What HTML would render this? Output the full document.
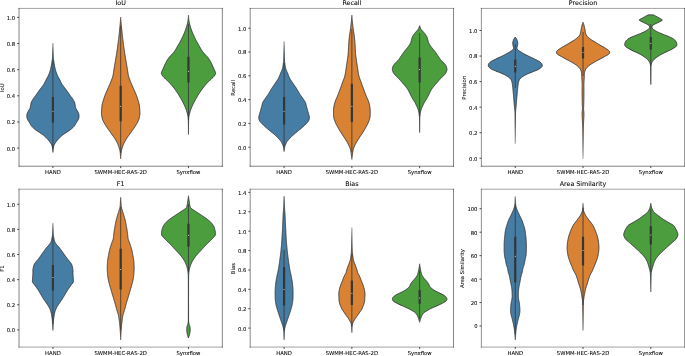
<!DOCTYPE html>
<html lang="en"><head><meta charset="utf-8"><title>Violin plots</title>
<style>html,body{margin:0;padding:0;background:#fff}svg{display:block;will-change:transform}text{stroke:#000;stroke-width:.06px;paint-order:stroke}</style></head>
<body>
<svg width="685" height="356" viewBox="0 0 685 356" font-family='"DejaVu Sans","Liberation Sans",sans-serif' font-size="5.30" fill="#000" stroke="none">
<rect width="685" height="356" fill="#fff"/>
<g>
<linearGradient id="g000" gradientUnits="userSpaceOnUse" x1="0" y1="43.00" x2="0" y2="152.50"><stop offset="0.0000" stop-color="#333537" stop-opacity="0.30"/><stop offset="0.1370" stop-color="#333537" stop-opacity="1.00"/><stop offset="0.9680" stop-color="#333537" stop-opacity="1.00"/><stop offset="1.0000" stop-color="#333537" stop-opacity="0.55"/></linearGradient>
<path d="M52.92 43.00 L52.93 43.50 L52.93 44.00 L52.94 44.50 L52.95 45.00 L52.96 45.50 L52.97 46.00 L52.98 46.50 L52.99 47.00 L53.01 47.50 L53.02 48.00 L53.03 48.50 L53.04 49.00 L53.05 49.50 L53.07 50.00 L53.08 50.50 L53.09 51.00 L53.11 51.50 L53.12 52.00 L53.13 52.50 L53.15 53.00 L53.16 53.50 L53.18 54.00 L53.20 54.50 L53.22 55.00 L53.24 55.50 L53.26 56.00 L53.28 56.50 L53.31 57.00 L53.33 57.50 L53.37 58.00 L53.41 58.50 L53.46 59.00 L53.52 59.50 L53.58 60.00 L53.65 60.50 L53.72 61.00 L53.79 61.50 L53.87 62.00 L53.95 62.50 L54.04 63.00 L54.13 63.50 L54.22 64.00 L54.30 64.50 L54.39 65.00 L54.48 65.50 L54.57 66.00 L54.66 66.50 L54.76 67.00 L54.87 67.50 L54.98 68.00 L55.09 68.50 L55.22 69.00 L55.34 69.50 L55.48 70.00 L55.62 70.50 L55.76 71.00 L55.92 71.50 L56.08 72.00 L56.24 72.50 L56.42 73.00 L56.60 73.50 L56.80 74.00 L57.00 74.50 L57.22 75.00 L57.44 75.50 L57.67 76.00 L57.92 76.50 L58.18 77.00 L58.47 77.50 L58.77 78.00 L59.07 78.50 L59.36 79.00 L59.62 79.50 L59.85 80.00 L60.07 80.50 L60.28 81.00 L60.52 81.50 L60.76 82.00 L61.00 82.50 L61.26 83.00 L61.53 83.50 L61.82 84.00 L62.14 84.50 L62.49 85.00 L62.86 85.50 L63.25 86.00 L63.64 86.50 L64.02 87.00 L64.39 87.50 L64.78 88.00 L65.16 88.50 L65.54 89.00 L65.92 89.50 L66.29 90.00 L66.65 90.50 L67.01 91.00 L67.37 91.50 L67.72 92.00 L68.07 92.50 L68.42 93.00 L68.76 93.50 L69.09 94.00 L69.42 94.50 L69.76 95.00 L70.10 95.50 L70.46 96.00 L70.85 96.50 L71.25 97.00 L71.65 97.50 L72.02 98.00 L72.36 98.50 L72.70 99.00 L73.02 99.50 L73.33 100.00 L73.62 100.50 L73.90 101.00 L74.18 101.50 L74.43 102.00 L74.62 102.50 L74.75 103.00 L74.85 103.50 L74.94 104.00 L75.02 104.50 L75.12 105.00 L75.21 105.50 L75.29 106.00 L75.38 106.50 L75.47 107.00 L75.58 107.50 L75.72 108.00 L75.92 108.50 L76.20 109.00 L76.53 109.50 L76.87 110.00 L77.19 110.50 L77.47 111.00 L77.73 111.50 L77.99 112.00 L78.24 112.50 L78.46 113.00 L78.63 113.50 L78.75 114.00 L78.84 114.50 L78.92 115.00 L78.98 115.50 L79.01 116.00 L79.01 116.50 L78.97 117.00 L78.90 117.50 L78.82 118.00 L78.68 118.50 L78.48 119.00 L78.24 119.50 L77.99 120.00 L77.72 120.50 L77.41 121.00 L77.09 121.50 L76.76 122.00 L76.44 122.50 L76.14 123.00 L75.85 123.50 L75.57 124.00 L75.29 124.50 L75.00 125.00 L74.67 125.50 L74.32 126.00 L73.91 126.50 L73.46 127.00 L72.97 127.50 L72.45 128.00 L71.89 128.50 L71.32 129.00 L70.70 129.50 L70.01 130.00 L69.29 130.50 L68.55 131.00 L67.80 131.50 L67.07 132.00 L66.32 132.50 L65.54 133.00 L64.76 133.50 L64.00 134.00 L63.28 134.50 L62.63 135.00 L62.01 135.50 L61.43 136.00 L60.87 136.50 L60.33 137.00 L59.82 137.50 L59.32 138.00 L58.85 138.50 L58.39 139.00 L57.95 139.50 L57.52 140.00 L57.12 140.50 L56.72 141.00 L56.33 141.50 L55.95 142.00 L55.59 142.50 L55.25 143.00 L54.93 143.50 L54.64 144.00 L54.36 144.50 L54.09 145.00 L53.87 145.50 L53.72 146.00 L53.61 146.50 L53.52 147.00 L53.45 147.50 L53.38 148.00 L53.33 148.50 L53.27 149.00 L53.21 149.50 L53.15 150.00 L53.10 150.50 L53.05 151.00 L53.00 151.50 L52.96 152.00 L52.92 152.50 L52.92 152.50 L52.88 152.00 L52.83 151.50 L52.79 151.00 L52.74 150.50 L52.68 150.00 L52.63 149.50 L52.57 149.00 L52.51 148.50 L52.45 148.00 L52.38 147.50 L52.31 147.00 L52.22 146.50 L52.12 146.00 L51.96 145.50 L51.74 145.00 L51.47 144.50 L51.19 144.00 L50.90 143.50 L50.59 143.00 L50.25 142.50 L49.88 142.00 L49.50 141.50 L49.11 141.00 L48.72 140.50 L48.31 140.00 L47.89 139.50 L47.45 139.00 L46.99 138.50 L46.51 138.00 L46.02 137.50 L45.50 137.00 L44.97 136.50 L44.41 136.00 L43.82 135.50 L43.21 135.00 L42.55 134.50 L41.83 134.00 L41.07 133.50 L40.29 133.00 L39.52 132.50 L38.76 132.00 L38.03 131.50 L37.28 131.00 L36.54 130.50 L35.82 130.00 L35.14 129.50 L34.52 129.00 L33.94 128.50 L33.39 128.00 L32.86 127.50 L32.37 127.00 L31.92 126.50 L31.52 126.00 L31.16 125.50 L30.84 125.00 L30.54 124.50 L30.26 124.00 L29.98 123.50 L29.70 123.00 L29.39 122.50 L29.07 122.00 L28.75 121.50 L28.42 121.00 L28.12 120.50 L27.84 120.00 L27.60 119.50 L27.36 119.00 L27.15 118.50 L27.02 118.00 L26.93 117.50 L26.87 117.00 L26.82 116.50 L26.82 116.00 L26.85 115.50 L26.91 115.00 L26.99 114.50 L27.09 114.00 L27.20 113.50 L27.37 113.00 L27.59 112.50 L27.84 112.00 L28.10 111.50 L28.37 111.00 L28.64 110.50 L28.96 110.00 L29.31 109.50 L29.63 109.00 L29.92 108.50 L30.12 108.00 L30.25 107.50 L30.36 107.00 L30.45 106.50 L30.54 106.00 L30.62 105.50 L30.72 105.00 L30.81 104.50 L30.89 104.00 L30.98 103.50 L31.09 103.00 L31.22 102.50 L31.40 102.00 L31.65 101.50 L31.93 101.00 L32.22 100.50 L32.51 100.00 L32.81 99.50 L33.14 99.00 L33.47 98.50 L33.82 98.00 L34.19 97.50 L34.58 97.00 L34.98 96.50 L35.37 96.00 L35.73 95.50 L36.08 95.00 L36.41 94.50 L36.74 94.00 L37.08 93.50 L37.42 93.00 L37.76 92.50 L38.11 92.00 L38.47 91.50 L38.82 91.00 L39.18 90.50 L39.54 90.00 L39.91 89.50 L40.29 89.00 L40.67 88.50 L41.06 88.00 L41.44 87.50 L41.82 87.00 L42.20 86.50 L42.58 86.00 L42.97 85.50 L43.34 85.00 L43.70 84.50 L44.02 84.00 L44.31 83.50 L44.58 83.00 L44.83 82.50 L45.07 82.00 L45.32 81.50 L45.55 81.00 L45.77 80.50 L45.99 80.00 L46.22 79.50 L46.47 79.00 L46.76 78.50 L47.06 78.00 L47.36 77.50 L47.65 77.00 L47.92 76.50 L48.16 76.00 L48.39 75.50 L48.62 75.00 L48.83 74.50 L49.04 74.00 L49.23 73.50 L49.41 73.00 L49.59 72.50 L49.76 72.00 L49.92 71.50 L50.07 71.00 L50.22 70.50 L50.36 70.00 L50.49 69.50 L50.62 69.00 L50.74 68.50 L50.86 68.00 L50.97 67.50 L51.07 67.00 L51.17 66.50 L51.26 66.00 L51.35 65.50 L51.44 65.00 L51.53 64.50 L51.62 64.00 L51.71 63.50 L51.79 63.00 L51.88 62.50 L51.97 62.00 L52.04 61.50 L52.12 61.00 L52.19 60.50 L52.25 60.00 L52.32 59.50 L52.38 59.00 L52.43 58.50 L52.47 58.00 L52.50 57.50 L52.53 57.00 L52.55 56.50 L52.58 56.00 L52.60 55.50 L52.62 55.00 L52.64 54.50 L52.65 54.00 L52.67 53.50 L52.68 53.00 L52.70 52.50 L52.71 52.00 L52.73 51.50 L52.74 51.00 L52.75 50.50 L52.77 50.00 L52.78 49.50 L52.79 49.00 L52.80 48.50 L52.82 48.00 L52.83 47.50 L52.84 47.00 L52.85 46.50 L52.86 46.00 L52.87 45.50 L52.88 45.00 L52.89 44.50 L52.90 44.00 L52.91 43.50 L52.92 43.00Z" fill="#467da5" stroke="url(#g000)" stroke-width="0.95" stroke-linejoin="round"/>
<line x1="52.92" y1="60.00" x2="52.92" y2="148.00" stroke="#333537" stroke-width="0.80"/>
<line x1="52.92" y1="97.00" x2="52.92" y2="122.50" stroke="#333537" stroke-width="2.20"/>
<circle cx="52.92" cy="111.25" r="0.50" fill="#fff"/>
<linearGradient id="g001" gradientUnits="userSpaceOnUse" x1="0" y1="17.00" x2="0" y2="159.00"><stop offset="0.0000" stop-color="#333537" stop-opacity="0.55"/><stop offset="0.0493" stop-color="#333537" stop-opacity="1.00"/><stop offset="0.9465" stop-color="#333537" stop-opacity="1.00"/><stop offset="1.0000" stop-color="#333537" stop-opacity="0.55"/></linearGradient>
<path d="M120.69 17.00 L120.72 17.50 L120.75 18.00 L120.78 18.50 L120.81 19.00 L120.85 19.50 L120.88 20.00 L120.92 20.50 L120.95 21.00 L120.99 21.50 L121.03 22.00 L121.07 22.50 L121.11 23.00 L121.15 23.50 L121.19 24.00 L121.23 24.50 L121.28 25.00 L121.33 25.50 L121.38 26.00 L121.43 26.50 L121.48 27.00 L121.53 27.50 L121.58 28.00 L121.64 28.50 L121.69 29.00 L121.74 29.50 L121.79 30.00 L121.84 30.50 L121.89 31.00 L121.94 31.50 L121.99 32.00 L122.04 32.50 L122.09 33.00 L122.14 33.50 L122.19 34.00 L122.24 34.50 L122.30 35.00 L122.35 35.50 L122.41 36.00 L122.47 36.50 L122.52 37.00 L122.58 37.50 L122.64 38.00 L122.70 38.50 L122.76 39.00 L122.82 39.50 L122.88 40.00 L122.94 40.50 L123.01 41.00 L123.07 41.50 L123.13 42.00 L123.20 42.50 L123.26 43.00 L123.32 43.50 L123.39 44.00 L123.46 44.50 L123.52 45.00 L123.59 45.50 L123.66 46.00 L123.73 46.50 L123.79 47.00 L123.86 47.50 L123.93 48.00 L124.00 48.50 L124.07 49.00 L124.15 49.50 L124.22 50.00 L124.29 50.50 L124.37 51.00 L124.44 51.50 L124.51 52.00 L124.59 52.50 L124.67 53.00 L124.74 53.50 L124.82 54.00 L124.90 54.50 L124.98 55.00 L125.06 55.50 L125.14 56.00 L125.22 56.50 L125.30 57.00 L125.39 57.50 L125.47 58.00 L125.56 58.50 L125.64 59.00 L125.73 59.50 L125.82 60.00 L125.90 60.50 L125.99 61.00 L126.07 61.50 L126.16 62.00 L126.24 62.50 L126.33 63.00 L126.42 63.50 L126.50 64.00 L126.59 64.50 L126.67 65.00 L126.76 65.50 L126.84 66.00 L126.93 66.50 L127.01 67.00 L127.09 67.50 L127.17 68.00 L127.25 68.50 L127.32 69.00 L127.39 69.50 L127.47 70.00 L127.54 70.50 L127.61 71.00 L127.69 71.50 L127.76 72.00 L127.84 72.50 L127.92 73.00 L128.01 73.50 L128.09 74.00 L128.18 74.50 L128.27 75.00 L128.38 75.50 L128.49 76.00 L128.62 76.50 L128.77 77.00 L128.94 77.50 L129.12 78.00 L129.30 78.50 L129.48 79.00 L129.66 79.50 L129.85 80.00 L130.04 80.50 L130.23 81.00 L130.43 81.50 L130.63 82.00 L130.84 82.50 L131.04 83.00 L131.26 83.50 L131.47 84.00 L131.69 84.50 L131.91 85.00 L132.13 85.50 L132.35 86.00 L132.57 86.50 L132.79 87.00 L133.01 87.50 L133.23 88.00 L133.45 88.50 L133.67 89.00 L133.90 89.50 L134.13 90.00 L134.36 90.50 L134.58 91.00 L134.81 91.50 L135.03 92.00 L135.25 92.50 L135.46 93.00 L135.66 93.50 L135.86 94.00 L136.05 94.50 L136.25 95.00 L136.44 95.50 L136.62 96.00 L136.81 96.50 L136.99 97.00 L137.16 97.50 L137.33 98.00 L137.50 98.50 L137.66 99.00 L137.81 99.50 L137.96 100.00 L138.11 100.50 L138.26 101.00 L138.41 101.50 L138.56 102.00 L138.70 102.50 L138.84 103.00 L138.96 103.50 L139.08 104.00 L139.18 104.50 L139.27 105.00 L139.34 105.50 L139.40 106.00 L139.46 106.50 L139.52 107.00 L139.57 107.50 L139.62 108.00 L139.66 108.50 L139.70 109.00 L139.74 109.50 L139.77 110.00 L139.80 110.50 L139.82 111.00 L139.84 111.50 L139.86 112.00 L139.88 112.50 L139.89 113.00 L139.89 113.50 L139.87 114.00 L139.81 114.50 L139.73 115.00 L139.64 115.50 L139.56 116.00 L139.48 116.50 L139.40 117.00 L139.31 117.50 L139.22 118.00 L139.11 118.50 L138.99 119.00 L138.84 119.50 L138.64 120.00 L138.42 120.50 L138.19 121.00 L137.94 121.50 L137.69 122.00 L137.43 122.50 L137.16 123.00 L136.87 123.50 L136.57 124.00 L136.27 124.50 L135.97 125.00 L135.67 125.50 L135.36 126.00 L135.04 126.50 L134.72 127.00 L134.39 127.50 L134.05 128.00 L133.70 128.50 L133.34 129.00 L132.97 129.50 L132.60 130.00 L132.23 130.50 L131.88 131.00 L131.53 131.50 L131.18 132.00 L130.83 132.50 L130.48 133.00 L130.13 133.50 L129.77 134.00 L129.41 134.50 L129.04 135.00 L128.68 135.50 L128.31 136.00 L127.96 136.50 L127.61 137.00 L127.27 137.50 L126.92 138.00 L126.59 138.50 L126.26 139.00 L125.95 139.50 L125.65 140.00 L125.36 140.50 L125.08 141.00 L124.80 141.50 L124.54 142.00 L124.29 142.50 L124.05 143.00 L123.82 143.50 L123.60 144.00 L123.39 144.50 L123.18 145.00 L122.99 145.50 L122.80 146.00 L122.63 146.50 L122.45 147.00 L122.29 147.50 L122.14 148.00 L121.99 148.50 L121.85 149.00 L121.71 149.50 L121.57 150.00 L121.45 150.50 L121.35 151.00 L121.28 151.50 L121.22 152.00 L121.17 152.50 L121.13 153.00 L121.10 153.50 L121.06 154.00 L121.03 154.50 L120.99 155.00 L120.95 155.50 L120.91 156.00 L120.87 156.50 L120.84 157.00 L120.80 157.50 L120.76 158.00 L120.73 158.50 L120.69 159.00 L120.69 159.00 L120.65 158.50 L120.62 158.00 L120.58 157.50 L120.54 157.00 L120.51 156.50 L120.47 156.00 L120.43 155.50 L120.39 155.00 L120.35 154.50 L120.32 154.00 L120.28 153.50 L120.25 153.00 L120.21 152.50 L120.16 152.00 L120.10 151.50 L120.03 151.00 L119.93 150.50 L119.81 150.00 L119.67 149.50 L119.53 149.00 L119.39 148.50 L119.24 148.00 L119.09 147.50 L118.93 147.00 L118.75 146.50 L118.58 146.00 L118.39 145.50 L118.20 145.00 L117.99 144.50 L117.78 144.00 L117.56 143.50 L117.33 143.00 L117.09 142.50 L116.84 142.00 L116.58 141.50 L116.30 141.00 L116.02 140.50 L115.73 140.00 L115.43 139.50 L115.12 139.00 L114.79 138.50 L114.46 138.00 L114.11 137.50 L113.77 137.00 L113.42 136.50 L113.07 136.00 L112.70 135.50 L112.34 135.00 L111.97 134.50 L111.61 134.00 L111.25 133.50 L110.90 133.00 L110.55 132.50 L110.20 132.00 L109.85 131.50 L109.50 131.00 L109.15 130.50 L108.78 130.00 L108.41 129.50 L108.04 129.00 L107.68 128.50 L107.33 128.00 L106.99 127.50 L106.66 127.00 L106.34 126.50 L106.02 126.00 L105.71 125.50 L105.41 125.00 L105.11 124.50 L104.81 124.00 L104.51 123.50 L104.22 123.00 L103.95 122.50 L103.69 122.00 L103.44 121.50 L103.19 121.00 L102.96 120.50 L102.74 120.00 L102.54 119.50 L102.39 119.00 L102.27 118.50 L102.16 118.00 L102.07 117.50 L101.98 117.00 L101.90 116.50 L101.82 116.00 L101.74 115.50 L101.65 115.00 L101.57 114.50 L101.51 114.00 L101.49 113.50 L101.49 113.00 L101.50 112.50 L101.52 112.00 L101.54 111.50 L101.56 111.00 L101.58 110.50 L101.61 110.00 L101.64 109.50 L101.68 109.00 L101.72 108.50 L101.76 108.00 L101.81 107.50 L101.86 107.00 L101.92 106.50 L101.98 106.00 L102.04 105.50 L102.11 105.00 L102.20 104.50 L102.30 104.00 L102.42 103.50 L102.54 103.00 L102.68 102.50 L102.82 102.00 L102.97 101.50 L103.12 101.00 L103.27 100.50 L103.42 100.00 L103.57 99.50 L103.72 99.00 L103.88 98.50 L104.05 98.00 L104.22 97.50 L104.39 97.00 L104.57 96.50 L104.76 96.00 L104.94 95.50 L105.13 95.00 L105.33 94.50 L105.52 94.00 L105.72 93.50 L105.92 93.00 L106.13 92.50 L106.35 92.00 L106.57 91.50 L106.80 91.00 L107.02 90.50 L107.25 90.00 L107.48 89.50 L107.71 89.00 L107.93 88.50 L108.15 88.00 L108.37 87.50 L108.59 87.00 L108.81 86.50 L109.03 86.00 L109.25 85.50 L109.47 85.00 L109.69 84.50 L109.91 84.00 L110.12 83.50 L110.34 83.00 L110.54 82.50 L110.75 82.00 L110.95 81.50 L111.15 81.00 L111.34 80.50 L111.53 80.00 L111.72 79.50 L111.90 79.00 L112.08 78.50 L112.26 78.00 L112.44 77.50 L112.61 77.00 L112.76 76.50 L112.89 76.00 L113.00 75.50 L113.11 75.00 L113.20 74.50 L113.29 74.00 L113.37 73.50 L113.46 73.00 L113.54 72.50 L113.62 72.00 L113.69 71.50 L113.77 71.00 L113.84 70.50 L113.91 70.00 L113.99 69.50 L114.06 69.00 L114.13 68.50 L114.21 68.00 L114.29 67.50 L114.37 67.00 L114.45 66.50 L114.54 66.00 L114.62 65.50 L114.71 65.00 L114.79 64.50 L114.88 64.00 L114.96 63.50 L115.05 63.00 L115.14 62.50 L115.22 62.00 L115.31 61.50 L115.39 61.00 L115.48 60.50 L115.56 60.00 L115.65 59.50 L115.74 59.00 L115.82 58.50 L115.91 58.00 L115.99 57.50 L116.08 57.00 L116.16 56.50 L116.24 56.00 L116.32 55.50 L116.40 55.00 L116.48 54.50 L116.56 54.00 L116.64 53.50 L116.71 53.00 L116.79 52.50 L116.87 52.00 L116.94 51.50 L117.01 51.00 L117.09 50.50 L117.16 50.00 L117.23 49.50 L117.31 49.00 L117.38 48.50 L117.45 48.00 L117.52 47.50 L117.59 47.00 L117.65 46.50 L117.72 46.00 L117.79 45.50 L117.86 45.00 L117.92 44.50 L117.99 44.00 L118.06 43.50 L118.12 43.00 L118.18 42.50 L118.25 42.00 L118.31 41.50 L118.37 41.00 L118.44 40.50 L118.50 40.00 L118.56 39.50 L118.62 39.00 L118.68 38.50 L118.74 38.00 L118.80 37.50 L118.86 37.00 L118.91 36.50 L118.97 36.00 L119.03 35.50 L119.08 35.00 L119.14 34.50 L119.19 34.00 L119.24 33.50 L119.29 33.00 L119.34 32.50 L119.39 32.00 L119.44 31.50 L119.49 31.00 L119.54 30.50 L119.59 30.00 L119.64 29.50 L119.69 29.00 L119.74 28.50 L119.80 28.00 L119.85 27.50 L119.90 27.00 L119.95 26.50 L120.00 26.00 L120.05 25.50 L120.10 25.00 L120.15 24.50 L120.19 24.00 L120.23 23.50 L120.27 23.00 L120.31 22.50 L120.35 22.00 L120.39 21.50 L120.43 21.00 L120.46 20.50 L120.50 20.00 L120.53 19.50 L120.57 19.00 L120.60 18.50 L120.63 18.00 L120.66 17.50 L120.69 17.00Z" fill="#da8234" stroke="url(#g001)" stroke-width="0.95" stroke-linejoin="round"/>
<line x1="120.69" y1="26.00" x2="120.69" y2="153.00" stroke="#333537" stroke-width="0.80"/>
<line x1="120.69" y1="85.80" x2="120.69" y2="121.30" stroke="#333537" stroke-width="2.20"/>
<circle cx="120.69" cy="106.25" r="0.50" fill="#fff"/>
<linearGradient id="g002" gradientUnits="userSpaceOnUse" x1="0" y1="15.00" x2="0" y2="134.50"><stop offset="0.0000" stop-color="#333537" stop-opacity="0.55"/><stop offset="0.0628" stop-color="#333537" stop-opacity="1.00"/><stop offset="0.8326" stop-color="#333537" stop-opacity="1.00"/><stop offset="1.0000" stop-color="#333537" stop-opacity="0.70"/></linearGradient>
<path d="M188.46 15.00 L188.49 15.50 L188.51 16.00 L188.55 16.50 L188.58 17.00 L188.62 17.50 L188.67 18.00 L188.71 18.50 L188.76 19.00 L188.82 19.50 L188.88 20.00 L188.94 20.50 L189.01 21.00 L189.09 21.50 L189.17 22.00 L189.26 22.50 L189.36 23.00 L189.48 23.50 L189.60 24.00 L189.74 24.50 L189.88 25.00 L190.02 25.50 L190.16 26.00 L190.31 26.50 L190.46 27.00 L190.62 27.50 L190.78 28.00 L190.94 28.50 L191.11 29.00 L191.29 29.50 L191.46 30.00 L191.64 30.50 L191.83 31.00 L192.02 31.50 L192.22 32.00 L192.41 32.50 L192.62 33.00 L192.82 33.50 L193.03 34.00 L193.25 34.50 L193.46 35.00 L193.68 35.50 L193.91 36.00 L194.14 36.50 L194.37 37.00 L194.61 37.50 L194.86 38.00 L195.10 38.50 L195.35 39.00 L195.61 39.50 L195.86 40.00 L196.12 40.50 L196.39 41.00 L196.66 41.50 L196.93 42.00 L197.21 42.50 L197.49 43.00 L197.78 43.50 L198.06 44.00 L198.35 44.50 L198.64 45.00 L198.93 45.50 L199.22 46.00 L199.51 46.50 L199.79 47.00 L200.08 47.50 L200.36 48.00 L200.65 48.50 L200.94 49.00 L201.24 49.50 L201.55 50.00 L201.86 50.50 L202.20 51.00 L202.55 51.50 L202.91 52.00 L203.32 52.50 L203.75 53.00 L204.21 53.50 L204.67 54.00 L205.14 54.50 L205.59 55.00 L206.07 55.50 L206.55 56.00 L207.04 56.50 L207.49 57.00 L207.91 57.50 L208.28 58.00 L208.63 58.50 L208.97 59.00 L209.29 59.50 L209.60 60.00 L209.90 60.50 L210.18 61.00 L210.46 61.50 L210.73 62.00 L211.00 62.50 L211.26 63.00 L211.51 63.50 L211.76 64.00 L212.00 64.50 L212.23 65.00 L212.46 65.50 L212.68 66.00 L212.90 66.50 L213.11 67.00 L213.32 67.50 L213.53 68.00 L213.74 68.50 L213.95 69.00 L214.16 69.50 L214.39 70.00 L214.64 70.50 L214.88 71.00 L215.10 71.50 L215.28 72.00 L215.41 72.50 L215.53 73.00 L215.56 73.50 L215.44 74.00 L215.21 74.50 L214.91 75.00 L214.60 75.50 L214.26 76.00 L213.85 76.50 L213.39 77.00 L212.90 77.50 L212.38 78.00 L211.87 78.50 L211.36 79.00 L210.83 79.50 L210.27 80.00 L209.70 80.50 L209.13 81.00 L208.58 81.50 L208.06 82.00 L207.58 82.50 L207.11 83.00 L206.66 83.50 L206.22 84.00 L205.79 84.50 L205.36 85.00 L204.94 85.50 L204.52 86.00 L204.11 86.50 L203.71 87.00 L203.32 87.50 L202.94 88.00 L202.57 88.50 L202.21 89.00 L201.86 89.50 L201.52 90.00 L201.17 90.50 L200.82 91.00 L200.47 91.50 L200.13 92.00 L199.78 92.50 L199.44 93.00 L199.11 93.50 L198.79 94.00 L198.47 94.50 L198.17 95.00 L197.87 95.50 L197.58 96.00 L197.28 96.50 L196.99 97.00 L196.69 97.50 L196.39 98.00 L196.10 98.50 L195.81 99.00 L195.53 99.50 L195.25 100.00 L194.97 100.50 L194.70 101.00 L194.43 101.50 L194.17 102.00 L193.91 102.50 L193.66 103.00 L193.41 103.50 L193.17 104.00 L192.93 104.50 L192.69 105.00 L192.46 105.50 L192.23 106.00 L192.01 106.50 L191.79 107.00 L191.57 107.50 L191.36 108.00 L191.16 108.50 L190.97 109.00 L190.78 109.50 L190.60 110.00 L190.43 110.50 L190.27 111.00 L190.11 111.50 L189.97 112.00 L189.84 112.50 L189.71 113.00 L189.59 113.50 L189.48 114.00 L189.36 114.50 L189.24 115.00 L189.12 115.50 L188.99 116.00 L188.89 116.50 L188.80 117.00 L188.76 117.50 L188.72 118.00 L188.70 118.50 L188.67 119.00 L188.65 119.50 L188.63 120.00 L188.62 120.50 L188.60 121.00 L188.59 121.50 L188.58 122.00 L188.57 122.50 L188.57 123.00 L188.56 123.50 L188.55 124.00 L188.54 124.50 L188.54 125.00 L188.53 125.50 L188.52 126.00 L188.52 126.50 L188.51 127.00 L188.50 127.50 L188.50 128.00 L188.49 128.50 L188.49 129.00 L188.49 129.50 L188.48 130.00 L188.48 130.50 L188.47 131.00 L188.47 131.50 L188.47 132.00 L188.47 132.50 L188.47 133.00 L188.46 133.50 L188.46 134.00 L188.46 134.50 L188.46 134.50 L188.46 134.00 L188.46 133.50 L188.46 133.00 L188.46 132.50 L188.46 132.00 L188.46 131.50 L188.45 131.00 L188.45 130.50 L188.45 130.00 L188.44 129.50 L188.44 129.00 L188.43 128.50 L188.43 128.00 L188.42 127.50 L188.42 127.00 L188.41 126.50 L188.40 126.00 L188.40 125.50 L188.39 125.00 L188.38 124.50 L188.38 124.00 L188.37 123.50 L188.36 123.00 L188.35 122.50 L188.34 122.00 L188.33 121.50 L188.32 121.00 L188.31 120.50 L188.29 120.00 L188.28 119.50 L188.25 119.00 L188.23 118.50 L188.20 118.00 L188.17 117.50 L188.12 117.00 L188.04 116.50 L187.93 116.00 L187.81 115.50 L187.68 115.00 L187.56 114.50 L187.45 114.00 L187.33 113.50 L187.21 113.00 L187.09 112.50 L186.95 112.00 L186.81 111.50 L186.66 111.00 L186.50 110.50 L186.32 110.00 L186.14 109.50 L185.96 109.00 L185.76 108.50 L185.56 108.00 L185.36 107.50 L185.14 107.00 L184.92 106.50 L184.70 106.00 L184.47 105.50 L184.24 105.00 L184.00 104.50 L183.76 104.00 L183.51 103.50 L183.27 103.00 L183.01 102.50 L182.76 102.00 L182.49 101.50 L182.23 101.00 L181.95 100.50 L181.68 100.00 L181.40 99.50 L181.12 99.00 L180.83 98.50 L180.53 98.00 L180.24 97.50 L179.94 97.00 L179.64 96.50 L179.35 96.00 L179.05 95.50 L178.76 95.00 L178.45 94.50 L178.14 94.00 L177.82 93.50 L177.49 93.00 L177.15 92.50 L176.80 92.00 L176.45 91.50 L176.10 91.00 L175.76 90.50 L175.41 90.00 L175.06 89.50 L174.71 89.00 L174.36 88.50 L173.99 88.00 L173.61 87.50 L173.22 87.00 L172.81 86.50 L172.40 86.00 L171.99 85.50 L171.56 85.00 L171.14 84.50 L170.70 84.00 L170.26 83.50 L169.81 83.00 L169.35 82.50 L168.86 82.00 L168.35 81.50 L167.80 81.00 L167.22 80.50 L166.65 80.00 L166.09 79.50 L165.56 79.00 L165.06 78.50 L164.54 78.00 L164.03 77.50 L163.54 77.00 L163.08 76.50 L162.67 76.00 L162.32 75.50 L162.02 75.00 L161.72 74.50 L161.48 74.00 L161.37 73.50 L161.40 73.00 L161.51 72.50 L161.65 72.00 L161.83 71.50 L162.05 71.00 L162.29 70.50 L162.53 70.00 L162.76 69.50 L162.98 69.00 L163.19 68.50 L163.40 68.00 L163.61 67.50 L163.82 67.00 L164.03 66.50 L164.25 66.00 L164.47 65.50 L164.69 65.00 L164.92 64.50 L165.16 64.00 L165.41 63.50 L165.67 63.00 L165.93 62.50 L166.19 62.00 L166.46 61.50 L166.74 61.00 L167.03 60.50 L167.33 60.00 L167.64 59.50 L167.96 59.00 L168.29 58.50 L168.65 58.00 L169.02 57.50 L169.43 57.00 L169.89 56.50 L170.37 56.00 L170.86 55.50 L171.33 55.00 L171.79 54.50 L172.25 54.00 L172.72 53.50 L173.17 53.00 L173.61 52.50 L174.01 52.00 L174.38 51.50 L174.73 51.00 L175.06 50.50 L175.38 50.00 L175.69 49.50 L175.99 49.00 L176.28 48.50 L176.57 48.00 L176.85 47.50 L177.13 47.00 L177.42 46.50 L177.71 46.00 L178.00 45.50 L178.29 45.00 L178.58 44.50 L178.87 44.00 L179.15 43.50 L179.44 43.00 L179.72 42.50 L179.99 42.00 L180.27 41.50 L180.54 41.00 L180.80 40.50 L181.06 40.00 L181.32 39.50 L181.57 39.00 L181.82 38.50 L182.07 38.00 L182.31 37.50 L182.55 37.00 L182.79 36.50 L183.02 36.00 L183.24 35.50 L183.46 35.00 L183.68 34.50 L183.89 34.00 L184.10 33.50 L184.31 33.00 L184.51 32.50 L184.71 32.00 L184.91 31.50 L185.10 31.00 L185.28 30.50 L185.46 30.00 L185.64 29.50 L185.81 29.00 L185.98 28.50 L186.15 28.00 L186.31 27.50 L186.47 27.00 L186.62 26.50 L186.76 26.00 L186.91 25.50 L187.05 25.00 L187.19 24.50 L187.32 24.00 L187.45 23.50 L187.56 23.00 L187.66 22.50 L187.75 22.00 L187.84 21.50 L187.91 21.00 L187.99 20.50 L188.05 20.00 L188.11 19.50 L188.16 19.00 L188.21 18.50 L188.26 18.00 L188.30 17.50 L188.34 17.00 L188.38 16.50 L188.41 16.00 L188.44 15.50 L188.46 15.00Z" fill="#4b9d3e" stroke="url(#g002)" stroke-width="0.95" stroke-linejoin="round"/>
<line x1="188.46" y1="24.00" x2="188.46" y2="120.00" stroke="#333537" stroke-width="0.80"/>
<line x1="188.46" y1="56.75" x2="188.46" y2="82.50" stroke="#333537" stroke-width="2.20"/>
<circle cx="188.46" cy="71.25" r="0.50" fill="#fff"/>
<line x1="19.03" y1="8.43" x2="222.35" y2="8.43" stroke="#111" stroke-width="0.85" stroke-opacity="0.45" stroke-linecap="square"/>
<line x1="19.03" y1="166.22" x2="222.35" y2="166.22" stroke="#111" stroke-width="0.52" stroke-opacity="1.00" stroke-linecap="square"/>
<line x1="19.03" y1="8.43" x2="19.03" y2="166.22" stroke="#111" stroke-width="0.52" stroke-opacity="1.00" stroke-linecap="square"/>
<line x1="222.35" y1="8.43" x2="222.35" y2="166.22" stroke="#111" stroke-width="0.52" stroke-opacity="1.00" stroke-linecap="square"/>
<line x1="17.18" y1="148.10" x2="19.03" y2="148.10" stroke="#111" stroke-width="0.75"/>
<text x="15.18" y="150.53" text-anchor="end">0.0</text>
<line x1="17.18" y1="121.96" x2="19.03" y2="121.96" stroke="#111" stroke-width="0.75"/>
<text x="15.18" y="124.39" text-anchor="end">0.2</text>
<line x1="17.18" y1="95.82" x2="19.03" y2="95.82" stroke="#111" stroke-width="0.75"/>
<text x="15.18" y="98.25" text-anchor="end">0.4</text>
<line x1="17.18" y1="69.68" x2="19.03" y2="69.68" stroke="#111" stroke-width="0.75"/>
<text x="15.18" y="72.11" text-anchor="end">0.6</text>
<line x1="17.18" y1="43.54" x2="19.03" y2="43.54" stroke="#111" stroke-width="0.75"/>
<text x="15.18" y="45.97" text-anchor="end">0.8</text>
<line x1="17.18" y1="17.40" x2="19.03" y2="17.40" stroke="#111" stroke-width="0.75"/>
<text x="15.18" y="19.83" text-anchor="end">1.0</text>
<line x1="52.92" y1="166.22" x2="52.92" y2="168.07" stroke="#111" stroke-width="0.75"/>
<text x="52.92" y="173.97" text-anchor="middle">HAND</text>
<line x1="120.69" y1="166.22" x2="120.69" y2="168.07" stroke="#111" stroke-width="0.75"/>
<text x="120.69" y="173.97" text-anchor="middle">SWMM-HEC-RAS-2D</text>
<line x1="188.46" y1="166.22" x2="188.46" y2="168.07" stroke="#111" stroke-width="0.75"/>
<text x="188.46" y="173.97" text-anchor="middle">Synxflow</text>
<text x="120.69" y="5.13" text-anchor="middle" font-size="6.35">IoU</text>
<text transform="translate(4.13 87.83) rotate(-90)" text-anchor="middle">IoU</text>
</g>
<g>
<linearGradient id="g010" gradientUnits="userSpaceOnUse" x1="0" y1="41.25" x2="0" y2="151.70"><stop offset="0.0000" stop-color="#333537" stop-opacity="0.30"/><stop offset="0.1625" stop-color="#333537" stop-opacity="1.00"/><stop offset="0.9710" stop-color="#333537" stop-opacity="1.00"/><stop offset="1.0000" stop-color="#333537" stop-opacity="0.55"/></linearGradient>
<path d="M284.09 41.25 L284.09 41.75 L284.10 42.25 L284.11 42.75 L284.12 43.25 L284.13 43.75 L284.13 44.25 L284.14 44.75 L284.15 45.25 L284.16 45.75 L284.17 46.25 L284.18 46.75 L284.19 47.25 L284.20 47.75 L284.20 48.25 L284.21 48.75 L284.22 49.25 L284.23 49.75 L284.24 50.25 L284.25 50.75 L284.26 51.25 L284.27 51.75 L284.28 52.25 L284.29 52.75 L284.30 53.25 L284.31 53.75 L284.32 54.25 L284.33 54.75 L284.34 55.25 L284.35 55.75 L284.36 56.25 L284.37 56.75 L284.38 57.25 L284.39 57.75 L284.41 58.25 L284.42 58.75 L284.44 59.25 L284.46 59.75 L284.49 60.25 L284.52 60.75 L284.56 61.25 L284.60 61.75 L284.65 62.25 L284.72 62.75 L284.80 63.25 L284.87 63.75 L284.95 64.25 L285.02 64.75 L285.09 65.25 L285.16 65.75 L285.22 66.25 L285.30 66.75 L285.39 67.25 L285.49 67.75 L285.62 68.25 L285.77 68.75 L285.93 69.25 L286.11 69.75 L286.29 70.25 L286.48 70.75 L286.70 71.25 L286.93 71.75 L287.16 72.25 L287.40 72.75 L287.62 73.25 L287.83 73.75 L288.02 74.25 L288.20 74.75 L288.39 75.25 L288.58 75.75 L288.79 76.25 L289.01 76.75 L289.22 77.25 L289.45 77.75 L289.69 78.25 L289.95 78.75 L290.23 79.25 L290.54 79.75 L290.88 80.25 L291.23 80.75 L291.59 81.25 L291.93 81.75 L292.27 82.25 L292.61 82.75 L292.94 83.25 L293.28 83.75 L293.61 84.25 L293.95 84.75 L294.29 85.25 L294.64 85.75 L294.99 86.25 L295.34 86.75 L295.68 87.25 L296.00 87.75 L296.32 88.25 L296.63 88.75 L296.93 89.25 L297.23 89.75 L297.52 90.25 L297.82 90.75 L298.11 91.25 L298.39 91.75 L298.67 92.25 L298.96 92.75 L299.26 93.25 L299.57 93.75 L299.90 94.25 L300.25 94.75 L300.61 95.25 L300.98 95.75 L301.34 96.25 L301.69 96.75 L302.04 97.25 L302.39 97.75 L302.73 98.25 L303.07 98.75 L303.41 99.25 L303.74 99.75 L304.08 100.25 L304.43 100.75 L304.77 101.25 L305.08 101.75 L305.33 102.25 L305.53 102.75 L305.68 103.25 L305.81 103.75 L305.93 104.25 L306.05 104.75 L306.17 105.25 L306.31 105.75 L306.45 106.25 L306.59 106.75 L306.74 107.25 L306.88 107.75 L307.02 108.25 L307.15 108.75 L307.28 109.25 L307.41 109.75 L307.53 110.25 L307.66 110.75 L307.80 111.25 L307.94 111.75 L308.10 112.25 L308.27 112.75 L308.43 113.25 L308.59 113.75 L308.73 114.25 L308.84 114.75 L308.96 115.25 L309.08 115.75 L309.19 116.25 L309.29 116.75 L309.35 117.25 L309.38 117.75 L309.37 118.25 L309.29 118.75 L309.15 119.25 L308.98 119.75 L308.79 120.25 L308.57 120.75 L308.28 121.25 L307.91 121.75 L307.48 122.25 L307.02 122.75 L306.55 123.25 L306.08 123.75 L305.62 124.25 L305.14 124.75 L304.63 125.25 L304.11 125.75 L303.58 126.25 L303.03 126.75 L302.47 127.25 L301.89 127.75 L301.29 128.25 L300.69 128.75 L300.08 129.25 L299.48 129.75 L298.87 130.25 L298.25 130.75 L297.63 131.25 L297.02 131.75 L296.41 132.25 L295.81 132.75 L295.20 133.25 L294.60 133.75 L294.01 134.25 L293.43 134.75 L292.86 135.25 L292.33 135.75 L291.82 136.25 L291.32 136.75 L290.84 137.25 L290.38 137.75 L289.92 138.25 L289.46 138.75 L288.99 139.25 L288.52 139.75 L288.06 140.25 L287.64 140.75 L287.26 141.25 L286.93 141.75 L286.64 142.25 L286.38 142.75 L286.13 143.25 L285.90 143.75 L285.67 144.25 L285.44 144.75 L285.21 145.25 L285.02 145.75 L284.87 146.25 L284.77 146.75 L284.68 147.25 L284.60 147.75 L284.52 148.25 L284.45 148.75 L284.38 149.25 L284.31 149.75 L284.25 150.25 L284.19 150.75 L284.13 151.25 L284.09 151.70 L284.09 151.70 L284.04 151.25 L283.99 150.75 L283.93 150.25 L283.86 149.75 L283.79 149.25 L283.72 148.75 L283.65 148.25 L283.58 147.75 L283.50 147.25 L283.41 146.75 L283.30 146.25 L283.15 145.75 L282.96 145.25 L282.74 144.75 L282.50 144.25 L282.27 143.75 L282.04 143.25 L281.80 142.75 L281.53 142.25 L281.24 141.75 L280.92 141.25 L280.54 140.75 L280.11 140.25 L279.66 139.75 L279.19 139.25 L278.72 138.75 L278.26 138.25 L277.80 137.75 L277.33 137.25 L276.85 136.75 L276.36 136.25 L275.84 135.75 L275.31 135.25 L274.75 134.75 L274.17 134.25 L273.57 133.75 L272.97 133.25 L272.37 132.75 L271.77 132.25 L271.15 131.75 L270.54 131.25 L269.92 130.75 L269.30 130.25 L268.70 129.75 L268.09 129.25 L267.49 128.75 L266.88 128.25 L266.28 127.75 L265.70 127.25 L265.14 126.75 L264.60 126.25 L264.06 125.75 L263.54 125.25 L263.04 124.75 L262.55 124.25 L262.09 123.75 L261.63 123.25 L261.15 122.75 L260.69 122.25 L260.27 121.75 L259.89 121.25 L259.60 120.75 L259.39 120.25 L259.20 119.75 L259.02 119.25 L258.89 118.75 L258.81 118.25 L258.79 117.75 L258.82 117.25 L258.89 116.75 L258.98 116.25 L259.09 115.75 L259.21 115.25 L259.33 114.75 L259.45 114.25 L259.58 113.75 L259.74 113.25 L259.91 112.75 L260.07 112.25 L260.23 111.75 L260.38 111.25 L260.51 110.75 L260.64 110.25 L260.77 109.75 L260.89 109.25 L261.02 108.75 L261.15 108.25 L261.29 107.75 L261.44 107.25 L261.58 106.75 L261.73 106.25 L261.87 105.75 L262.00 105.25 L262.12 104.75 L262.24 104.25 L262.36 103.75 L262.49 103.25 L262.65 102.75 L262.84 102.25 L263.10 101.75 L263.40 101.25 L263.74 100.75 L264.09 100.25 L264.44 99.75 L264.77 99.25 L265.10 98.75 L265.44 98.25 L265.79 97.75 L266.13 97.25 L266.48 96.75 L266.83 96.25 L267.19 95.75 L267.56 95.25 L267.92 94.75 L268.27 94.25 L268.60 93.75 L268.92 93.25 L269.21 92.75 L269.50 92.25 L269.78 91.75 L270.07 91.25 L270.36 90.75 L270.65 90.25 L270.95 89.75 L271.24 89.25 L271.55 88.75 L271.85 88.25 L272.17 87.75 L272.50 87.25 L272.84 86.75 L273.18 86.25 L273.53 85.75 L273.88 85.25 L274.22 84.75 L274.56 84.25 L274.90 83.75 L275.23 83.25 L275.57 82.75 L275.90 82.25 L276.24 81.75 L276.59 81.25 L276.94 80.75 L277.30 80.25 L277.63 79.75 L277.94 79.25 L278.22 78.75 L278.48 78.25 L278.72 77.75 L278.95 77.25 L279.17 76.75 L279.38 76.25 L279.59 75.75 L279.78 75.25 L279.97 74.75 L280.16 74.25 L280.35 73.75 L280.55 73.25 L280.77 72.75 L281.01 72.25 L281.25 71.75 L281.48 71.25 L281.69 70.75 L281.88 70.25 L282.06 69.75 L282.24 69.25 L282.41 68.75 L282.55 68.25 L282.68 67.75 L282.79 67.25 L282.87 66.75 L282.95 66.25 L283.02 65.75 L283.08 65.25 L283.15 64.75 L283.22 64.25 L283.30 63.75 L283.38 63.25 L283.45 62.75 L283.52 62.25 L283.57 61.75 L283.62 61.25 L283.65 60.75 L283.69 60.25 L283.71 59.75 L283.73 59.25 L283.75 58.75 L283.77 58.25 L283.78 57.75 L283.79 57.25 L283.80 56.75 L283.81 56.25 L283.82 55.75 L283.83 55.25 L283.84 54.75 L283.85 54.25 L283.86 53.75 L283.87 53.25 L283.88 52.75 L283.89 52.25 L283.90 51.75 L283.91 51.25 L283.92 50.75 L283.93 50.25 L283.94 49.75 L283.95 49.25 L283.96 48.75 L283.97 48.25 L283.98 47.75 L283.99 47.25 L284.00 46.75 L284.00 46.25 L284.01 45.75 L284.02 45.25 L284.03 44.75 L284.04 44.25 L284.05 43.75 L284.06 43.25 L284.06 42.75 L284.07 42.25 L284.08 41.75 L284.09 41.25Z" fill="#467da5" stroke="url(#g010)" stroke-width="0.95" stroke-linejoin="round"/>
<line x1="284.09" y1="63.00" x2="284.09" y2="147.00" stroke="#333537" stroke-width="0.80"/>
<line x1="284.09" y1="97.00" x2="284.09" y2="124.50" stroke="#333537" stroke-width="2.20"/>
<circle cx="284.09" cy="111.25" r="0.50" fill="#fff"/>
<linearGradient id="g011" gradientUnits="userSpaceOnUse" x1="0" y1="15.00" x2="0" y2="159.50"><stop offset="0.0000" stop-color="#333537" stop-opacity="0.55"/><stop offset="0.0401" stop-color="#333537" stop-opacity="1.00"/><stop offset="0.9689" stop-color="#333537" stop-opacity="1.00"/><stop offset="1.0000" stop-color="#333537" stop-opacity="0.55"/></linearGradient>
<path d="M351.86 15.00 L351.88 15.50 L351.91 16.00 L351.93 16.50 L351.96 17.00 L352.00 17.50 L352.03 18.00 L352.07 18.50 L352.11 19.00 L352.15 19.50 L352.19 20.00 L352.23 20.50 L352.28 21.00 L352.33 21.50 L352.38 22.00 L352.44 22.50 L352.51 23.00 L352.57 23.50 L352.64 24.00 L352.70 24.50 L352.76 25.00 L352.82 25.50 L352.88 26.00 L352.93 26.50 L352.99 27.00 L353.04 27.50 L353.10 28.00 L353.16 28.50 L353.22 29.00 L353.28 29.50 L353.35 30.00 L353.42 30.50 L353.50 31.00 L353.58 31.50 L353.66 32.00 L353.74 32.50 L353.82 33.00 L353.91 33.50 L353.99 34.00 L354.06 34.50 L354.13 35.00 L354.20 35.50 L354.26 36.00 L354.32 36.50 L354.37 37.00 L354.43 37.50 L354.48 38.00 L354.53 38.50 L354.59 39.00 L354.63 39.50 L354.68 40.00 L354.73 40.50 L354.77 41.00 L354.81 41.50 L354.85 42.00 L354.89 42.50 L354.93 43.00 L354.96 43.50 L355.00 44.00 L355.03 44.50 L355.06 45.00 L355.10 45.50 L355.13 46.00 L355.16 46.50 L355.19 47.00 L355.22 47.50 L355.24 48.00 L355.27 48.50 L355.29 49.00 L355.31 49.50 L355.33 50.00 L355.36 50.50 L355.38 51.00 L355.40 51.50 L355.43 52.00 L355.46 52.50 L355.49 53.00 L355.52 53.50 L355.57 54.00 L355.62 54.50 L355.67 55.00 L355.73 55.50 L355.79 56.00 L355.86 56.50 L355.93 57.00 L356.00 57.50 L356.07 58.00 L356.15 58.50 L356.22 59.00 L356.29 59.50 L356.36 60.00 L356.43 60.50 L356.50 61.00 L356.57 61.50 L356.64 62.00 L356.71 62.50 L356.78 63.00 L356.85 63.50 L356.93 64.00 L357.00 64.50 L357.08 65.00 L357.15 65.50 L357.23 66.00 L357.30 66.50 L357.38 67.00 L357.46 67.50 L357.54 68.00 L357.61 68.50 L357.69 69.00 L357.76 69.50 L357.84 70.00 L357.91 70.50 L357.99 71.00 L358.06 71.50 L358.14 72.00 L358.22 72.50 L358.31 73.00 L358.40 73.50 L358.49 74.00 L358.59 74.50 L358.69 75.00 L358.80 75.50 L358.91 76.00 L359.04 76.50 L359.18 77.00 L359.34 77.50 L359.52 78.00 L359.70 78.50 L359.89 79.00 L360.09 79.50 L360.28 80.00 L360.48 80.50 L360.68 81.00 L360.86 81.50 L361.05 82.00 L361.22 82.50 L361.40 83.00 L361.58 83.50 L361.75 84.00 L361.93 84.50 L362.11 85.00 L362.28 85.50 L362.46 86.00 L362.64 86.50 L362.82 87.00 L363.00 87.50 L363.18 88.00 L363.37 88.50 L363.55 89.00 L363.73 89.50 L363.92 90.00 L364.10 90.50 L364.29 91.00 L364.47 91.50 L364.66 92.00 L364.85 92.50 L365.04 93.00 L365.23 93.50 L365.43 94.00 L365.62 94.50 L365.81 95.00 L366.01 95.50 L366.21 96.00 L366.42 96.50 L366.63 97.00 L366.86 97.50 L367.10 98.00 L367.33 98.50 L367.56 99.00 L367.77 99.50 L367.97 100.00 L368.17 100.50 L368.35 101.00 L368.54 101.50 L368.70 102.00 L368.86 102.50 L369.01 103.00 L369.14 103.50 L369.28 104.00 L369.40 104.50 L369.51 105.00 L369.61 105.50 L369.70 106.00 L369.79 106.50 L369.88 107.00 L369.95 107.50 L370.01 108.00 L370.06 108.50 L370.10 109.00 L370.13 109.50 L370.17 110.00 L370.19 110.50 L370.21 111.00 L370.21 111.50 L370.21 112.00 L370.21 112.50 L370.21 113.00 L370.21 113.50 L370.21 114.00 L370.20 114.50 L370.18 115.00 L370.15 115.50 L370.10 116.00 L370.05 116.50 L369.99 117.00 L369.93 117.50 L369.85 118.00 L369.73 118.50 L369.59 119.00 L369.43 119.50 L369.25 120.00 L369.07 120.50 L368.87 121.00 L368.66 121.50 L368.46 122.00 L368.26 122.50 L368.05 123.00 L367.83 123.50 L367.60 124.00 L367.36 124.50 L367.10 125.00 L366.84 125.50 L366.58 126.00 L366.31 126.50 L366.03 127.00 L365.76 127.50 L365.48 128.00 L365.20 128.50 L364.91 129.00 L364.61 129.50 L364.31 130.00 L364.01 130.50 L363.70 131.00 L363.39 131.50 L363.07 132.00 L362.76 132.50 L362.44 133.00 L362.12 133.50 L361.79 134.00 L361.45 134.50 L361.12 135.00 L360.78 135.50 L360.44 136.00 L360.11 136.50 L359.78 137.00 L359.46 137.50 L359.14 138.00 L358.82 138.50 L358.50 139.00 L358.18 139.50 L357.86 140.00 L357.55 140.50 L357.24 141.00 L356.94 141.50 L356.64 142.00 L356.36 142.50 L356.08 143.00 L355.80 143.50 L355.53 144.00 L355.27 144.50 L355.02 145.00 L354.78 145.50 L354.56 146.00 L354.35 146.50 L354.13 147.00 L353.93 147.50 L353.73 148.00 L353.54 148.50 L353.38 149.00 L353.23 149.50 L353.11 150.00 L353.01 150.50 L352.91 151.00 L352.83 151.50 L352.75 152.00 L352.68 152.50 L352.61 153.00 L352.55 153.50 L352.49 154.00 L352.42 154.50 L352.36 155.00 L352.30 155.50 L352.24 156.00 L352.18 156.50 L352.12 157.00 L352.06 157.50 L352.01 158.00 L351.96 158.50 L351.91 159.00 L351.86 159.50 L351.86 159.50 L351.81 159.00 L351.76 158.50 L351.71 158.00 L351.66 157.50 L351.60 157.00 L351.54 156.50 L351.48 156.00 L351.42 155.50 L351.36 155.00 L351.30 154.50 L351.23 154.00 L351.17 153.50 L351.11 153.00 L351.04 152.50 L350.97 152.00 L350.89 151.50 L350.81 151.00 L350.71 150.50 L350.61 150.00 L350.49 149.50 L350.34 149.00 L350.18 148.50 L349.99 148.00 L349.79 147.50 L349.59 147.00 L349.37 146.50 L349.16 146.00 L348.94 145.50 L348.70 145.00 L348.45 144.50 L348.19 144.00 L347.92 143.50 L347.64 143.00 L347.36 142.50 L347.08 142.00 L346.78 141.50 L346.48 141.00 L346.17 140.50 L345.86 140.00 L345.54 139.50 L345.22 139.00 L344.90 138.50 L344.58 138.00 L344.26 137.50 L343.94 137.00 L343.61 136.50 L343.28 136.00 L342.94 135.50 L342.60 135.00 L342.27 134.50 L341.93 134.00 L341.60 133.50 L341.28 133.00 L340.96 132.50 L340.65 132.00 L340.33 131.50 L340.02 131.00 L339.71 130.50 L339.41 130.00 L339.11 129.50 L338.81 129.00 L338.52 128.50 L338.24 128.00 L337.96 127.50 L337.69 127.00 L337.41 126.50 L337.14 126.00 L336.88 125.50 L336.62 125.00 L336.36 124.50 L336.12 124.00 L335.89 123.50 L335.67 123.00 L335.46 122.50 L335.26 122.00 L335.06 121.50 L334.85 121.00 L334.65 120.50 L334.47 120.00 L334.29 119.50 L334.13 119.00 L333.99 118.50 L333.87 118.00 L333.79 117.50 L333.73 117.00 L333.67 116.50 L333.62 116.00 L333.57 115.50 L333.54 115.00 L333.52 114.50 L333.51 114.00 L333.51 113.50 L333.51 113.00 L333.51 112.50 L333.51 112.00 L333.51 111.50 L333.51 111.00 L333.53 110.50 L333.55 110.00 L333.59 109.50 L333.62 109.00 L333.66 108.50 L333.71 108.00 L333.77 107.50 L333.84 107.00 L333.93 106.50 L334.02 106.00 L334.11 105.50 L334.21 105.00 L334.32 104.50 L334.44 104.00 L334.58 103.50 L334.71 103.00 L334.86 102.50 L335.02 102.00 L335.18 101.50 L335.37 101.00 L335.55 100.50 L335.75 100.00 L335.95 99.50 L336.16 99.00 L336.39 98.50 L336.62 98.00 L336.86 97.50 L337.09 97.00 L337.30 96.50 L337.51 96.00 L337.71 95.50 L337.91 95.00 L338.10 94.50 L338.29 94.00 L338.49 93.50 L338.68 93.00 L338.87 92.50 L339.06 92.00 L339.25 91.50 L339.43 91.00 L339.62 90.50 L339.80 90.00 L339.99 89.50 L340.17 89.00 L340.35 88.50 L340.54 88.00 L340.72 87.50 L340.90 87.00 L341.08 86.50 L341.26 86.00 L341.44 85.50 L341.61 85.00 L341.79 84.50 L341.97 84.00 L342.14 83.50 L342.32 83.00 L342.50 82.50 L342.67 82.00 L342.86 81.50 L343.04 81.00 L343.24 80.50 L343.44 80.00 L343.63 79.50 L343.83 79.00 L344.02 78.50 L344.20 78.00 L344.38 77.50 L344.54 77.00 L344.68 76.50 L344.81 76.00 L344.92 75.50 L345.03 75.00 L345.13 74.50 L345.23 74.00 L345.32 73.50 L345.41 73.00 L345.50 72.50 L345.58 72.00 L345.66 71.50 L345.73 71.00 L345.81 70.50 L345.88 70.00 L345.96 69.50 L346.03 69.00 L346.11 68.50 L346.18 68.00 L346.26 67.50 L346.34 67.00 L346.42 66.50 L346.49 66.00 L346.57 65.50 L346.64 65.00 L346.72 64.50 L346.79 64.00 L346.87 63.50 L346.94 63.00 L347.01 62.50 L347.08 62.00 L347.15 61.50 L347.22 61.00 L347.29 60.50 L347.36 60.00 L347.43 59.50 L347.50 59.00 L347.57 58.50 L347.65 58.00 L347.72 57.50 L347.79 57.00 L347.86 56.50 L347.93 56.00 L347.99 55.50 L348.05 55.00 L348.10 54.50 L348.15 54.00 L348.20 53.50 L348.23 53.00 L348.26 52.50 L348.29 52.00 L348.32 51.50 L348.34 51.00 L348.36 50.50 L348.39 50.00 L348.41 49.50 L348.43 49.00 L348.45 48.50 L348.48 48.00 L348.50 47.50 L348.53 47.00 L348.56 46.50 L348.59 46.00 L348.62 45.50 L348.66 45.00 L348.69 44.50 L348.72 44.00 L348.76 43.50 L348.79 43.00 L348.83 42.50 L348.87 42.00 L348.91 41.50 L348.95 41.00 L348.99 40.50 L349.04 40.00 L349.09 39.50 L349.13 39.00 L349.19 38.50 L349.24 38.00 L349.29 37.50 L349.35 37.00 L349.40 36.50 L349.46 36.00 L349.52 35.50 L349.59 35.00 L349.66 34.50 L349.73 34.00 L349.81 33.50 L349.90 33.00 L349.98 32.50 L350.06 32.00 L350.14 31.50 L350.22 31.00 L350.30 30.50 L350.37 30.00 L350.44 29.50 L350.50 29.00 L350.56 28.50 L350.62 28.00 L350.68 27.50 L350.73 27.00 L350.79 26.50 L350.84 26.00 L350.90 25.50 L350.96 25.00 L351.02 24.50 L351.08 24.00 L351.15 23.50 L351.21 23.00 L351.28 22.50 L351.34 22.00 L351.39 21.50 L351.44 21.00 L351.49 20.50 L351.53 20.00 L351.57 19.50 L351.61 19.00 L351.65 18.50 L351.69 18.00 L351.72 17.50 L351.76 17.00 L351.79 16.50 L351.81 16.00 L351.84 15.50 L351.86 15.00Z" fill="#da8234" stroke="url(#g011)" stroke-width="0.95" stroke-linejoin="round"/>
<line x1="351.86" y1="29.00" x2="351.86" y2="152.00" stroke="#333537" stroke-width="0.80"/>
<line x1="351.86" y1="83.75" x2="351.86" y2="122.00" stroke="#333537" stroke-width="2.20"/>
<circle cx="351.86" cy="106.25" r="0.50" fill="#fff"/>
<linearGradient id="g012" gradientUnits="userSpaceOnUse" x1="0" y1="25.75" x2="0" y2="132.50"><stop offset="0.0000" stop-color="#333537" stop-opacity="1.00"/><stop offset="0.8267" stop-color="#333537" stop-opacity="1.00"/><stop offset="1.0000" stop-color="#333537" stop-opacity="0.70"/></linearGradient>
<path d="M419.63 25.75 L419.79 26.25 L419.96 26.75 L420.14 27.25 L420.32 27.75 L420.50 28.25 L420.71 28.75 L420.99 29.25 L421.38 29.75 L421.84 30.25 L422.31 30.75 L422.75 31.25 L423.20 31.75 L423.65 32.25 L424.09 32.75 L424.51 33.25 L424.90 33.75 L425.25 34.25 L425.60 34.75 L425.93 35.25 L426.25 35.75 L426.54 36.25 L426.79 36.75 L427.01 37.25 L427.20 37.75 L427.36 38.25 L427.50 38.75 L427.64 39.25 L427.77 39.75 L427.90 40.25 L428.01 40.75 L428.13 41.25 L428.26 41.75 L428.42 42.25 L428.62 42.75 L428.86 43.25 L429.12 43.75 L429.40 44.25 L429.70 44.75 L430.01 45.25 L430.33 45.75 L430.69 46.25 L431.08 46.75 L431.49 47.25 L431.91 47.75 L432.33 48.25 L432.73 48.75 L433.14 49.25 L433.55 49.75 L433.95 50.25 L434.36 50.75 L434.74 51.25 L435.12 51.75 L435.48 52.25 L435.83 52.75 L436.17 53.25 L436.52 53.75 L436.86 54.25 L437.21 54.75 L437.55 55.25 L437.90 55.75 L438.24 56.25 L438.59 56.75 L438.93 57.25 L439.27 57.75 L439.60 58.25 L439.93 58.75 L440.27 59.25 L440.64 59.75 L441.05 60.25 L441.52 60.75 L442.04 61.25 L442.59 61.75 L443.13 62.25 L443.65 62.75 L444.12 63.25 L444.53 63.75 L444.94 64.25 L445.33 64.75 L445.69 65.25 L446.00 65.75 L446.24 66.25 L446.41 66.75 L446.56 67.25 L446.70 67.75 L446.81 68.25 L446.89 68.75 L446.93 69.25 L446.91 69.75 L446.83 70.25 L446.69 70.75 L446.52 71.25 L446.33 71.75 L446.13 72.25 L445.88 72.75 L445.59 73.25 L445.25 73.75 L444.90 74.25 L444.49 74.75 L444.01 75.25 L443.50 75.75 L442.95 76.25 L442.41 76.75 L441.88 77.25 L441.39 77.75 L440.91 78.25 L440.44 78.75 L439.98 79.25 L439.52 79.75 L439.07 80.25 L438.62 80.75 L438.17 81.25 L437.73 81.75 L437.29 82.25 L436.86 82.75 L436.43 83.25 L436.01 83.75 L435.58 84.25 L435.15 84.75 L434.72 85.25 L434.29 85.75 L433.87 86.25 L433.46 86.75 L433.05 87.25 L432.66 87.75 L432.29 88.25 L431.93 88.75 L431.59 89.25 L431.28 89.75 L430.99 90.25 L430.72 90.75 L430.46 91.25 L430.21 91.75 L429.96 92.25 L429.71 92.75 L429.46 93.25 L429.23 93.75 L428.99 94.25 L428.75 94.75 L428.51 95.25 L428.26 95.75 L428.01 96.25 L427.75 96.75 L427.49 97.25 L427.22 97.75 L426.94 98.25 L426.64 98.75 L426.33 99.25 L426.01 99.75 L425.69 100.25 L425.37 100.75 L425.06 101.25 L424.76 101.75 L424.47 102.25 L424.18 102.75 L423.91 103.25 L423.66 103.75 L423.42 104.25 L423.20 104.75 L422.97 105.25 L422.75 105.75 L422.52 106.25 L422.27 106.75 L422.02 107.25 L421.77 107.75 L421.55 108.25 L421.37 108.75 L421.21 109.25 L421.06 109.75 L420.93 110.25 L420.81 110.75 L420.69 111.25 L420.58 111.75 L420.46 112.25 L420.35 112.75 L420.25 113.25 L420.17 113.75 L420.10 114.25 L420.04 114.75 L419.98 115.25 L419.93 115.75 L419.89 116.25 L419.85 116.75 L419.83 117.25 L419.82 117.75 L419.80 118.25 L419.79 118.75 L419.78 119.25 L419.77 119.75 L419.76 120.25 L419.75 120.75 L419.74 121.25 L419.74 121.75 L419.73 122.25 L419.72 122.75 L419.72 123.25 L419.71 123.75 L419.70 124.25 L419.70 124.75 L419.69 125.25 L419.68 125.75 L419.68 126.25 L419.67 126.75 L419.67 127.25 L419.66 127.75 L419.66 128.25 L419.65 128.75 L419.65 129.25 L419.65 129.75 L419.64 130.25 L419.64 130.75 L419.64 131.25 L419.64 131.75 L419.63 132.25 L419.63 132.50 L419.63 132.50 L419.63 132.25 L419.63 131.75 L419.63 131.25 L419.63 130.75 L419.62 130.25 L419.62 129.75 L419.62 129.25 L419.61 128.75 L419.61 128.25 L419.60 127.75 L419.60 127.25 L419.59 126.75 L419.59 126.25 L419.58 125.75 L419.58 125.25 L419.57 124.75 L419.56 124.25 L419.56 123.75 L419.55 123.25 L419.54 122.75 L419.54 122.25 L419.53 121.75 L419.52 121.25 L419.52 120.75 L419.51 120.25 L419.50 119.75 L419.49 119.25 L419.48 118.75 L419.47 118.25 L419.45 117.75 L419.44 117.25 L419.41 116.75 L419.38 116.25 L419.34 115.75 L419.28 115.25 L419.23 114.75 L419.17 114.25 L419.10 113.75 L419.01 113.25 L418.91 112.75 L418.80 112.25 L418.69 111.75 L418.58 111.25 L418.46 110.75 L418.34 110.25 L418.20 109.75 L418.06 109.25 L417.90 108.75 L417.71 108.25 L417.49 107.75 L417.25 107.25 L417.00 106.75 L416.75 106.25 L416.52 105.75 L416.29 105.25 L416.07 104.75 L415.84 104.25 L415.61 103.75 L415.36 103.25 L415.09 102.75 L414.80 102.25 L414.50 101.75 L414.20 101.25 L413.90 100.75 L413.58 100.25 L413.26 99.75 L412.94 99.25 L412.63 98.75 L412.33 98.25 L412.04 97.75 L411.77 97.25 L411.51 96.75 L411.26 96.25 L411.01 95.75 L410.76 95.25 L410.52 94.75 L410.28 94.25 L410.04 93.75 L409.80 93.25 L409.56 92.75 L409.31 92.25 L409.06 91.75 L408.81 91.25 L408.55 90.75 L408.28 90.25 L407.99 89.75 L407.67 89.25 L407.34 88.75 L406.98 88.25 L406.60 87.75 L406.21 87.25 L405.81 86.75 L405.39 86.25 L404.97 85.75 L404.55 85.25 L404.12 84.75 L403.69 84.25 L403.26 83.75 L402.84 83.25 L402.41 82.75 L401.98 82.25 L401.54 81.75 L401.10 81.25 L400.65 80.75 L400.20 80.25 L399.75 79.75 L399.29 79.25 L398.82 78.75 L398.35 78.25 L397.88 77.75 L397.39 77.25 L396.86 76.75 L396.31 76.25 L395.77 75.75 L395.25 75.25 L394.78 74.75 L394.37 74.25 L394.01 73.75 L393.68 73.25 L393.38 72.75 L393.13 72.25 L392.94 71.75 L392.75 71.25 L392.58 70.75 L392.44 70.25 L392.35 69.75 L392.34 69.25 L392.37 68.75 L392.45 68.25 L392.57 67.75 L392.70 67.25 L392.85 66.75 L393.02 66.25 L393.27 65.75 L393.58 65.25 L393.94 64.75 L394.33 64.25 L394.73 63.75 L395.14 63.25 L395.61 62.75 L396.13 62.25 L396.68 61.75 L397.22 61.25 L397.75 60.75 L398.22 60.25 L398.63 59.75 L399.00 59.25 L399.34 58.75 L399.67 58.25 L400.00 57.75 L400.34 57.25 L400.68 56.75 L401.03 56.25 L401.37 55.75 L401.71 55.25 L402.06 54.75 L402.41 54.25 L402.75 53.75 L403.09 53.25 L403.44 52.75 L403.79 52.25 L404.15 51.75 L404.52 51.25 L404.91 50.75 L405.31 50.25 L405.72 49.75 L406.13 49.25 L406.53 48.75 L406.94 48.25 L407.35 47.75 L407.77 47.25 L408.19 46.75 L408.58 46.25 L408.94 45.75 L409.26 45.25 L409.57 44.75 L409.87 44.25 L410.15 43.75 L410.41 43.25 L410.65 42.75 L410.85 42.25 L411.01 41.75 L411.14 41.25 L411.25 40.75 L411.37 40.25 L411.50 39.75 L411.63 39.25 L411.76 38.75 L411.91 38.25 L412.07 37.75 L412.25 37.25 L412.47 36.75 L412.73 36.25 L413.02 35.75 L413.33 35.25 L413.67 34.75 L414.02 34.25 L414.37 33.75 L414.75 33.25 L415.17 32.75 L415.62 32.25 L416.07 31.75 L416.52 31.25 L416.96 30.75 L417.43 30.25 L417.89 29.75 L418.28 29.25 L418.56 28.75 L418.76 28.25 L418.94 27.75 L419.12 27.25 L419.30 26.75 L419.47 26.25 L419.63 25.75Z" fill="#4b9d3e" stroke="url(#g012)" stroke-width="0.95" stroke-linejoin="round"/>
<line x1="419.63" y1="33.00" x2="419.63" y2="116.00" stroke="#333537" stroke-width="0.80"/>
<line x1="419.63" y1="57.50" x2="419.63" y2="82.50" stroke="#333537" stroke-width="2.20"/>
<circle cx="419.63" cy="69.50" r="0.50" fill="#fff"/>
<line x1="250.20" y1="8.43" x2="453.52" y2="8.43" stroke="#111" stroke-width="0.85" stroke-opacity="0.45" stroke-linecap="square"/>
<line x1="250.20" y1="166.22" x2="453.52" y2="166.22" stroke="#111" stroke-width="0.52" stroke-opacity="1.00" stroke-linecap="square"/>
<line x1="250.20" y1="8.43" x2="250.20" y2="166.22" stroke="#111" stroke-width="0.62" stroke-opacity="0.80" stroke-linecap="square"/>
<line x1="453.52" y1="8.43" x2="453.52" y2="166.22" stroke="#111" stroke-width="0.52" stroke-opacity="1.00" stroke-linecap="square"/>
<line x1="248.35" y1="147.20" x2="250.20" y2="147.20" stroke="#111" stroke-width="0.75"/>
<text x="246.35" y="149.63" text-anchor="end">0.0</text>
<line x1="248.35" y1="123.40" x2="250.20" y2="123.40" stroke="#111" stroke-width="0.75"/>
<text x="246.35" y="125.83" text-anchor="end">0.2</text>
<line x1="248.35" y1="99.60" x2="250.20" y2="99.60" stroke="#111" stroke-width="0.75"/>
<text x="246.35" y="102.03" text-anchor="end">0.4</text>
<line x1="248.35" y1="75.80" x2="250.20" y2="75.80" stroke="#111" stroke-width="0.75"/>
<text x="246.35" y="78.23" text-anchor="end">0.6</text>
<line x1="248.35" y1="52.00" x2="250.20" y2="52.00" stroke="#111" stroke-width="0.75"/>
<text x="246.35" y="54.43" text-anchor="end">0.8</text>
<line x1="248.35" y1="28.20" x2="250.20" y2="28.20" stroke="#111" stroke-width="0.75"/>
<text x="246.35" y="30.63" text-anchor="end">1.0</text>
<line x1="284.09" y1="166.22" x2="284.09" y2="168.07" stroke="#111" stroke-width="0.75"/>
<text x="284.09" y="173.97" text-anchor="middle">HAND</text>
<line x1="351.86" y1="166.22" x2="351.86" y2="168.07" stroke="#111" stroke-width="0.75"/>
<text x="351.86" y="173.97" text-anchor="middle">SWMM-HEC-RAS-2D</text>
<line x1="419.63" y1="166.22" x2="419.63" y2="168.07" stroke="#111" stroke-width="0.75"/>
<text x="419.63" y="173.97" text-anchor="middle">Synxflow</text>
<text x="351.86" y="5.13" text-anchor="middle" font-size="6.35">Recall</text>
<text transform="translate(235.30 87.83) rotate(-90)" text-anchor="middle">Recall</text>
</g>
<g>
<linearGradient id="g020" gradientUnits="userSpaceOnUse" x1="0" y1="37.00" x2="0" y2="143.75"><stop offset="0.0000" stop-color="#333537" stop-opacity="1.00"/><stop offset="0.6707" stop-color="#333537" stop-opacity="1.00"/><stop offset="1.0000" stop-color="#333537" stop-opacity="0.30"/></linearGradient>
<path d="M515.25 37.00 L515.61 37.50 L515.94 38.00 L516.25 38.50 L516.53 39.00 L516.79 39.50 L517.00 40.00 L517.16 40.50 L517.32 41.00 L517.47 41.50 L517.59 42.00 L517.68 42.50 L517.74 43.00 L517.74 43.50 L517.71 44.00 L517.64 44.50 L517.55 45.00 L517.45 45.50 L517.35 46.00 L517.22 46.50 L517.05 47.00 L516.91 47.50 L516.85 48.00 L516.93 48.50 L517.14 49.00 L517.44 49.50 L517.82 50.00 L518.48 50.50 L519.32 51.00 L520.15 51.50 L520.91 52.00 L521.69 52.50 L522.51 53.00 L523.38 53.50 L524.31 54.00 L525.27 54.50 L526.25 55.00 L527.22 55.50 L528.21 56.00 L529.22 56.50 L530.25 57.00 L531.33 57.50 L532.45 58.00 L533.54 58.50 L534.56 59.00 L535.54 59.50 L536.50 60.00 L537.43 60.50 L538.41 61.00 L539.35 61.50 L540.13 62.00 L540.69 62.50 L541.18 63.00 L541.57 63.50 L541.85 64.00 L542.05 64.50 L542.20 65.00 L542.24 65.50 L542.16 66.00 L541.98 66.50 L541.72 67.00 L541.19 67.50 L540.55 68.00 L539.87 68.50 L539.09 69.00 L538.18 69.50 L537.11 70.00 L535.94 70.50 L534.75 71.00 L533.53 71.50 L532.26 72.00 L530.99 72.50 L529.76 73.00 L528.52 73.50 L527.33 74.00 L526.25 74.50 L525.29 75.00 L524.42 75.50 L523.61 76.00 L522.84 76.50 L522.10 77.00 L521.42 77.50 L520.85 78.00 L520.35 78.50 L519.91 79.00 L519.53 79.50 L519.25 80.00 L519.04 80.50 L518.86 81.00 L518.70 81.50 L518.57 82.00 L518.45 82.50 L518.35 83.00 L518.25 83.50 L518.17 84.00 L518.09 84.50 L518.02 85.00 L517.96 85.50 L517.89 86.00 L517.83 86.50 L517.78 87.00 L517.72 87.50 L517.67 88.00 L517.62 88.50 L517.57 89.00 L517.52 89.50 L517.47 90.00 L517.43 90.50 L517.38 91.00 L517.34 91.50 L517.29 92.00 L517.25 92.50 L517.20 93.00 L517.16 93.50 L517.11 94.00 L517.07 94.50 L517.02 95.00 L516.98 95.50 L516.93 96.00 L516.89 96.50 L516.85 97.00 L516.81 97.50 L516.76 98.00 L516.72 98.50 L516.68 99.00 L516.64 99.50 L516.60 100.00 L516.56 100.50 L516.52 101.00 L516.48 101.50 L516.44 102.00 L516.40 102.50 L516.36 103.00 L516.32 103.50 L516.28 104.00 L516.24 104.50 L516.20 105.00 L516.15 105.50 L516.10 106.00 L516.05 106.50 L516.00 107.00 L515.95 107.50 L515.90 108.00 L515.86 108.50 L515.81 109.00 L515.75 109.50 L515.70 110.00 L515.65 110.50 L515.60 111.00 L515.57 111.50 L515.55 112.00 L515.54 112.50 L515.52 113.00 L515.52 113.50 L515.51 114.00 L515.50 114.50 L515.49 115.00 L515.49 115.50 L515.48 116.00 L515.48 116.50 L515.47 117.00 L515.47 117.50 L515.46 118.00 L515.46 118.50 L515.46 119.00 L515.45 119.50 L515.45 120.00 L515.44 120.50 L515.44 121.00 L515.43 121.50 L515.43 122.00 L515.42 122.50 L515.42 123.00 L515.41 123.50 L515.41 124.00 L515.40 124.50 L515.40 125.00 L515.39 125.50 L515.39 126.00 L515.38 126.50 L515.38 127.00 L515.37 127.50 L515.37 128.00 L515.36 128.50 L515.36 129.00 L515.35 129.50 L515.35 130.00 L515.34 130.50 L515.34 131.00 L515.34 131.50 L515.33 132.00 L515.33 132.50 L515.32 133.00 L515.32 133.50 L515.31 134.00 L515.31 134.50 L515.31 135.00 L515.30 135.50 L515.30 136.00 L515.29 136.50 L515.29 137.00 L515.29 137.50 L515.28 138.00 L515.28 138.50 L515.28 139.00 L515.27 139.50 L515.27 140.00 L515.27 140.50 L515.26 141.00 L515.26 141.50 L515.26 142.00 L515.25 142.50 L515.25 143.00 L515.25 143.50 L515.25 143.75 L515.25 143.75 L515.25 143.50 L515.24 143.00 L515.24 142.50 L515.24 142.00 L515.23 141.50 L515.23 141.00 L515.23 140.50 L515.22 140.00 L515.22 139.50 L515.22 139.00 L515.21 138.50 L515.21 138.00 L515.21 137.50 L515.20 137.00 L515.20 136.50 L515.20 136.00 L515.19 135.50 L515.19 135.00 L515.18 134.50 L515.18 134.00 L515.18 133.50 L515.17 133.00 L515.17 132.50 L515.16 132.00 L515.16 131.50 L515.15 131.00 L515.15 130.50 L515.14 130.00 L515.14 129.50 L515.14 129.00 L515.13 128.50 L515.13 128.00 L515.12 127.50 L515.12 127.00 L515.11 126.50 L515.11 126.00 L515.10 125.50 L515.10 125.00 L515.09 124.50 L515.09 124.00 L515.08 123.50 L515.08 123.00 L515.07 122.50 L515.07 122.00 L515.06 121.50 L515.06 121.00 L515.05 120.50 L515.05 120.00 L515.04 119.50 L515.04 119.00 L515.03 118.50 L515.03 118.00 L515.02 117.50 L515.02 117.00 L515.02 116.50 L515.01 116.00 L515.01 115.50 L515.00 115.00 L514.99 114.50 L514.99 114.00 L514.98 113.50 L514.97 113.00 L514.96 112.50 L514.95 112.00 L514.93 111.50 L514.89 111.00 L514.85 110.50 L514.79 110.00 L514.74 109.50 L514.69 109.00 L514.64 108.50 L514.59 108.00 L514.54 107.50 L514.49 107.00 L514.44 106.50 L514.39 106.00 L514.34 105.50 L514.30 105.00 L514.25 104.50 L514.21 104.00 L514.17 103.50 L514.13 103.00 L514.09 102.50 L514.05 102.00 L514.01 101.50 L513.97 101.00 L513.93 100.50 L513.89 100.00 L513.85 99.50 L513.81 99.00 L513.77 98.50 L513.73 98.00 L513.69 97.50 L513.64 97.00 L513.60 96.50 L513.56 96.00 L513.52 95.50 L513.47 95.00 L513.43 94.50 L513.38 94.00 L513.34 93.50 L513.29 93.00 L513.25 92.50 L513.20 92.00 L513.16 91.50 L513.11 91.00 L513.06 90.50 L513.02 90.00 L512.97 89.50 L512.92 89.00 L512.88 88.50 L512.82 88.00 L512.77 87.50 L512.72 87.00 L512.66 86.50 L512.60 86.00 L512.54 85.50 L512.47 85.00 L512.40 84.50 L512.33 84.00 L512.24 83.50 L512.15 83.00 L512.04 82.50 L511.92 82.00 L511.79 81.50 L511.64 81.00 L511.46 80.50 L511.25 80.00 L510.97 79.50 L510.59 79.00 L510.14 78.50 L509.65 78.00 L509.07 77.50 L508.39 77.00 L507.65 76.50 L506.88 76.00 L506.07 75.50 L505.20 75.00 L504.25 74.50 L503.17 74.00 L501.97 73.50 L500.74 73.00 L499.51 72.50 L498.24 72.00 L496.97 71.50 L495.75 71.00 L494.56 70.50 L493.39 70.00 L492.31 69.50 L491.40 69.00 L490.62 68.50 L489.95 68.00 L489.30 67.50 L488.77 67.00 L488.51 66.50 L488.34 66.00 L488.25 65.50 L488.29 65.00 L488.44 64.50 L488.65 64.00 L488.92 63.50 L489.32 63.00 L489.81 62.50 L490.37 62.00 L491.14 61.50 L492.08 61.00 L493.06 60.50 L493.99 60.00 L494.95 59.50 L495.93 59.00 L496.95 58.50 L498.04 58.00 L499.16 57.50 L500.25 57.00 L501.28 56.50 L502.28 56.00 L503.27 55.50 L504.25 55.00 L505.22 54.50 L506.19 54.00 L507.12 53.50 L507.99 53.00 L508.80 52.50 L509.58 52.00 L510.35 51.50 L511.18 51.00 L512.02 50.50 L512.68 50.00 L513.05 49.50 L513.35 49.00 L513.56 48.50 L513.65 48.00 L513.59 47.50 L513.44 47.00 L513.28 46.50 L513.15 46.00 L513.05 45.50 L512.95 45.00 L512.86 44.50 L512.79 44.00 L512.75 43.50 L512.76 43.00 L512.81 42.50 L512.90 42.00 L513.03 41.50 L513.17 41.00 L513.33 40.50 L513.50 40.00 L513.70 39.50 L513.96 39.00 L514.25 38.50 L514.55 38.00 L514.88 37.50 L515.25 37.00Z" fill="#467da5" stroke="url(#g020)" stroke-width="0.95" stroke-linejoin="round"/>
<line x1="515.25" y1="44.00" x2="515.25" y2="88.00" stroke="#333537" stroke-width="0.80"/>
<line x1="515.25" y1="59.50" x2="515.25" y2="72.50" stroke="#333537" stroke-width="2.20"/>
<circle cx="515.25" cy="66.25" r="0.50" fill="#fff"/>
<linearGradient id="g021" gradientUnits="userSpaceOnUse" x1="0" y1="22.00" x2="0" y2="158.75"><stop offset="0.0000" stop-color="#333537" stop-opacity="0.55"/><stop offset="0.0219" stop-color="#333537" stop-opacity="1.00"/><stop offset="0.7422" stop-color="#333537" stop-opacity="1.00"/><stop offset="1.0000" stop-color="#333537" stop-opacity="0.28"/></linearGradient>
<path d="M583.02 22.00 L583.18 22.50 L583.34 23.00 L583.50 23.50 L583.64 24.00 L583.78 24.50 L583.92 25.00 L584.05 25.50 L584.17 26.00 L584.29 26.50 L584.41 27.00 L584.52 27.50 L584.63 28.00 L584.73 28.50 L584.83 29.00 L584.93 29.50 L585.02 30.00 L585.10 30.50 L585.16 31.00 L585.23 31.50 L585.30 32.00 L585.38 32.50 L585.49 33.00 L585.63 33.50 L585.81 34.00 L586.02 34.50 L586.28 35.00 L586.60 35.50 L586.98 36.00 L587.39 36.50 L587.89 37.00 L588.44 37.50 L589.02 38.00 L589.61 38.50 L590.23 39.00 L590.90 39.50 L591.62 40.00 L592.43 40.50 L593.29 41.00 L594.17 41.50 L595.02 42.00 L595.83 42.50 L596.61 43.00 L597.40 43.50 L598.19 44.00 L599.02 44.50 L599.89 45.00 L600.79 45.50 L601.69 46.00 L602.57 46.50 L603.45 47.00 L604.30 47.50 L605.12 48.00 L605.91 48.50 L606.67 49.00 L607.39 49.50 L608.02 50.00 L608.62 50.50 L609.13 51.00 L609.41 51.50 L609.58 52.00 L609.60 52.50 L609.46 53.00 L609.22 53.50 L608.83 54.00 L608.22 54.50 L607.52 55.00 L606.64 55.50 L605.61 56.00 L604.66 56.50 L603.77 57.00 L602.91 57.50 L602.02 58.00 L601.09 58.50 L600.15 59.00 L599.21 59.50 L598.28 60.00 L597.35 60.50 L596.42 61.00 L595.52 61.50 L594.63 62.00 L593.74 62.50 L592.88 63.00 L592.06 63.50 L591.27 64.00 L590.52 64.50 L589.82 65.00 L589.18 65.50 L588.58 66.00 L588.02 66.50 L587.47 67.00 L586.96 67.50 L586.52 68.00 L586.16 68.50 L585.83 69.00 L585.55 69.50 L585.32 70.00 L585.12 70.50 L584.92 71.00 L584.75 71.50 L584.60 72.00 L584.49 72.50 L584.42 73.00 L584.38 73.50 L584.35 74.00 L584.33 74.50 L584.31 75.00 L584.29 75.50 L584.27 76.00 L584.26 76.50 L584.24 77.00 L584.22 77.50 L584.20 78.00 L584.17 78.50 L584.14 79.00 L584.11 79.50 L584.08 80.00 L584.05 80.50 L584.02 81.00 L583.99 81.50 L583.96 82.00 L583.94 82.50 L583.91 83.00 L583.90 83.50 L583.88 84.00 L583.87 84.50 L583.87 85.00 L583.87 85.50 L583.87 86.00 L583.88 86.50 L583.88 87.00 L583.88 87.50 L583.89 88.00 L583.89 88.50 L583.90 89.00 L583.90 89.50 L583.91 90.00 L583.91 90.50 L583.91 91.00 L583.92 91.50 L583.92 92.00 L583.92 92.50 L583.92 93.00 L583.92 93.50 L583.91 94.00 L583.91 94.50 L583.90 95.00 L583.90 95.50 L583.89 96.00 L583.88 96.50 L583.87 97.00 L583.86 97.50 L583.85 98.00 L583.85 98.50 L583.84 99.00 L583.83 99.50 L583.82 100.00 L583.81 100.50 L583.80 101.00 L583.79 101.50 L583.79 102.00 L583.78 102.50 L583.77 103.00 L583.76 103.50 L583.74 104.00 L583.73 104.50 L583.72 105.00 L583.70 105.50 L583.68 106.00 L583.66 106.50 L583.63 107.00 L583.61 107.50 L583.59 108.00 L583.58 108.50 L583.57 109.00 L583.58 109.50 L583.61 110.00 L583.65 110.50 L583.69 111.00 L583.75 111.50 L583.80 112.00 L583.84 112.50 L583.88 113.00 L583.91 113.50 L583.92 114.00 L583.92 114.50 L583.91 115.00 L583.89 115.50 L583.87 116.00 L583.85 116.50 L583.82 117.00 L583.79 117.50 L583.77 118.00 L583.74 118.50 L583.72 119.00 L583.70 119.50 L583.68 120.00 L583.65 120.50 L583.63 121.00 L583.61 121.50 L583.59 122.00 L583.56 122.50 L583.54 123.00 L583.52 123.50 L583.50 124.00 L583.47 124.50 L583.45 125.00 L583.42 125.50 L583.39 126.00 L583.37 126.50 L583.35 127.00 L583.33 127.50 L583.32 128.00 L583.31 128.50 L583.30 129.00 L583.29 129.50 L583.28 130.00 L583.27 130.50 L583.27 131.00 L583.26 131.50 L583.25 132.00 L583.25 132.50 L583.24 133.00 L583.23 133.50 L583.23 134.00 L583.22 134.50 L583.22 135.00 L583.21 135.50 L583.21 136.00 L583.20 136.50 L583.20 137.00 L583.19 137.50 L583.19 138.00 L583.18 138.50 L583.18 139.00 L583.17 139.50 L583.17 140.00 L583.17 140.50 L583.16 141.00 L583.16 141.50 L583.15 142.00 L583.15 142.50 L583.14 143.00 L583.14 143.50 L583.13 144.00 L583.13 144.50 L583.12 145.00 L583.12 145.50 L583.11 146.00 L583.11 146.50 L583.10 147.00 L583.10 147.50 L583.10 148.00 L583.09 148.50 L583.09 149.00 L583.08 149.50 L583.08 150.00 L583.08 150.50 L583.07 151.00 L583.07 151.50 L583.06 152.00 L583.06 152.50 L583.06 153.00 L583.05 153.50 L583.05 154.00 L583.05 154.50 L583.04 155.00 L583.04 155.50 L583.04 156.00 L583.03 156.50 L583.03 157.00 L583.03 157.50 L583.02 158.00 L583.02 158.50 L583.02 158.75 L583.02 158.75 L583.02 158.50 L583.02 158.00 L583.01 157.50 L583.01 157.00 L583.01 156.50 L583.00 156.00 L583.00 155.50 L583.00 155.00 L582.99 154.50 L582.99 154.00 L582.99 153.50 L582.98 153.00 L582.98 152.50 L582.98 152.00 L582.97 151.50 L582.97 151.00 L582.96 150.50 L582.96 150.00 L582.96 149.50 L582.95 149.00 L582.95 148.50 L582.94 148.00 L582.94 147.50 L582.94 147.00 L582.93 146.50 L582.93 146.00 L582.92 145.50 L582.92 145.00 L582.91 144.50 L582.91 144.00 L582.90 143.50 L582.90 143.00 L582.89 142.50 L582.89 142.00 L582.88 141.50 L582.88 141.00 L582.87 140.50 L582.87 140.00 L582.87 139.50 L582.86 139.00 L582.86 138.50 L582.85 138.00 L582.85 137.50 L582.84 137.00 L582.84 136.50 L582.83 136.00 L582.83 135.50 L582.82 135.00 L582.82 134.50 L582.81 134.00 L582.81 133.50 L582.80 133.00 L582.79 132.50 L582.79 132.00 L582.78 131.50 L582.77 131.00 L582.77 130.50 L582.76 130.00 L582.75 129.50 L582.74 129.00 L582.73 128.50 L582.72 128.00 L582.71 127.50 L582.69 127.00 L582.67 126.50 L582.65 126.00 L582.62 125.50 L582.59 125.00 L582.57 124.50 L582.54 124.00 L582.52 123.50 L582.50 123.00 L582.48 122.50 L582.45 122.00 L582.43 121.50 L582.41 121.00 L582.39 120.50 L582.36 120.00 L582.34 119.50 L582.32 119.00 L582.30 118.50 L582.27 118.00 L582.25 117.50 L582.22 117.00 L582.19 116.50 L582.17 116.00 L582.15 115.50 L582.13 115.00 L582.12 114.50 L582.12 114.00 L582.13 113.50 L582.16 113.00 L582.20 112.50 L582.24 112.00 L582.29 111.50 L582.35 111.00 L582.39 110.50 L582.43 110.00 L582.46 109.50 L582.47 109.00 L582.46 108.50 L582.45 108.00 L582.43 107.50 L582.41 107.00 L582.38 106.50 L582.36 106.00 L582.34 105.50 L582.32 105.00 L582.31 104.50 L582.30 104.00 L582.28 103.50 L582.27 103.00 L582.26 102.50 L582.25 102.00 L582.25 101.50 L582.24 101.00 L582.23 100.50 L582.22 100.00 L582.21 99.50 L582.20 99.00 L582.19 98.50 L582.19 98.00 L582.18 97.50 L582.17 97.00 L582.16 96.50 L582.15 96.00 L582.14 95.50 L582.14 95.00 L582.13 94.50 L582.13 94.00 L582.12 93.50 L582.12 93.00 L582.12 92.50 L582.12 92.00 L582.12 91.50 L582.13 91.00 L582.13 90.50 L582.13 90.00 L582.14 89.50 L582.14 89.00 L582.15 88.50 L582.15 88.00 L582.16 87.50 L582.16 87.00 L582.16 86.50 L582.17 86.00 L582.17 85.50 L582.17 85.00 L582.17 84.50 L582.16 84.00 L582.14 83.50 L582.13 83.00 L582.10 82.50 L582.08 82.00 L582.05 81.50 L582.02 81.00 L581.99 80.50 L581.96 80.00 L581.93 79.50 L581.90 79.00 L581.87 78.50 L581.84 78.00 L581.82 77.50 L581.80 77.00 L581.78 76.50 L581.77 76.00 L581.75 75.50 L581.73 75.00 L581.71 74.50 L581.69 74.00 L581.66 73.50 L581.62 73.00 L581.55 72.50 L581.44 72.00 L581.29 71.50 L581.12 71.00 L580.92 70.50 L580.72 70.00 L580.49 69.50 L580.21 69.00 L579.88 68.50 L579.52 68.00 L579.08 67.50 L578.57 67.00 L578.02 66.50 L577.46 66.00 L576.86 65.50 L576.22 65.00 L575.52 64.50 L574.77 64.00 L573.98 63.50 L573.16 63.00 L572.30 62.50 L571.41 62.00 L570.52 61.50 L569.62 61.00 L568.69 60.50 L567.76 60.00 L566.83 59.50 L565.89 59.00 L564.95 58.50 L564.02 58.00 L563.13 57.50 L562.27 57.00 L561.38 56.50 L560.43 56.00 L559.40 55.50 L558.52 55.00 L557.82 54.50 L557.21 54.00 L556.82 53.50 L556.58 53.00 L556.44 52.50 L556.46 52.00 L556.63 51.50 L556.91 51.00 L557.42 50.50 L558.02 50.00 L558.65 49.50 L559.37 49.00 L560.13 48.50 L560.92 48.00 L561.74 47.50 L562.59 47.00 L563.47 46.50 L564.35 46.00 L565.25 45.50 L566.15 45.00 L567.02 44.50 L567.85 44.00 L568.64 43.50 L569.43 43.00 L570.21 42.50 L571.02 42.00 L571.87 41.50 L572.75 41.00 L573.61 40.50 L574.42 40.00 L575.14 39.50 L575.81 39.00 L576.43 38.50 L577.02 38.00 L577.60 37.50 L578.15 37.00 L578.65 36.50 L579.06 36.00 L579.44 35.50 L579.76 35.00 L580.02 34.50 L580.23 34.00 L580.41 33.50 L580.55 33.00 L580.66 32.50 L580.74 32.00 L580.81 31.50 L580.88 31.00 L580.94 30.50 L581.02 30.00 L581.11 29.50 L581.21 29.00 L581.31 28.50 L581.41 28.00 L581.52 27.50 L581.63 27.00 L581.75 26.50 L581.87 26.00 L581.99 25.50 L582.12 25.00 L582.26 24.50 L582.40 24.00 L582.54 23.50 L582.70 23.00 L582.86 22.50 L583.02 22.00Z" fill="#da8234" stroke="url(#g021)" stroke-width="0.95" stroke-linejoin="round"/>
<line x1="583.02" y1="32.00" x2="583.02" y2="76.00" stroke="#333537" stroke-width="0.80"/>
<line x1="583.02" y1="47.00" x2="583.02" y2="58.50" stroke="#333537" stroke-width="2.20"/>
<circle cx="583.02" cy="52.30" r="0.50" fill="#fff"/>
<linearGradient id="g022" gradientUnits="userSpaceOnUse" x1="0" y1="14.90" x2="0" y2="84.50"><stop offset="0.0000" stop-color="#333537" stop-opacity="1.00"/><stop offset="0.6983" stop-color="#333537" stop-opacity="1.00"/><stop offset="1.0000" stop-color="#333537" stop-opacity="0.75"/></linearGradient>
<path d="M653.39 14.90 L654.40 15.40 L655.33 15.90 L656.21 16.40 L657.11 16.90 L658.01 17.40 L658.91 17.90 L659.85 18.40 L660.79 18.90 L661.64 19.40 L662.36 19.90 L662.04 20.40 L661.23 20.90 L660.27 21.40 L659.20 21.90 L658.19 22.40 L657.18 22.90 L656.19 23.40 L655.19 23.90 L654.20 24.40 L653.34 24.90 L652.64 25.40 L652.19 25.90 L652.06 26.40 L652.00 26.90 L652.04 27.40 L652.21 27.90 L652.48 28.40 L652.79 28.90 L653.29 29.40 L654.03 29.90 L654.84 30.40 L655.64 30.90 L656.53 31.40 L657.49 31.90 L658.54 32.40 L659.67 32.90 L660.83 33.40 L662.04 33.90 L663.29 34.40 L664.54 34.90 L665.83 35.40 L667.12 35.90 L668.36 36.40 L669.54 36.90 L670.69 37.40 L671.76 37.90 L672.66 38.40 L673.44 38.90 L674.12 39.40 L674.69 39.90 L675.17 40.40 L675.59 40.90 L675.94 41.40 L676.19 41.90 L676.38 42.40 L676.55 42.90 L676.69 43.40 L676.81 43.90 L676.87 44.40 L676.89 44.90 L676.74 45.40 L676.45 45.90 L676.07 46.40 L675.58 46.90 L674.86 47.40 L674.05 47.90 L673.26 48.40 L672.41 48.90 L671.52 49.40 L670.58 49.90 L669.59 50.40 L668.52 50.90 L667.44 51.40 L666.31 51.90 L665.21 52.40 L664.15 52.90 L663.11 53.40 L662.10 53.90 L661.15 54.40 L660.28 54.90 L659.46 55.40 L658.69 55.90 L657.94 56.40 L657.20 56.90 L656.49 57.40 L655.81 57.90 L655.21 58.40 L654.66 58.90 L654.15 59.40 L653.68 59.90 L653.23 60.40 L652.80 60.90 L652.43 61.40 L652.14 61.90 L651.90 62.40 L651.69 62.90 L651.52 63.40 L651.37 63.90 L651.23 64.40 L651.12 64.90 L651.08 65.40 L651.07 65.90 L651.05 66.40 L651.04 66.90 L651.03 67.40 L651.02 67.90 L651.02 68.40 L651.01 68.90 L651.00 69.40 L651.00 69.90 L650.99 70.40 L650.98 70.90 L650.97 71.40 L650.96 71.90 L650.95 72.40 L650.94 72.90 L650.94 73.40 L650.93 73.90 L650.92 74.40 L650.91 74.90 L650.90 75.40 L650.90 75.90 L650.89 76.40 L650.88 76.90 L650.88 77.40 L650.87 77.90 L650.86 78.40 L650.85 78.90 L650.85 79.40 L650.84 79.90 L650.84 80.40 L650.83 80.90 L650.82 81.40 L650.82 81.90 L650.81 82.40 L650.81 82.90 L650.80 83.40 L650.80 83.90 L650.79 84.40 L650.79 84.50 L650.79 84.50 L650.79 84.40 L650.79 83.90 L650.78 83.40 L650.78 82.90 L650.77 82.40 L650.77 81.90 L650.76 81.40 L650.76 80.90 L650.75 80.40 L650.74 79.90 L650.74 79.40 L650.73 78.90 L650.73 78.40 L650.72 77.90 L650.71 77.40 L650.70 76.90 L650.70 76.40 L650.69 75.90 L650.68 75.40 L650.67 74.90 L650.67 74.40 L650.66 73.90 L650.65 73.40 L650.64 72.90 L650.63 72.40 L650.63 71.90 L650.62 71.40 L650.61 70.90 L650.60 70.40 L650.59 69.90 L650.58 69.40 L650.58 68.90 L650.57 68.40 L650.56 67.90 L650.56 67.40 L650.55 66.90 L650.53 66.40 L650.52 65.90 L650.50 65.40 L650.46 64.90 L650.36 64.40 L650.22 63.90 L650.06 63.40 L649.89 62.90 L649.69 62.40 L649.45 61.90 L649.16 61.40 L648.78 60.90 L648.35 60.40 L647.90 59.90 L647.43 59.40 L646.92 58.90 L646.38 58.40 L645.77 57.90 L645.10 57.40 L644.38 56.90 L643.65 56.40 L642.90 55.90 L642.13 55.40 L641.31 54.90 L640.43 54.40 L639.48 53.90 L638.48 53.40 L637.44 52.90 L636.38 52.40 L635.28 51.90 L634.15 51.40 L633.06 50.90 L632.00 50.40 L631.00 49.90 L630.07 49.40 L629.17 48.90 L628.33 48.40 L627.54 47.90 L626.73 47.40 L626.01 46.90 L625.52 46.40 L625.14 45.90 L624.84 45.40 L624.70 44.90 L624.71 44.40 L624.78 43.90 L624.89 43.40 L625.04 42.90 L625.21 42.40 L625.39 41.90 L625.64 41.40 L625.99 40.90 L626.42 40.40 L626.89 39.90 L627.46 39.40 L628.15 38.90 L628.93 38.40 L629.83 37.90 L630.89 37.40 L632.05 36.90 L633.23 36.40 L634.47 35.90 L635.76 35.40 L637.04 34.90 L638.30 34.40 L639.55 33.90 L640.76 33.40 L641.92 32.90 L643.04 32.40 L644.10 31.90 L645.06 31.40 L645.94 30.90 L646.75 30.40 L647.56 29.90 L648.30 29.40 L648.79 28.90 L649.11 28.40 L649.37 27.90 L649.55 27.40 L649.59 26.90 L649.53 26.40 L649.39 25.90 L648.95 25.40 L648.25 24.90 L647.39 24.40 L646.39 23.90 L645.40 23.40 L644.41 22.90 L643.40 22.40 L642.39 21.90 L641.32 21.40 L640.35 20.90 L639.54 20.40 L639.22 19.90 L639.95 19.40 L640.80 18.90 L641.74 18.40 L642.67 17.90 L643.58 17.40 L644.47 16.90 L645.37 16.40 L646.26 15.90 L647.19 15.40 L648.19 14.90Z" fill="#4b9d3e" stroke="url(#g022)" stroke-width="0.95" stroke-linejoin="round"/>
<line x1="650.79" y1="24.00" x2="650.79" y2="66.00" stroke="#333537" stroke-width="0.80"/>
<line x1="650.79" y1="37.00" x2="650.79" y2="49.50" stroke="#333537" stroke-width="2.20"/>
<circle cx="650.79" cy="43.25" r="0.50" fill="#fff"/>
<line x1="481.36" y1="8.43" x2="684.68" y2="8.43" stroke="#111" stroke-width="0.85" stroke-opacity="0.45" stroke-linecap="square"/>
<line x1="481.36" y1="166.22" x2="684.68" y2="166.22" stroke="#111" stroke-width="0.52" stroke-opacity="1.00" stroke-linecap="square"/>
<line x1="481.36" y1="8.43" x2="481.36" y2="166.22" stroke="#111" stroke-width="0.52" stroke-opacity="0.90" stroke-linecap="square"/>
<line x1="684.68" y1="8.43" x2="684.68" y2="166.22" stroke="#111" stroke-width="0.52" stroke-opacity="1.00" stroke-linecap="square"/>
<line x1="479.51" y1="158.25" x2="481.36" y2="158.25" stroke="#111" stroke-width="0.75"/>
<text x="477.51" y="160.68" text-anchor="end">0.0</text>
<line x1="479.51" y1="132.70" x2="481.36" y2="132.70" stroke="#111" stroke-width="0.75"/>
<text x="477.51" y="135.13" text-anchor="end">0.2</text>
<line x1="479.51" y1="107.15" x2="481.36" y2="107.15" stroke="#111" stroke-width="0.75"/>
<text x="477.51" y="109.58" text-anchor="end">0.4</text>
<line x1="479.51" y1="81.60" x2="481.36" y2="81.60" stroke="#111" stroke-width="0.75"/>
<text x="477.51" y="84.03" text-anchor="end">0.6</text>
<line x1="479.51" y1="56.05" x2="481.36" y2="56.05" stroke="#111" stroke-width="0.75"/>
<text x="477.51" y="58.48" text-anchor="end">0.8</text>
<line x1="479.51" y1="30.50" x2="481.36" y2="30.50" stroke="#111" stroke-width="0.75"/>
<text x="477.51" y="32.93" text-anchor="end">1.0</text>
<line x1="515.25" y1="166.22" x2="515.25" y2="168.07" stroke="#111" stroke-width="0.75"/>
<text x="515.25" y="173.97" text-anchor="middle">HAND</text>
<line x1="583.02" y1="166.22" x2="583.02" y2="168.07" stroke="#111" stroke-width="0.75"/>
<text x="583.02" y="173.97" text-anchor="middle">SWMM-HEC-RAS-2D</text>
<line x1="650.79" y1="166.22" x2="650.79" y2="168.07" stroke="#111" stroke-width="0.75"/>
<text x="650.79" y="173.97" text-anchor="middle">Synxflow</text>
<text x="583.02" y="5.13" text-anchor="middle" font-size="6.35">Precision</text>
<text transform="translate(466.46 87.83) rotate(-90)" text-anchor="middle">Precision</text>
</g>
<g>
<linearGradient id="g100" gradientUnits="userSpaceOnUse" x1="0" y1="223.00" x2="0" y2="330.50"><stop offset="0.0000" stop-color="#333537" stop-opacity="0.30"/><stop offset="0.1181" stop-color="#333537" stop-opacity="1.00"/><stop offset="0.9116" stop-color="#333537" stop-opacity="1.00"/><stop offset="1.0000" stop-color="#333537" stop-opacity="0.55"/></linearGradient>
<path d="M52.92 223.00 L52.93 223.50 L52.94 224.00 L52.95 224.50 L52.96 225.00 L52.97 225.50 L52.98 226.00 L53.00 226.50 L53.01 227.00 L53.02 227.50 L53.04 228.00 L53.05 228.50 L53.07 229.00 L53.08 229.50 L53.10 230.00 L53.11 230.50 L53.13 231.00 L53.14 231.50 L53.16 232.00 L53.18 232.50 L53.20 233.00 L53.23 233.50 L53.26 234.00 L53.30 234.50 L53.34 235.00 L53.39 235.50 L53.45 236.00 L53.53 236.50 L53.62 237.00 L53.71 237.50 L53.81 238.00 L53.92 238.50 L54.02 239.00 L54.12 239.50 L54.22 240.00 L54.34 240.50 L54.47 241.00 L54.63 241.50 L54.83 242.00 L55.10 242.50 L55.42 243.00 L55.77 243.50 L56.14 244.00 L56.52 244.50 L56.91 245.00 L57.35 245.50 L57.82 246.00 L58.29 246.50 L58.74 247.00 L59.17 247.50 L59.56 248.00 L59.94 248.50 L60.31 249.00 L60.67 249.50 L61.03 250.00 L61.39 250.50 L61.75 251.00 L62.11 251.50 L62.47 252.00 L62.83 252.50 L63.18 253.00 L63.54 253.50 L63.89 254.00 L64.24 254.50 L64.59 255.00 L64.95 255.50 L65.30 256.00 L65.66 256.50 L66.02 257.00 L66.37 257.50 L66.73 258.00 L67.10 258.50 L67.48 259.00 L67.88 259.50 L68.31 260.00 L68.77 260.50 L69.22 261.00 L69.64 261.50 L70.03 262.00 L70.43 262.50 L70.80 263.00 L71.14 263.50 L71.42 264.00 L71.65 264.50 L71.85 265.00 L72.03 265.50 L72.18 266.00 L72.32 266.50 L72.44 267.00 L72.55 267.50 L72.64 268.00 L72.72 268.50 L72.79 269.00 L72.85 269.50 L72.91 270.00 L72.95 270.50 L72.97 271.00 L72.96 271.50 L72.95 272.00 L72.93 272.50 L72.92 273.00 L72.92 273.50 L72.93 274.00 L72.95 274.50 L72.98 275.00 L73.02 275.50 L73.06 276.00 L73.11 276.50 L73.16 277.00 L73.22 277.50 L73.26 278.00 L73.29 278.50 L73.33 279.00 L73.36 279.50 L73.39 280.00 L73.41 280.50 L73.42 281.00 L73.37 281.50 L73.26 282.00 L73.12 282.50 L72.85 283.00 L72.43 283.50 L71.95 284.00 L71.52 284.50 L71.15 285.00 L70.81 285.50 L70.47 286.00 L70.13 286.50 L69.77 287.00 L69.40 287.50 L69.03 288.00 L68.66 288.50 L68.30 289.00 L67.97 289.50 L67.64 290.00 L67.33 290.50 L67.02 291.00 L66.71 291.50 L66.41 292.00 L66.12 292.50 L65.82 293.00 L65.52 293.50 L65.23 294.00 L64.94 294.50 L64.66 295.00 L64.37 295.50 L64.08 296.00 L63.79 296.50 L63.49 297.00 L63.18 297.50 L62.87 298.00 L62.56 298.50 L62.24 299.00 L61.92 299.50 L61.58 300.00 L61.23 300.50 L60.88 301.00 L60.53 301.50 L60.18 302.00 L59.83 302.50 L59.48 303.00 L59.13 303.50 L58.78 304.00 L58.44 304.50 L58.12 305.00 L57.80 305.50 L57.49 306.00 L57.19 306.50 L56.89 307.00 L56.62 307.50 L56.37 308.00 L56.13 308.50 L55.90 309.00 L55.69 309.50 L55.49 310.00 L55.32 310.50 L55.16 311.00 L55.01 311.50 L54.87 312.00 L54.74 312.50 L54.63 313.00 L54.52 313.50 L54.42 314.00 L54.32 314.50 L54.23 315.00 L54.15 315.50 L54.07 316.00 L53.99 316.50 L53.92 317.00 L53.84 317.50 L53.77 318.00 L53.70 318.50 L53.63 319.00 L53.57 319.50 L53.51 320.00 L53.46 320.50 L53.42 321.00 L53.38 321.50 L53.35 322.00 L53.33 322.50 L53.31 323.00 L53.29 323.50 L53.26 324.00 L53.24 324.50 L53.22 325.00 L53.19 325.50 L53.16 326.00 L53.14 326.50 L53.11 327.00 L53.08 327.50 L53.06 328.00 L53.03 328.50 L53.00 329.00 L52.97 329.50 L52.95 330.00 L52.92 330.50 L52.92 330.50 L52.89 330.00 L52.86 329.50 L52.83 329.00 L52.80 328.50 L52.78 328.00 L52.75 327.50 L52.72 327.00 L52.70 326.50 L52.67 326.00 L52.64 325.50 L52.62 325.00 L52.59 324.50 L52.57 324.00 L52.55 323.50 L52.53 323.00 L52.50 322.50 L52.48 322.00 L52.45 321.50 L52.42 321.00 L52.38 320.50 L52.33 320.00 L52.27 319.50 L52.20 319.00 L52.13 318.50 L52.06 318.00 L51.99 317.50 L51.92 317.00 L51.84 316.50 L51.77 316.00 L51.69 315.50 L51.60 315.00 L51.51 314.50 L51.42 314.00 L51.32 313.50 L51.21 313.00 L51.09 312.50 L50.96 312.00 L50.82 311.50 L50.68 311.00 L50.52 310.50 L50.34 310.00 L50.15 309.50 L49.93 309.00 L49.70 308.50 L49.47 308.00 L49.21 307.50 L48.94 307.00 L48.65 306.50 L48.34 306.00 L48.03 305.50 L47.72 305.00 L47.39 304.50 L47.05 304.00 L46.71 303.50 L46.36 303.00 L46.01 302.50 L45.66 302.00 L45.31 301.50 L44.95 301.00 L44.60 300.50 L44.25 300.00 L43.92 299.50 L43.59 299.00 L43.27 298.50 L42.96 298.00 L42.65 297.50 L42.35 297.00 L42.05 296.50 L41.75 296.00 L41.46 295.50 L41.18 295.00 L40.89 294.50 L40.60 294.00 L40.31 293.50 L40.02 293.00 L39.72 292.50 L39.42 292.00 L39.12 291.50 L38.82 291.00 L38.51 290.50 L38.19 290.00 L37.87 289.50 L37.53 289.00 L37.17 288.50 L36.80 288.00 L36.43 287.50 L36.06 287.00 L35.71 286.50 L35.36 286.00 L35.02 285.50 L34.68 285.00 L34.32 284.50 L33.89 284.00 L33.41 283.50 L32.98 283.00 L32.72 282.50 L32.57 282.00 L32.46 281.50 L32.42 281.00 L32.42 280.50 L32.44 280.00 L32.47 279.50 L32.50 279.00 L32.54 278.50 L32.57 278.00 L32.62 277.50 L32.67 277.00 L32.73 276.50 L32.78 276.00 L32.82 275.50 L32.85 275.00 L32.88 274.50 L32.90 274.00 L32.92 273.50 L32.91 273.00 L32.90 272.50 L32.89 272.00 L32.87 271.50 L32.87 271.00 L32.88 270.50 L32.92 270.00 L32.98 269.50 L33.05 269.00 L33.12 268.50 L33.19 268.00 L33.29 267.50 L33.39 267.00 L33.51 266.50 L33.65 266.00 L33.81 265.50 L33.98 265.00 L34.19 264.50 L34.42 264.00 L34.69 263.50 L35.03 263.00 L35.41 262.50 L35.80 262.00 L36.20 261.50 L36.62 261.00 L37.07 260.50 L37.52 260.00 L37.95 259.50 L38.35 259.00 L38.73 258.50 L39.10 258.00 L39.46 257.50 L39.82 257.00 L40.17 256.50 L40.53 256.00 L40.89 255.50 L41.24 255.00 L41.59 254.50 L41.94 254.00 L42.30 253.50 L42.65 253.00 L43.01 252.50 L43.36 252.00 L43.72 251.50 L44.08 251.00 L44.44 250.50 L44.81 250.00 L45.17 249.50 L45.53 249.00 L45.89 248.50 L46.27 248.00 L46.67 247.50 L47.09 247.00 L47.55 246.50 L48.02 246.00 L48.48 245.50 L48.92 245.00 L49.32 244.50 L49.69 244.00 L50.06 243.50 L50.42 243.00 L50.73 242.50 L51.00 242.00 L51.20 241.50 L51.36 241.00 L51.49 240.50 L51.61 240.00 L51.72 239.50 L51.82 239.00 L51.92 238.50 L52.02 238.00 L52.12 237.50 L52.22 237.00 L52.31 236.50 L52.38 236.00 L52.44 235.50 L52.49 235.00 L52.54 234.50 L52.57 234.00 L52.61 233.50 L52.63 233.00 L52.65 232.50 L52.67 232.00 L52.69 231.50 L52.71 231.00 L52.72 230.50 L52.74 230.00 L52.75 229.50 L52.77 229.00 L52.78 228.50 L52.80 228.00 L52.81 227.50 L52.82 227.00 L52.84 226.50 L52.85 226.00 L52.86 225.50 L52.87 225.00 L52.89 224.50 L52.90 224.00 L52.91 223.50 L52.92 223.00Z" fill="#467da5" stroke="url(#g100)" stroke-width="0.95" stroke-linejoin="round"/>
<line x1="52.92" y1="237.00" x2="52.92" y2="324.00" stroke="#333537" stroke-width="0.80"/>
<line x1="52.92" y1="265.00" x2="52.92" y2="290.50" stroke="#333537" stroke-width="2.20"/>
<circle cx="52.92" cy="277.50" r="0.50" fill="#fff"/>
<linearGradient id="g101" gradientUnits="userSpaceOnUse" x1="0" y1="197.20" x2="0" y2="340.00"><stop offset="0.0000" stop-color="#333537" stop-opacity="0.55"/><stop offset="0.0532" stop-color="#333537" stop-opacity="1.00"/><stop offset="0.9440" stop-color="#333537" stop-opacity="1.00"/><stop offset="1.0000" stop-color="#333537" stop-opacity="0.55"/></linearGradient>
<path d="M120.69 197.20 L120.73 197.70 L120.77 198.20 L120.80 198.70 L120.84 199.20 L120.87 199.70 L120.90 200.20 L120.92 200.70 L120.95 201.20 L120.97 201.70 L120.99 202.20 L121.00 202.70 L121.02 203.20 L121.04 203.70 L121.06 204.20 L121.08 204.70 L121.12 205.20 L121.17 205.70 L121.23 206.20 L121.30 206.70 L121.38 207.20 L121.47 207.70 L121.58 208.20 L121.72 208.70 L121.88 209.20 L122.05 209.70 L122.22 210.20 L122.39 210.70 L122.55 211.20 L122.71 211.70 L122.87 212.20 L123.03 212.70 L123.19 213.20 L123.34 213.70 L123.49 214.20 L123.64 214.70 L123.79 215.20 L123.93 215.70 L124.07 216.20 L124.22 216.70 L124.37 217.20 L124.51 217.70 L124.66 218.20 L124.80 218.70 L124.94 219.20 L125.06 219.70 L125.19 220.20 L125.30 220.70 L125.42 221.20 L125.52 221.70 L125.63 222.20 L125.73 222.70 L125.83 223.20 L125.92 223.70 L126.01 224.20 L126.10 224.70 L126.19 225.20 L126.28 225.70 L126.37 226.20 L126.46 226.70 L126.56 227.20 L126.65 227.70 L126.74 228.20 L126.82 228.70 L126.91 229.20 L126.98 229.70 L127.06 230.20 L127.14 230.70 L127.21 231.20 L127.28 231.70 L127.35 232.20 L127.42 232.70 L127.49 233.20 L127.56 233.70 L127.62 234.20 L127.67 234.70 L127.72 235.20 L127.76 235.70 L127.80 236.20 L127.84 236.70 L127.89 237.20 L127.95 237.70 L128.02 238.20 L128.12 238.70 L128.25 239.20 L128.40 239.70 L128.56 240.20 L128.74 240.70 L128.93 241.20 L129.13 241.70 L129.32 242.20 L129.52 242.70 L129.70 243.20 L129.88 243.70 L130.04 244.20 L130.20 244.70 L130.36 245.20 L130.52 245.70 L130.69 246.20 L130.85 246.70 L131.00 247.20 L131.16 247.70 L131.31 248.20 L131.45 248.70 L131.59 249.20 L131.72 249.70 L131.84 250.20 L131.95 250.70 L132.07 251.20 L132.17 251.70 L132.28 252.20 L132.38 252.70 L132.48 253.20 L132.58 253.70 L132.67 254.20 L132.76 254.70 L132.85 255.20 L132.94 255.70 L133.03 256.20 L133.12 256.70 L133.21 257.20 L133.30 257.70 L133.39 258.20 L133.47 258.70 L133.55 259.20 L133.63 259.70 L133.69 260.20 L133.75 260.70 L133.81 261.20 L133.85 261.70 L133.89 262.20 L133.92 262.70 L133.96 263.20 L133.99 263.70 L134.03 264.20 L134.05 264.70 L134.08 265.20 L134.10 265.70 L134.12 266.20 L134.13 266.70 L134.14 267.20 L134.14 267.70 L134.13 268.20 L134.13 268.70 L134.11 269.20 L134.09 269.70 L134.07 270.20 L134.05 270.70 L134.02 271.20 L134.00 271.70 L133.97 272.20 L133.93 272.70 L133.90 273.20 L133.87 273.70 L133.83 274.20 L133.78 274.70 L133.73 275.20 L133.67 275.70 L133.61 276.20 L133.54 276.70 L133.47 277.20 L133.40 277.70 L133.32 278.20 L133.24 278.70 L133.16 279.20 L133.07 279.70 L132.97 280.20 L132.86 280.70 L132.74 281.20 L132.62 281.70 L132.49 282.20 L132.36 282.70 L132.22 283.20 L132.08 283.70 L131.95 284.20 L131.81 284.70 L131.68 285.20 L131.54 285.70 L131.40 286.20 L131.26 286.70 L131.11 287.20 L130.96 287.70 L130.82 288.20 L130.67 288.70 L130.52 289.20 L130.38 289.70 L130.23 290.20 L130.09 290.70 L129.95 291.20 L129.80 291.70 L129.66 292.20 L129.52 292.70 L129.38 293.20 L129.23 293.70 L129.09 294.20 L128.94 294.70 L128.79 295.20 L128.64 295.70 L128.49 296.20 L128.33 296.70 L128.17 297.20 L128.02 297.70 L127.86 298.20 L127.71 298.70 L127.55 299.20 L127.40 299.70 L127.25 300.20 L127.10 300.70 L126.96 301.20 L126.81 301.70 L126.66 302.20 L126.52 302.70 L126.38 303.20 L126.23 303.70 L126.09 304.20 L125.95 304.70 L125.81 305.20 L125.68 305.70 L125.55 306.20 L125.41 306.70 L125.28 307.20 L125.15 307.70 L125.02 308.20 L124.89 308.70 L124.75 309.20 L124.62 309.70 L124.47 310.20 L124.32 310.70 L124.15 311.20 L123.99 311.70 L123.81 312.20 L123.65 312.70 L123.48 313.20 L123.33 313.70 L123.18 314.20 L123.06 314.70 L122.95 315.20 L122.85 315.70 L122.76 316.20 L122.67 316.70 L122.59 317.20 L122.51 317.70 L122.44 318.20 L122.37 318.70 L122.30 319.20 L122.23 319.70 L122.16 320.20 L122.10 320.70 L122.03 321.20 L121.96 321.70 L121.90 322.20 L121.84 322.70 L121.78 323.20 L121.72 323.70 L121.67 324.20 L121.62 324.70 L121.57 325.20 L121.52 325.70 L121.48 326.20 L121.43 326.70 L121.39 327.20 L121.35 327.70 L121.30 328.20 L121.26 328.70 L121.23 329.20 L121.19 329.70 L121.15 330.20 L121.12 330.70 L121.09 331.20 L121.06 331.70 L121.03 332.20 L121.00 332.70 L120.97 333.20 L120.95 333.70 L120.92 334.20 L120.90 334.70 L120.87 335.20 L120.85 335.70 L120.82 336.20 L120.80 336.70 L120.78 337.20 L120.76 337.70 L120.74 338.20 L120.73 338.70 L120.71 339.20 L120.70 339.70 L120.69 340.00 L120.69 340.00 L120.68 339.70 L120.67 339.20 L120.65 338.70 L120.64 338.20 L120.62 337.70 L120.60 337.20 L120.58 336.70 L120.56 336.20 L120.53 335.70 L120.51 335.20 L120.48 334.70 L120.46 334.20 L120.43 333.70 L120.41 333.20 L120.38 332.70 L120.35 332.20 L120.32 331.70 L120.29 331.20 L120.26 330.70 L120.23 330.20 L120.19 329.70 L120.15 329.20 L120.12 328.70 L120.08 328.20 L120.03 327.70 L119.99 327.20 L119.95 326.70 L119.90 326.20 L119.86 325.70 L119.81 325.20 L119.76 324.70 L119.71 324.20 L119.66 323.70 L119.60 323.20 L119.54 322.70 L119.48 322.20 L119.42 321.70 L119.35 321.20 L119.28 320.70 L119.22 320.20 L119.15 319.70 L119.08 319.20 L119.01 318.70 L118.94 318.20 L118.87 317.70 L118.79 317.20 L118.71 316.70 L118.62 316.20 L118.53 315.70 L118.43 315.20 L118.32 314.70 L118.20 314.20 L118.05 313.70 L117.90 313.20 L117.73 312.70 L117.57 312.20 L117.39 311.70 L117.23 311.20 L117.06 310.70 L116.91 310.20 L116.76 309.70 L116.63 309.20 L116.49 308.70 L116.36 308.20 L116.23 307.70 L116.10 307.20 L115.97 306.70 L115.83 306.20 L115.70 305.70 L115.57 305.20 L115.43 304.70 L115.29 304.20 L115.15 303.70 L115.00 303.20 L114.86 302.70 L114.72 302.20 L114.57 301.70 L114.42 301.20 L114.28 300.70 L114.13 300.20 L113.98 299.70 L113.83 299.20 L113.67 298.70 L113.52 298.20 L113.36 297.70 L113.21 297.20 L113.05 296.70 L112.89 296.20 L112.74 295.70 L112.59 295.20 L112.44 294.70 L112.29 294.20 L112.15 293.70 L112.00 293.20 L111.86 292.70 L111.72 292.20 L111.58 291.70 L111.43 291.20 L111.29 290.70 L111.15 290.20 L111.00 289.70 L110.86 289.20 L110.71 288.70 L110.56 288.20 L110.42 287.70 L110.27 287.20 L110.12 286.70 L109.98 286.20 L109.84 285.70 L109.70 285.20 L109.57 284.70 L109.43 284.20 L109.30 283.70 L109.16 283.20 L109.02 282.70 L108.89 282.20 L108.76 281.70 L108.64 281.20 L108.52 280.70 L108.41 280.20 L108.31 279.70 L108.22 279.20 L108.14 278.70 L108.06 278.20 L107.98 277.70 L107.91 277.20 L107.84 276.70 L107.77 276.20 L107.71 275.70 L107.65 275.20 L107.60 274.70 L107.55 274.20 L107.51 273.70 L107.48 273.20 L107.45 272.70 L107.41 272.20 L107.38 271.70 L107.36 271.20 L107.33 270.70 L107.31 270.20 L107.29 269.70 L107.27 269.20 L107.25 268.70 L107.25 268.20 L107.24 267.70 L107.24 267.20 L107.25 266.70 L107.26 266.20 L107.28 265.70 L107.30 265.20 L107.33 264.70 L107.35 264.20 L107.39 263.70 L107.42 263.20 L107.46 262.70 L107.49 262.20 L107.53 261.70 L107.57 261.20 L107.63 260.70 L107.69 260.20 L107.75 259.70 L107.83 259.20 L107.91 258.70 L107.99 258.20 L108.08 257.70 L108.17 257.20 L108.26 256.70 L108.35 256.20 L108.44 255.70 L108.53 255.20 L108.62 254.70 L108.71 254.20 L108.80 253.70 L108.90 253.20 L109.00 252.70 L109.10 252.20 L109.21 251.70 L109.31 251.20 L109.43 250.70 L109.54 250.20 L109.66 249.70 L109.79 249.20 L109.93 248.70 L110.07 248.20 L110.22 247.70 L110.38 247.20 L110.53 246.70 L110.69 246.20 L110.86 245.70 L111.02 245.20 L111.18 244.70 L111.34 244.20 L111.50 243.70 L111.68 243.20 L111.86 242.70 L112.06 242.20 L112.25 241.70 L112.45 241.20 L112.64 240.70 L112.82 240.20 L112.98 239.70 L113.13 239.20 L113.26 238.70 L113.36 238.20 L113.43 237.70 L113.49 237.20 L113.54 236.70 L113.58 236.20 L113.62 235.70 L113.66 235.20 L113.71 234.70 L113.76 234.20 L113.82 233.70 L113.89 233.20 L113.96 232.70 L114.03 232.20 L114.10 231.70 L114.17 231.20 L114.24 230.70 L114.32 230.20 L114.40 229.70 L114.47 229.20 L114.56 228.70 L114.64 228.20 L114.73 227.70 L114.82 227.20 L114.92 226.70 L115.01 226.20 L115.10 225.70 L115.19 225.20 L115.28 224.70 L115.37 224.20 L115.46 223.70 L115.55 223.20 L115.65 222.70 L115.75 222.20 L115.86 221.70 L115.96 221.20 L116.08 220.70 L116.19 220.20 L116.32 219.70 L116.44 219.20 L116.58 218.70 L116.72 218.20 L116.87 217.70 L117.01 217.20 L117.16 216.70 L117.31 216.20 L117.45 215.70 L117.59 215.20 L117.74 214.70 L117.89 214.20 L118.04 213.70 L118.19 213.20 L118.35 212.70 L118.51 212.20 L118.67 211.70 L118.83 211.20 L118.99 210.70 L119.16 210.20 L119.33 209.70 L119.50 209.20 L119.66 208.70 L119.80 208.20 L119.91 207.70 L120.00 207.20 L120.08 206.70 L120.15 206.20 L120.21 205.70 L120.26 205.20 L120.30 204.70 L120.32 204.20 L120.34 203.70 L120.36 203.20 L120.38 202.70 L120.39 202.20 L120.41 201.70 L120.43 201.20 L120.46 200.70 L120.48 200.20 L120.51 199.70 L120.54 199.20 L120.58 198.70 L120.61 198.20 L120.65 197.70 L120.69 197.20Z" fill="#da8234" stroke="url(#g101)" stroke-width="0.95" stroke-linejoin="round"/>
<line x1="120.69" y1="207.00" x2="120.69" y2="330.00" stroke="#333537" stroke-width="0.80"/>
<line x1="120.69" y1="248.75" x2="120.69" y2="289.50" stroke="#333537" stroke-width="2.20"/>
<circle cx="120.69" cy="269.50" r="0.50" fill="#fff"/>
<linearGradient id="g102" gradientUnits="userSpaceOnUse" x1="0" y1="195.70" x2="0" y2="338.00"><stop offset="0.0000" stop-color="#333537" stop-opacity="0.55"/><stop offset="0.0232" stop-color="#333537" stop-opacity="1.00"/><stop offset="1.0000" stop-color="#333537" stop-opacity="1.00"/></linearGradient>
<path d="M188.46 195.70 L188.52 196.20 L188.58 196.70 L188.64 197.20 L188.70 197.70 L188.76 198.20 L188.82 198.70 L188.89 199.20 L188.96 199.70 L189.03 200.20 L189.10 200.70 L189.17 201.20 L189.24 201.70 L189.32 202.20 L189.39 202.70 L189.47 203.20 L189.54 203.70 L189.62 204.20 L189.71 204.70 L189.80 205.20 L189.90 205.70 L190.01 206.20 L190.16 206.70 L190.36 207.20 L190.69 207.70 L191.14 208.20 L191.66 208.70 L192.26 209.20 L193.00 209.70 L193.80 210.20 L194.56 210.70 L195.31 211.20 L196.06 211.70 L196.81 212.20 L197.57 212.70 L198.34 213.20 L199.11 213.70 L199.87 214.20 L200.62 214.70 L201.37 215.20 L202.11 215.70 L202.87 216.20 L203.62 216.70 L204.37 217.20 L205.11 217.70 L205.83 218.20 L206.55 218.70 L207.23 219.20 L207.88 219.70 L208.51 220.20 L209.11 220.70 L209.67 221.20 L210.21 221.70 L210.71 222.20 L211.19 222.70 L211.62 223.20 L212.03 223.70 L212.42 224.20 L212.76 224.70 L213.09 225.20 L213.40 225.70 L213.69 226.20 L213.94 226.70 L214.14 227.20 L214.31 227.70 L214.45 228.20 L214.58 228.70 L214.71 229.20 L214.84 229.70 L214.98 230.20 L215.12 230.70 L215.24 231.20 L215.33 231.70 L215.38 232.20 L215.41 232.70 L215.44 233.20 L215.46 233.70 L215.46 234.20 L215.37 234.70 L215.19 235.20 L214.95 235.70 L214.53 236.20 L214.06 236.70 L213.63 237.20 L213.19 237.70 L212.74 238.20 L212.27 238.70 L211.79 239.20 L211.29 239.70 L210.78 240.20 L210.27 240.70 L209.76 241.20 L209.24 241.70 L208.71 242.20 L208.19 242.70 L207.67 243.20 L207.16 243.70 L206.68 244.20 L206.20 244.70 L205.74 245.20 L205.28 245.70 L204.82 246.20 L204.36 246.70 L203.89 247.20 L203.42 247.70 L202.96 248.20 L202.49 248.70 L202.03 249.20 L201.56 249.70 L201.10 250.20 L200.63 250.70 L200.16 251.20 L199.69 251.70 L199.23 252.20 L198.77 252.70 L198.31 253.20 L197.84 253.70 L197.38 254.20 L196.93 254.70 L196.49 255.20 L196.08 255.70 L195.69 256.20 L195.32 256.70 L194.96 257.20 L194.61 257.70 L194.27 258.20 L193.93 258.70 L193.59 259.20 L193.25 259.70 L192.92 260.20 L192.61 260.70 L192.32 261.20 L192.06 261.70 L191.83 262.20 L191.61 262.70 L191.40 263.20 L191.19 263.70 L190.98 264.20 L190.76 264.70 L190.54 265.20 L190.34 265.70 L190.16 266.20 L190.01 266.70 L189.88 267.20 L189.75 267.70 L189.63 268.20 L189.52 268.70 L189.40 269.20 L189.30 269.70 L189.20 270.20 L189.11 270.70 L189.04 271.20 L188.97 271.70 L188.90 272.20 L188.84 272.70 L188.79 273.20 L188.74 273.70 L188.70 274.20 L188.67 274.70 L188.66 275.20 L188.64 275.70 L188.63 276.20 L188.62 276.70 L188.61 277.20 L188.60 277.70 L188.60 278.20 L188.59 278.70 L188.59 279.20 L188.58 279.70 L188.58 280.20 L188.58 280.70 L188.58 281.20 L188.58 281.70 L188.58 282.20 L188.58 282.70 L188.58 283.20 L188.58 283.70 L188.58 284.20 L188.57 284.70 L188.57 285.20 L188.57 285.70 L188.57 286.20 L188.57 286.70 L188.57 287.20 L188.57 287.70 L188.57 288.20 L188.57 288.70 L188.57 289.20 L188.57 289.70 L188.57 290.20 L188.57 290.70 L188.57 291.20 L188.57 291.70 L188.57 292.20 L188.57 292.70 L188.57 293.20 L188.56 293.70 L188.56 294.20 L188.56 294.70 L188.56 295.20 L188.56 295.70 L188.56 296.20 L188.56 296.70 L188.56 297.20 L188.56 297.70 L188.56 298.20 L188.56 298.70 L188.56 299.20 L188.56 299.70 L188.56 300.20 L188.56 300.70 L188.56 301.20 L188.56 301.70 L188.56 302.20 L188.56 302.70 L188.56 303.20 L188.56 303.70 L188.56 304.20 L188.56 304.70 L188.56 305.20 L188.56 305.70 L188.56 306.20 L188.56 306.70 L188.57 307.20 L188.57 307.70 L188.57 308.20 L188.57 308.70 L188.57 309.20 L188.57 309.70 L188.57 310.20 L188.57 310.70 L188.57 311.20 L188.57 311.70 L188.57 312.20 L188.57 312.70 L188.57 313.20 L188.57 313.70 L188.57 314.20 L188.57 314.70 L188.57 315.20 L188.57 315.70 L188.58 316.20 L188.58 316.70 L188.58 317.20 L188.58 317.70 L188.58 318.20 L188.58 318.70 L188.58 319.20 L188.58 319.70 L188.59 320.20 L188.60 320.70 L188.64 321.20 L188.68 321.70 L188.74 322.20 L188.80 322.70 L188.88 323.20 L188.96 323.70 L189.07 324.20 L189.24 324.70 L189.45 325.20 L189.64 325.70 L189.80 326.20 L189.89 326.70 L189.97 327.20 L190.04 327.70 L190.10 328.20 L190.15 328.70 L190.19 329.20 L190.21 329.70 L190.21 330.20 L190.19 330.70 L190.14 331.20 L190.07 331.70 L190.00 332.20 L189.91 332.70 L189.82 333.20 L189.72 333.70 L189.61 334.20 L189.46 334.70 L189.31 335.20 L189.15 335.70 L189.01 336.20 L188.86 336.70 L188.71 337.20 L188.56 337.70 L188.46 338.00 L188.46 338.00 L188.37 337.70 L188.22 337.20 L188.07 336.70 L187.92 336.20 L187.77 335.70 L187.62 335.20 L187.46 334.70 L187.32 334.20 L187.20 333.70 L187.11 333.20 L187.02 332.70 L186.93 332.20 L186.85 331.70 L186.79 331.20 L186.74 330.70 L186.72 330.20 L186.72 329.70 L186.74 329.20 L186.77 328.70 L186.83 328.20 L186.89 327.70 L186.96 327.20 L187.03 326.70 L187.13 326.20 L187.28 325.70 L187.48 325.20 L187.68 324.70 L187.86 324.20 L187.97 323.70 L188.05 323.20 L188.12 322.70 L188.19 322.20 L188.25 321.70 L188.29 321.20 L188.32 320.70 L188.34 320.20 L188.34 319.70 L188.35 319.20 L188.35 318.70 L188.35 318.20 L188.35 317.70 L188.35 317.20 L188.35 316.70 L188.35 316.20 L188.35 315.70 L188.35 315.20 L188.35 314.70 L188.35 314.20 L188.36 313.70 L188.36 313.20 L188.36 312.70 L188.36 312.20 L188.36 311.70 L188.36 311.20 L188.36 310.70 L188.36 310.20 L188.36 309.70 L188.36 309.20 L188.36 308.70 L188.36 308.20 L188.36 307.70 L188.36 307.20 L188.36 306.70 L188.36 306.20 L188.36 305.70 L188.36 305.20 L188.36 304.70 L188.36 304.20 L188.36 303.70 L188.36 303.20 L188.36 302.70 L188.36 302.20 L188.36 301.70 L188.36 301.20 L188.36 300.70 L188.36 300.20 L188.36 299.70 L188.36 299.20 L188.36 298.70 L188.36 298.20 L188.36 297.70 L188.36 297.20 L188.36 296.70 L188.36 296.20 L188.36 295.70 L188.36 295.20 L188.36 294.70 L188.36 294.20 L188.36 293.70 L188.36 293.20 L188.36 292.70 L188.36 292.20 L188.36 291.70 L188.36 291.20 L188.36 290.70 L188.36 290.20 L188.36 289.70 L188.36 289.20 L188.36 288.70 L188.36 288.20 L188.36 287.70 L188.36 287.20 L188.36 286.70 L188.35 286.20 L188.35 285.70 L188.35 285.20 L188.35 284.70 L188.35 284.20 L188.35 283.70 L188.35 283.20 L188.35 282.70 L188.35 282.20 L188.35 281.70 L188.35 281.20 L188.34 280.70 L188.34 280.20 L188.34 279.70 L188.34 279.20 L188.34 278.70 L188.33 278.20 L188.32 277.70 L188.31 277.20 L188.30 276.70 L188.29 276.20 L188.28 275.70 L188.27 275.20 L188.25 274.70 L188.22 274.20 L188.19 273.70 L188.14 273.20 L188.08 272.70 L188.02 272.20 L187.96 271.70 L187.89 271.20 L187.82 270.70 L187.73 270.20 L187.63 269.70 L187.52 269.20 L187.41 268.70 L187.29 268.20 L187.18 267.70 L187.05 267.20 L186.91 266.70 L186.76 266.20 L186.59 265.70 L186.38 265.20 L186.17 264.70 L185.95 264.20 L185.74 263.70 L185.53 263.20 L185.32 262.70 L185.10 262.20 L184.86 261.70 L184.60 261.20 L184.31 260.70 L184.00 260.20 L183.68 259.70 L183.34 259.20 L183.00 258.70 L182.66 258.20 L182.32 257.70 L181.97 257.20 L181.61 256.70 L181.23 256.20 L180.84 255.70 L180.43 255.20 L180.00 254.70 L179.55 254.20 L179.09 253.70 L178.62 253.20 L178.16 252.70 L177.70 252.20 L177.23 251.70 L176.77 251.20 L176.30 250.70 L175.83 250.20 L175.36 249.70 L174.90 249.20 L174.43 248.70 L173.97 248.20 L173.50 247.70 L173.04 247.20 L172.57 246.70 L172.11 246.20 L171.65 245.70 L171.19 245.20 L170.73 244.70 L170.25 244.20 L169.76 243.70 L169.26 243.20 L168.74 242.70 L168.21 242.20 L167.69 241.70 L167.17 241.20 L166.66 240.70 L166.15 240.20 L165.64 239.70 L165.14 239.20 L164.65 238.70 L164.19 238.20 L163.73 237.70 L163.29 237.20 L162.86 236.70 L162.39 236.20 L161.97 235.70 L161.74 235.20 L161.56 234.70 L161.47 234.20 L161.47 233.70 L161.49 233.20 L161.51 232.70 L161.55 232.20 L161.60 231.70 L161.68 231.20 L161.80 230.70 L161.94 230.20 L162.08 229.70 L162.21 229.20 L162.34 228.70 L162.48 228.20 L162.62 227.70 L162.79 227.20 L162.99 226.70 L163.24 226.20 L163.52 225.70 L163.84 225.20 L164.16 224.70 L164.51 224.20 L164.89 223.70 L165.30 223.20 L165.74 222.70 L166.21 222.20 L166.72 221.70 L167.25 221.20 L167.82 220.70 L168.42 220.20 L169.04 219.70 L169.70 219.20 L170.38 218.70 L171.09 218.20 L171.82 217.70 L172.55 217.20 L173.30 216.70 L174.06 216.20 L174.81 215.70 L175.56 215.20 L176.31 214.70 L177.06 214.20 L177.82 213.70 L178.59 213.20 L179.35 212.70 L180.11 212.20 L180.87 211.70 L181.62 211.20 L182.37 210.70 L183.13 210.20 L183.92 209.70 L184.67 209.20 L185.27 208.70 L185.78 208.20 L186.24 207.70 L186.57 207.20 L186.77 206.70 L186.91 206.20 L187.03 205.70 L187.12 205.20 L187.22 204.70 L187.31 204.20 L187.39 203.70 L187.46 203.20 L187.53 202.70 L187.61 202.20 L187.68 201.70 L187.76 201.20 L187.83 200.70 L187.90 200.20 L187.97 199.70 L188.04 199.20 L188.10 198.70 L188.17 198.20 L188.23 197.70 L188.29 197.20 L188.35 196.70 L188.41 196.20 L188.46 195.70Z" fill="#4b9d3e" stroke="url(#g102)" stroke-width="0.95" stroke-linejoin="round"/>
<line x1="188.46" y1="204.00" x2="188.46" y2="272.00" stroke="#333537" stroke-width="0.80"/>
<line x1="188.46" y1="223.75" x2="188.46" y2="246.70" stroke="#333537" stroke-width="2.20"/>
<circle cx="188.46" cy="235.30" r="0.50" fill="#fff"/>
<line x1="19.03" y1="189.22" x2="222.35" y2="189.22" stroke="#111" stroke-width="0.85" stroke-opacity="0.45" stroke-linecap="square"/>
<line x1="19.03" y1="347.08" x2="222.35" y2="347.08" stroke="#111" stroke-width="0.85" stroke-opacity="0.47" stroke-linecap="square"/>
<line x1="19.03" y1="189.22" x2="19.03" y2="347.08" stroke="#111" stroke-width="0.52" stroke-opacity="1.00" stroke-linecap="square"/>
<line x1="222.35" y1="189.22" x2="222.35" y2="347.08" stroke="#111" stroke-width="0.52" stroke-opacity="1.00" stroke-linecap="square"/>
<line x1="17.18" y1="329.90" x2="19.03" y2="329.90" stroke="#111" stroke-width="0.75"/>
<text x="15.18" y="332.33" text-anchor="end">0.0</text>
<line x1="17.18" y1="304.77" x2="19.03" y2="304.77" stroke="#111" stroke-width="0.75"/>
<text x="15.18" y="307.20" text-anchor="end">0.2</text>
<line x1="17.18" y1="279.64" x2="19.03" y2="279.64" stroke="#111" stroke-width="0.75"/>
<text x="15.18" y="282.07" text-anchor="end">0.4</text>
<line x1="17.18" y1="254.51" x2="19.03" y2="254.51" stroke="#111" stroke-width="0.75"/>
<text x="15.18" y="256.94" text-anchor="end">0.6</text>
<line x1="17.18" y1="229.38" x2="19.03" y2="229.38" stroke="#111" stroke-width="0.75"/>
<text x="15.18" y="231.81" text-anchor="end">0.8</text>
<line x1="17.18" y1="204.25" x2="19.03" y2="204.25" stroke="#111" stroke-width="0.75"/>
<text x="15.18" y="206.68" text-anchor="end">1.0</text>
<line x1="52.92" y1="347.08" x2="52.92" y2="348.93" stroke="#111" stroke-width="0.75"/>
<text x="52.92" y="354.83" text-anchor="middle">HAND</text>
<line x1="120.69" y1="347.08" x2="120.69" y2="348.93" stroke="#111" stroke-width="0.75"/>
<text x="120.69" y="354.83" text-anchor="middle">SWMM-HEC-RAS-2D</text>
<line x1="188.46" y1="347.08" x2="188.46" y2="348.93" stroke="#111" stroke-width="0.75"/>
<text x="188.46" y="354.83" text-anchor="middle">Synxflow</text>
<text x="120.69" y="185.92" text-anchor="middle" font-size="6.35">F1</text>
<text transform="translate(4.13 268.65) rotate(-90)" text-anchor="middle">F1</text>
</g>
<g>
<linearGradient id="g110" gradientUnits="userSpaceOnUse" x1="0" y1="196.25" x2="0" y2="339.90"><stop offset="0.0000" stop-color="#333537" stop-opacity="0.55"/><stop offset="0.0769" stop-color="#333537" stop-opacity="1.00"/><stop offset="0.9241" stop-color="#333537" stop-opacity="1.00"/><stop offset="1.0000" stop-color="#333537" stop-opacity="0.55"/></linearGradient>
<path d="M284.09 196.25 L284.10 196.75 L284.11 197.25 L284.13 197.75 L284.14 198.25 L284.16 198.75 L284.17 199.25 L284.19 199.75 L284.20 200.25 L284.22 200.75 L284.23 201.25 L284.25 201.75 L284.26 202.25 L284.28 202.75 L284.29 203.25 L284.31 203.75 L284.32 204.25 L284.34 204.75 L284.35 205.25 L284.37 205.75 L284.39 206.25 L284.41 206.75 L284.43 207.25 L284.47 207.75 L284.51 208.25 L284.56 208.75 L284.62 209.25 L284.67 209.75 L284.71 210.25 L284.75 210.75 L284.79 211.25 L284.82 211.75 L284.86 212.25 L284.89 212.75 L284.93 213.25 L284.96 213.75 L284.99 214.25 L285.02 214.75 L285.05 215.25 L285.08 215.75 L285.10 216.25 L285.13 216.75 L285.15 217.25 L285.17 217.75 L285.20 218.25 L285.22 218.75 L285.24 219.25 L285.26 219.75 L285.28 220.25 L285.30 220.75 L285.33 221.25 L285.35 221.75 L285.37 222.25 L285.39 222.75 L285.41 223.25 L285.44 223.75 L285.46 224.25 L285.48 224.75 L285.50 225.25 L285.53 225.75 L285.55 226.25 L285.57 226.75 L285.60 227.25 L285.62 227.75 L285.64 228.25 L285.67 228.75 L285.69 229.25 L285.72 229.75 L285.74 230.25 L285.77 230.75 L285.79 231.25 L285.82 231.75 L285.85 232.25 L285.87 232.75 L285.90 233.25 L285.93 233.75 L285.96 234.25 L285.98 234.75 L286.01 235.25 L286.04 235.75 L286.07 236.25 L286.10 236.75 L286.13 237.25 L286.16 237.75 L286.19 238.25 L286.23 238.75 L286.26 239.25 L286.29 239.75 L286.33 240.25 L286.36 240.75 L286.40 241.25 L286.43 241.75 L286.47 242.25 L286.51 242.75 L286.55 243.25 L286.59 243.75 L286.63 244.25 L286.67 244.75 L286.71 245.25 L286.75 245.75 L286.79 246.25 L286.84 246.75 L286.88 247.25 L286.93 247.75 L286.98 248.25 L287.03 248.75 L287.07 249.25 L287.12 249.75 L287.17 250.25 L287.23 250.75 L287.28 251.25 L287.33 251.75 L287.39 252.25 L287.44 252.75 L287.50 253.25 L287.56 253.75 L287.62 254.25 L287.68 254.75 L287.74 255.25 L287.80 255.75 L287.86 256.25 L287.93 256.75 L287.99 257.25 L288.05 257.75 L288.12 258.25 L288.18 258.75 L288.25 259.25 L288.32 259.75 L288.38 260.25 L288.45 260.75 L288.52 261.25 L288.59 261.75 L288.66 262.25 L288.73 262.75 L288.80 263.25 L288.88 263.75 L288.95 264.25 L289.03 264.75 L289.11 265.25 L289.18 265.75 L289.26 266.25 L289.35 266.75 L289.43 267.25 L289.51 267.75 L289.60 268.25 L289.68 268.75 L289.77 269.25 L289.86 269.75 L289.95 270.25 L290.05 270.75 L290.15 271.25 L290.25 271.75 L290.36 272.25 L290.47 272.75 L290.59 273.25 L290.71 273.75 L290.82 274.25 L290.93 274.75 L291.04 275.25 L291.14 275.75 L291.25 276.25 L291.35 276.75 L291.44 277.25 L291.54 277.75 L291.63 278.25 L291.73 278.75 L291.82 279.25 L291.92 279.75 L292.01 280.25 L292.09 280.75 L292.17 281.25 L292.25 281.75 L292.32 282.25 L292.39 282.75 L292.45 283.25 L292.51 283.75 L292.56 284.25 L292.61 284.75 L292.66 285.25 L292.71 285.75 L292.75 286.25 L292.79 286.75 L292.83 287.25 L292.87 287.75 L292.90 288.25 L292.93 288.75 L292.95 289.25 L292.97 289.75 L292.99 290.25 L293.00 290.75 L293.02 291.25 L293.03 291.75 L293.04 292.25 L293.04 292.75 L293.04 293.25 L293.03 293.75 L293.03 294.25 L293.03 294.75 L293.02 295.25 L293.01 295.75 L293.01 296.25 L293.00 296.75 L292.99 297.25 L292.98 297.75 L292.96 298.25 L292.93 298.75 L292.90 299.25 L292.86 299.75 L292.82 300.25 L292.77 300.75 L292.71 301.25 L292.64 301.75 L292.57 302.25 L292.49 302.75 L292.41 303.25 L292.32 303.75 L292.23 304.25 L292.14 304.75 L292.04 305.25 L291.93 305.75 L291.80 306.25 L291.67 306.75 L291.53 307.25 L291.39 307.75 L291.23 308.25 L291.08 308.75 L290.93 309.25 L290.77 309.75 L290.62 310.25 L290.47 310.75 L290.31 311.25 L290.16 311.75 L290.00 312.25 L289.83 312.75 L289.67 313.25 L289.50 313.75 L289.34 314.25 L289.17 314.75 L289.00 315.25 L288.84 315.75 L288.67 316.25 L288.49 316.75 L288.32 317.25 L288.15 317.75 L287.98 318.25 L287.80 318.75 L287.63 319.25 L287.46 319.75 L287.29 320.25 L287.12 320.75 L286.95 321.25 L286.78 321.75 L286.61 322.25 L286.44 322.75 L286.27 323.25 L286.10 323.75 L285.92 324.25 L285.74 324.75 L285.56 325.25 L285.39 325.75 L285.23 326.25 L285.10 326.75 L284.98 327.25 L284.87 327.75 L284.77 328.25 L284.68 328.75 L284.60 329.25 L284.52 329.75 L284.46 330.25 L284.40 330.75 L284.37 331.25 L284.35 331.75 L284.32 332.25 L284.31 332.75 L284.29 333.25 L284.27 333.75 L284.26 334.25 L284.24 334.75 L284.23 335.25 L284.21 335.75 L284.20 336.25 L284.18 336.75 L284.16 337.25 L284.15 337.75 L284.13 338.25 L284.12 338.75 L284.10 339.25 L284.09 339.75 L284.09 339.90 L284.09 339.90 L284.08 339.75 L284.07 339.25 L284.05 338.75 L284.04 338.25 L284.03 337.75 L284.01 337.25 L283.99 336.75 L283.98 336.25 L283.96 335.75 L283.95 335.25 L283.93 334.75 L283.91 334.25 L283.90 333.75 L283.88 333.25 L283.87 332.75 L283.85 332.25 L283.83 331.75 L283.80 331.25 L283.77 330.75 L283.72 330.25 L283.65 329.75 L283.58 329.25 L283.50 328.75 L283.41 328.25 L283.31 327.75 L283.20 327.25 L283.07 326.75 L282.94 326.25 L282.79 325.75 L282.62 325.25 L282.44 324.75 L282.25 324.25 L282.07 323.75 L281.90 323.25 L281.73 322.75 L281.56 322.25 L281.39 321.75 L281.23 321.25 L281.06 320.75 L280.89 320.25 L280.71 319.75 L280.54 319.25 L280.37 318.75 L280.20 318.25 L280.02 317.75 L279.85 317.25 L279.68 316.75 L279.51 316.25 L279.34 315.75 L279.17 315.25 L279.00 314.75 L278.84 314.25 L278.67 313.75 L278.51 313.25 L278.34 312.75 L278.18 312.25 L278.02 311.75 L277.86 311.25 L277.70 310.75 L277.55 310.25 L277.40 309.75 L277.25 309.25 L277.09 308.75 L276.94 308.25 L276.79 307.75 L276.64 307.25 L276.50 306.75 L276.37 306.25 L276.25 305.75 L276.14 305.25 L276.04 304.75 L275.94 304.25 L275.85 303.75 L275.76 303.25 L275.68 302.75 L275.60 302.25 L275.53 301.75 L275.47 301.25 L275.41 300.75 L275.36 300.25 L275.32 299.75 L275.28 299.25 L275.24 298.75 L275.21 298.25 L275.19 297.75 L275.18 297.25 L275.17 296.75 L275.17 296.25 L275.16 295.75 L275.15 295.25 L275.15 294.75 L275.14 294.25 L275.14 293.75 L275.14 293.25 L275.14 292.75 L275.14 292.25 L275.14 291.75 L275.15 291.25 L275.17 290.75 L275.19 290.25 L275.21 289.75 L275.23 289.25 L275.25 288.75 L275.27 288.25 L275.31 287.75 L275.34 287.25 L275.38 286.75 L275.42 286.25 L275.47 285.75 L275.51 285.25 L275.56 284.75 L275.61 284.25 L275.67 283.75 L275.72 283.25 L275.79 282.75 L275.85 282.25 L275.92 281.75 L276.00 281.25 L276.08 280.75 L276.17 280.25 L276.26 279.75 L276.35 279.25 L276.45 278.75 L276.54 278.25 L276.63 277.75 L276.73 277.25 L276.83 276.75 L276.93 276.25 L277.03 275.75 L277.13 275.25 L277.24 274.75 L277.35 274.25 L277.47 273.75 L277.58 273.25 L277.70 272.75 L277.81 272.25 L277.92 271.75 L278.03 271.25 L278.12 270.75 L278.22 270.25 L278.31 269.75 L278.40 269.25 L278.49 268.75 L278.58 268.25 L278.66 267.75 L278.75 267.25 L278.83 266.75 L278.91 266.25 L278.99 265.75 L279.07 265.25 L279.14 264.75 L279.22 264.25 L279.30 263.75 L279.37 263.25 L279.44 262.75 L279.51 262.25 L279.58 261.75 L279.65 261.25 L279.72 260.75 L279.79 260.25 L279.86 259.75 L279.92 259.25 L279.99 258.75 L280.05 258.25 L280.12 257.75 L280.18 257.25 L280.25 256.75 L280.31 256.25 L280.37 255.75 L280.44 255.25 L280.50 254.75 L280.56 254.25 L280.62 253.75 L280.68 253.25 L280.73 252.75 L280.79 252.25 L280.84 251.75 L280.90 251.25 L280.95 250.75 L281.00 250.25 L281.05 249.75 L281.10 249.25 L281.15 248.75 L281.20 248.25 L281.24 247.75 L281.29 247.25 L281.34 246.75 L281.38 246.25 L281.42 245.75 L281.47 245.25 L281.51 244.75 L281.55 244.25 L281.59 243.75 L281.63 243.25 L281.67 242.75 L281.70 242.25 L281.74 241.75 L281.78 241.25 L281.81 240.75 L281.85 240.25 L281.88 239.75 L281.91 239.25 L281.95 238.75 L281.98 238.25 L282.01 237.75 L282.04 237.25 L282.07 236.75 L282.10 236.25 L282.13 235.75 L282.16 235.25 L282.19 234.75 L282.22 234.25 L282.25 233.75 L282.27 233.25 L282.30 232.75 L282.33 232.25 L282.35 231.75 L282.38 231.25 L282.41 230.75 L282.43 230.25 L282.46 229.75 L282.48 229.25 L282.51 228.75 L282.53 228.25 L282.55 227.75 L282.58 227.25 L282.60 226.75 L282.62 226.25 L282.65 225.75 L282.67 225.25 L282.69 224.75 L282.72 224.25 L282.74 223.75 L282.76 223.25 L282.78 222.75 L282.80 222.25 L282.83 221.75 L282.85 221.25 L282.87 220.75 L282.89 220.25 L282.91 219.75 L282.93 219.25 L282.96 218.75 L282.98 218.25 L283.00 217.75 L283.02 217.25 L283.05 216.75 L283.07 216.25 L283.10 215.75 L283.12 215.25 L283.15 214.75 L283.18 214.25 L283.21 213.75 L283.24 213.25 L283.28 212.75 L283.31 212.25 L283.35 211.75 L283.39 211.25 L283.43 210.75 L283.47 210.25 L283.51 209.75 L283.56 209.25 L283.61 208.75 L283.66 208.25 L283.71 207.75 L283.74 207.25 L283.76 206.75 L283.78 206.25 L283.80 205.75 L283.82 205.25 L283.83 204.75 L283.85 204.25 L283.86 203.75 L283.88 203.25 L283.89 202.75 L283.91 202.25 L283.93 201.75 L283.94 201.25 L283.96 200.75 L283.97 200.25 L283.99 199.75 L284.00 199.25 L284.02 198.75 L284.03 198.25 L284.05 197.75 L284.06 197.25 L284.07 196.75 L284.09 196.25Z" fill="#467da5" stroke="url(#g110)" stroke-width="0.95" stroke-linejoin="round"/>
<line x1="284.09" y1="250.00" x2="284.09" y2="331.00" stroke="#333537" stroke-width="0.80"/>
<line x1="284.09" y1="267.00" x2="284.09" y2="305.50" stroke="#333537" stroke-width="2.20"/>
<circle cx="284.09" cy="289.50" r="0.50" fill="#fff"/>
<linearGradient id="g111" gradientUnits="userSpaceOnUse" x1="0" y1="227.50" x2="0" y2="332.70"><stop offset="0.0000" stop-color="#333537" stop-opacity="0.30"/><stop offset="0.2357" stop-color="#333537" stop-opacity="1.00"/><stop offset="0.9221" stop-color="#333537" stop-opacity="1.00"/><stop offset="1.0000" stop-color="#333537" stop-opacity="0.55"/></linearGradient>
<path d="M351.86 227.50 L351.86 228.00 L351.87 228.50 L351.87 229.00 L351.88 229.50 L351.88 230.00 L351.89 230.50 L351.89 231.00 L351.90 231.50 L351.90 232.00 L351.91 232.50 L351.91 233.00 L351.92 233.50 L351.93 234.00 L351.93 234.50 L351.94 235.00 L351.95 235.50 L351.95 236.00 L351.96 236.50 L351.97 237.00 L351.97 237.50 L351.98 238.00 L351.99 238.50 L351.99 239.00 L352.00 239.50 L352.01 240.00 L352.02 240.50 L352.03 241.00 L352.03 241.50 L352.04 242.00 L352.05 242.50 L352.06 243.00 L352.07 243.50 L352.08 244.00 L352.09 244.50 L352.10 245.00 L352.11 245.50 L352.12 246.00 L352.13 246.50 L352.14 247.00 L352.16 247.50 L352.17 248.00 L352.19 248.50 L352.20 249.00 L352.22 249.50 L352.24 250.00 L352.26 250.50 L352.29 251.00 L352.31 251.50 L352.34 252.00 L352.37 252.50 L352.41 253.00 L352.46 253.50 L352.51 254.00 L352.57 254.50 L352.63 255.00 L352.70 255.50 L352.76 256.00 L352.83 256.50 L352.90 257.00 L352.97 257.50 L353.05 258.00 L353.13 258.50 L353.23 259.00 L353.33 259.50 L353.45 260.00 L353.59 260.50 L353.75 261.00 L353.92 261.50 L354.09 262.00 L354.26 262.50 L354.44 263.00 L354.64 263.50 L354.84 264.00 L355.04 264.50 L355.24 265.00 L355.44 265.50 L355.62 266.00 L355.81 266.50 L355.99 267.00 L356.16 267.50 L356.33 268.00 L356.49 268.50 L356.65 269.00 L356.81 269.50 L356.96 270.00 L357.10 270.50 L357.22 271.00 L357.35 271.50 L357.47 272.00 L357.62 272.50 L357.78 273.00 L358.00 273.50 L358.32 274.00 L358.66 274.50 L358.96 275.00 L359.21 275.50 L359.44 276.00 L359.66 276.50 L359.87 277.00 L360.07 277.50 L360.26 278.00 L360.46 278.50 L360.65 279.00 L360.82 279.50 L361.00 280.00 L361.18 280.50 L361.39 281.00 L361.61 281.50 L361.84 282.00 L362.06 282.50 L362.26 283.00 L362.46 283.50 L362.66 284.00 L362.84 284.50 L363.02 285.00 L363.20 285.50 L363.36 286.00 L363.52 286.50 L363.68 287.00 L363.83 287.50 L363.98 288.00 L364.12 288.50 L364.25 289.00 L364.36 289.50 L364.46 290.00 L364.55 290.50 L364.63 291.00 L364.70 291.50 L364.76 292.00 L364.82 292.50 L364.86 293.00 L364.90 293.50 L364.93 294.00 L364.95 294.50 L364.96 295.00 L364.94 295.50 L364.90 296.00 L364.84 296.50 L364.79 297.00 L364.76 297.50 L364.75 298.00 L364.74 298.50 L364.73 299.00 L364.72 299.50 L364.71 300.00 L364.68 300.50 L364.61 301.00 L364.52 301.50 L364.41 302.00 L364.29 302.50 L364.16 303.00 L364.03 303.50 L363.89 304.00 L363.73 304.50 L363.54 305.00 L363.35 305.50 L363.15 306.00 L362.95 306.50 L362.76 307.00 L362.55 307.50 L362.34 308.00 L362.11 308.50 L361.86 309.00 L361.58 309.50 L361.27 310.00 L360.93 310.50 L360.58 311.00 L360.22 311.50 L359.87 312.00 L359.52 312.50 L359.19 313.00 L358.85 313.50 L358.50 314.00 L358.16 314.50 L357.81 315.00 L357.46 315.50 L357.10 316.00 L356.73 316.50 L356.36 317.00 L355.99 317.50 L355.63 318.00 L355.29 318.50 L354.97 319.00 L354.66 319.50 L354.35 320.00 L354.06 320.50 L353.76 321.00 L353.46 321.50 L353.19 322.00 L352.96 322.50 L352.77 323.00 L352.61 323.50 L352.47 324.00 L352.36 324.50 L352.28 325.00 L352.21 325.50 L352.15 326.00 L352.11 326.50 L352.08 327.00 L352.05 327.50 L352.02 328.00 L351.99 328.50 L351.96 329.00 L351.94 329.50 L351.92 330.00 L351.90 330.50 L351.88 331.00 L351.87 331.50 L351.86 332.00 L351.86 332.50 L351.86 332.70 L351.86 332.70 L351.86 332.50 L351.86 332.00 L351.85 331.50 L351.84 331.00 L351.82 330.50 L351.80 330.00 L351.78 329.50 L351.76 329.00 L351.73 328.50 L351.70 328.00 L351.67 327.50 L351.64 327.00 L351.61 326.50 L351.57 326.00 L351.51 325.50 L351.44 325.00 L351.36 324.50 L351.25 324.00 L351.11 323.50 L350.95 323.00 L350.76 322.50 L350.53 322.00 L350.26 321.50 L349.96 321.00 L349.66 320.50 L349.37 320.00 L349.06 319.50 L348.75 319.00 L348.43 318.50 L348.09 318.00 L347.73 317.50 L347.36 317.00 L346.99 316.50 L346.62 316.00 L346.26 315.50 L345.91 315.00 L345.56 314.50 L345.22 314.00 L344.87 313.50 L344.53 313.00 L344.20 312.50 L343.85 312.00 L343.50 311.50 L343.14 311.00 L342.79 310.50 L342.45 310.00 L342.14 309.50 L341.86 309.00 L341.61 308.50 L341.38 308.00 L341.17 307.50 L340.96 307.00 L340.77 306.50 L340.57 306.00 L340.37 305.50 L340.18 305.00 L339.99 304.50 L339.83 304.00 L339.69 303.50 L339.56 303.00 L339.43 302.50 L339.31 302.00 L339.20 301.50 L339.11 301.00 L339.04 300.50 L339.01 300.00 L339.00 299.50 L338.99 299.00 L338.98 298.50 L338.97 298.00 L338.96 297.50 L338.93 297.00 L338.88 296.50 L338.82 296.00 L338.78 295.50 L338.76 295.00 L338.77 294.50 L338.79 294.00 L338.82 293.50 L338.86 293.00 L338.90 292.50 L338.96 292.00 L339.02 291.50 L339.09 291.00 L339.17 290.50 L339.26 290.00 L339.36 289.50 L339.47 289.00 L339.60 288.50 L339.74 288.00 L339.89 287.50 L340.04 287.00 L340.20 286.50 L340.36 286.00 L340.52 285.50 L340.70 285.00 L340.88 284.50 L341.06 284.00 L341.26 283.50 L341.46 283.00 L341.66 282.50 L341.88 282.00 L342.11 281.50 L342.33 281.00 L342.54 280.50 L342.72 280.00 L342.90 279.50 L343.07 279.00 L343.26 278.50 L343.46 278.00 L343.65 277.50 L343.85 277.00 L344.06 276.50 L344.28 276.00 L344.51 275.50 L344.76 275.00 L345.06 274.50 L345.40 274.00 L345.72 273.50 L345.94 273.00 L346.10 272.50 L346.25 272.00 L346.37 271.50 L346.50 271.00 L346.62 270.50 L346.76 270.00 L346.91 269.50 L347.07 269.00 L347.23 268.50 L347.39 268.00 L347.56 267.50 L347.73 267.00 L347.91 266.50 L348.10 266.00 L348.28 265.50 L348.48 265.00 L348.68 264.50 L348.88 264.00 L349.08 263.50 L349.28 263.00 L349.46 262.50 L349.63 262.00 L349.80 261.50 L349.97 261.00 L350.13 260.50 L350.27 260.00 L350.39 259.50 L350.49 259.00 L350.59 258.50 L350.67 258.00 L350.75 257.50 L350.82 257.00 L350.89 256.50 L350.96 256.00 L351.02 255.50 L351.09 255.00 L351.15 254.50 L351.21 254.00 L351.26 253.50 L351.31 253.00 L351.35 252.50 L351.38 252.00 L351.41 251.50 L351.43 251.00 L351.46 250.50 L351.48 250.00 L351.50 249.50 L351.52 249.00 L351.53 248.50 L351.55 248.00 L351.56 247.50 L351.58 247.00 L351.59 246.50 L351.60 246.00 L351.61 245.50 L351.62 245.00 L351.63 244.50 L351.64 244.00 L351.65 243.50 L351.66 243.00 L351.67 242.50 L351.68 242.00 L351.69 241.50 L351.69 241.00 L351.70 240.50 L351.71 240.00 L351.72 239.50 L351.73 239.00 L351.73 238.50 L351.74 238.00 L351.75 237.50 L351.75 237.00 L351.76 236.50 L351.77 236.00 L351.77 235.50 L351.78 235.00 L351.79 234.50 L351.79 234.00 L351.80 233.50 L351.81 233.00 L351.81 232.50 L351.82 232.00 L351.82 231.50 L351.83 231.00 L351.83 230.50 L351.84 230.00 L351.84 229.50 L351.85 229.00 L351.85 228.50 L351.86 228.00 L351.86 227.50Z" fill="#da8234" stroke="url(#g111)" stroke-width="0.95" stroke-linejoin="round"/>
<line x1="351.86" y1="254.00" x2="351.86" y2="326.00" stroke="#333537" stroke-width="0.80"/>
<line x1="351.86" y1="280.50" x2="351.86" y2="305.00" stroke="#333537" stroke-width="2.20"/>
<circle cx="351.86" cy="293.20" r="0.50" fill="#fff"/>
<linearGradient id="g112" gradientUnits="userSpaceOnUse" x1="0" y1="263.75" x2="0" y2="322.50"><stop offset="0.0000" stop-color="#333537" stop-opacity="0.55"/><stop offset="0.0553" stop-color="#333537" stop-opacity="1.00"/><stop offset="0.9574" stop-color="#333537" stop-opacity="1.00"/><stop offset="1.0000" stop-color="#333537" stop-opacity="0.55"/></linearGradient>
<path d="M419.63 263.75 L419.69 264.25 L419.74 264.75 L419.80 265.25 L419.86 265.75 L419.93 266.25 L420.00 266.75 L420.07 267.25 L420.14 267.75 L420.22 268.25 L420.30 268.75 L420.39 269.25 L420.48 269.75 L420.58 270.25 L420.70 270.75 L420.82 271.25 L420.94 271.75 L421.07 272.25 L421.20 272.75 L421.31 273.25 L421.44 273.75 L421.58 274.25 L421.75 274.75 L421.99 275.25 L422.28 275.75 L422.61 276.25 L422.96 276.75 L423.31 277.25 L423.68 277.75 L424.08 278.25 L424.49 278.75 L424.91 279.25 L425.34 279.75 L425.79 280.25 L426.24 280.75 L426.67 281.25 L427.09 281.75 L427.49 282.25 L427.86 282.75 L428.19 283.25 L428.49 283.75 L428.76 284.25 L429.01 284.75 L429.22 285.25 L429.40 285.75 L429.60 286.25 L429.90 286.75 L430.36 287.25 L430.92 287.75 L431.49 288.25 L432.07 288.75 L432.69 289.25 L433.37 289.75 L434.12 290.25 L434.96 290.75 L435.88 291.25 L436.84 291.75 L437.85 292.25 L438.92 292.75 L440.01 293.25 L441.04 293.75 L442.05 294.25 L443.01 294.75 L443.84 295.25 L444.61 295.75 L445.27 296.25 L445.77 296.75 L446.20 297.25 L446.53 297.75 L446.72 298.25 L446.86 298.75 L446.93 299.25 L446.85 299.75 L446.60 300.25 L446.27 300.75 L445.77 301.25 L445.03 301.75 L444.18 302.25 L443.34 302.75 L442.42 303.25 L441.44 303.75 L440.40 304.25 L439.29 304.75 L438.17 305.25 L437.06 305.75 L435.94 306.25 L434.83 306.75 L433.72 307.25 L432.60 307.75 L431.49 308.25 L430.43 308.75 L429.48 309.25 L428.60 309.75 L427.76 310.25 L426.90 310.75 L426.00 311.25 L425.18 311.75 L424.53 312.25 L424.01 312.75 L423.55 313.25 L423.13 313.75 L422.74 314.25 L422.39 314.75 L422.09 315.25 L421.82 315.75 L421.57 316.25 L421.34 316.75 L421.13 317.25 L420.94 317.75 L420.76 318.25 L420.60 318.75 L420.45 319.25 L420.30 319.75 L420.17 320.25 L420.03 320.75 L419.91 321.25 L419.79 321.75 L419.68 322.25 L419.63 322.50 L419.63 322.50 L419.58 322.25 L419.47 321.75 L419.36 321.25 L419.23 320.75 L419.10 320.25 L418.96 319.75 L418.82 319.25 L418.67 318.75 L418.50 318.25 L418.33 317.75 L418.14 317.25 L417.93 316.75 L417.70 316.25 L417.45 315.75 L417.18 315.25 L416.88 314.75 L416.53 314.25 L416.14 313.75 L415.72 313.25 L415.26 312.75 L414.73 312.25 L414.09 311.75 L413.27 311.25 L412.37 310.75 L411.51 310.25 L410.67 309.75 L409.79 309.25 L408.84 308.75 L407.78 308.25 L406.66 307.75 L405.54 307.25 L404.44 306.75 L403.32 306.25 L402.21 305.75 L401.10 305.25 L399.97 304.75 L398.87 304.25 L397.83 303.75 L396.85 303.25 L395.93 302.75 L395.09 302.25 L394.24 301.75 L393.49 301.25 L393.00 300.75 L392.67 300.25 L392.42 299.75 L392.33 299.25 L392.40 298.75 L392.55 298.25 L392.74 297.75 L393.07 297.25 L393.50 296.75 L394.00 296.25 L394.66 295.75 L395.43 295.25 L396.26 294.75 L397.22 294.25 L398.23 293.75 L399.26 293.25 L400.34 292.75 L401.42 292.25 L402.43 291.75 L403.39 291.25 L404.30 290.75 L405.15 290.25 L405.90 289.75 L406.57 289.25 L407.20 288.75 L407.78 288.25 L408.35 287.75 L408.90 287.25 L409.36 286.75 L409.67 286.25 L409.87 285.75 L410.05 285.25 L410.26 284.75 L410.51 284.25 L410.78 283.75 L411.07 283.25 L411.40 282.75 L411.77 282.25 L412.18 281.75 L412.59 281.25 L413.02 280.75 L413.48 280.25 L413.93 279.75 L414.36 279.25 L414.78 278.75 L415.19 278.25 L415.58 277.75 L415.96 277.25 L416.31 276.75 L416.66 276.25 L416.99 275.75 L417.28 275.25 L417.51 274.75 L417.69 274.25 L417.83 273.75 L417.95 273.25 L418.07 272.75 L418.20 272.25 L418.33 271.75 L418.45 271.25 L418.57 270.75 L418.68 270.25 L418.78 269.75 L418.87 269.25 L418.96 268.75 L419.05 268.25 L419.12 267.75 L419.20 267.25 L419.27 266.75 L419.34 266.25 L419.40 265.75 L419.47 265.25 L419.53 264.75 L419.58 264.25 L419.63 263.75Z" fill="#4b9d3e" stroke="url(#g112)" stroke-width="0.95" stroke-linejoin="round"/>
<line x1="419.63" y1="270.00" x2="419.63" y2="319.00" stroke="#333537" stroke-width="0.80"/>
<line x1="419.63" y1="290.00" x2="419.63" y2="303.75" stroke="#333537" stroke-width="2.20"/>
<circle cx="419.63" cy="298.00" r="0.50" fill="#fff"/>
<line x1="250.20" y1="189.22" x2="453.52" y2="189.22" stroke="#111" stroke-width="0.85" stroke-opacity="0.45" stroke-linecap="square"/>
<line x1="250.20" y1="347.08" x2="453.52" y2="347.08" stroke="#111" stroke-width="0.85" stroke-opacity="0.47" stroke-linecap="square"/>
<line x1="250.20" y1="189.22" x2="250.20" y2="347.08" stroke="#111" stroke-width="0.62" stroke-opacity="0.80" stroke-linecap="square"/>
<line x1="453.52" y1="189.22" x2="453.52" y2="347.08" stroke="#111" stroke-width="0.52" stroke-opacity="1.00" stroke-linecap="square"/>
<line x1="248.35" y1="328.10" x2="250.20" y2="328.10" stroke="#111" stroke-width="0.75"/>
<text x="246.35" y="330.53" text-anchor="end">0.0</text>
<line x1="248.35" y1="308.71" x2="250.20" y2="308.71" stroke="#111" stroke-width="0.75"/>
<text x="246.35" y="311.15" text-anchor="end">0.2</text>
<line x1="248.35" y1="289.33" x2="250.20" y2="289.33" stroke="#111" stroke-width="0.75"/>
<text x="246.35" y="291.76" text-anchor="end">0.4</text>
<line x1="248.35" y1="269.94" x2="250.20" y2="269.94" stroke="#111" stroke-width="0.75"/>
<text x="246.35" y="272.38" text-anchor="end">0.6</text>
<line x1="248.35" y1="250.56" x2="250.20" y2="250.56" stroke="#111" stroke-width="0.75"/>
<text x="246.35" y="252.99" text-anchor="end">0.8</text>
<line x1="248.35" y1="231.17" x2="250.20" y2="231.17" stroke="#111" stroke-width="0.75"/>
<text x="246.35" y="233.61" text-anchor="end">1.0</text>
<line x1="248.35" y1="211.79" x2="250.20" y2="211.79" stroke="#111" stroke-width="0.75"/>
<text x="246.35" y="214.22" text-anchor="end">1.2</text>
<line x1="248.35" y1="192.40" x2="250.20" y2="192.40" stroke="#111" stroke-width="0.75"/>
<text x="246.35" y="194.83" text-anchor="end">1.4</text>
<line x1="284.09" y1="347.08" x2="284.09" y2="348.93" stroke="#111" stroke-width="0.75"/>
<text x="284.09" y="354.83" text-anchor="middle">HAND</text>
<line x1="351.86" y1="347.08" x2="351.86" y2="348.93" stroke="#111" stroke-width="0.75"/>
<text x="351.86" y="354.83" text-anchor="middle">SWMM-HEC-RAS-2D</text>
<line x1="419.63" y1="347.08" x2="419.63" y2="348.93" stroke="#111" stroke-width="0.75"/>
<text x="419.63" y="354.83" text-anchor="middle">Synxflow</text>
<text x="351.86" y="185.92" text-anchor="middle" font-size="6.35">Bias</text>
<text transform="translate(235.30 268.65) rotate(-90)" text-anchor="middle">Bias</text>
</g>
<g>
<linearGradient id="g120" gradientUnits="userSpaceOnUse" x1="0" y1="196.25" x2="0" y2="340.00"><stop offset="0.0000" stop-color="#333537" stop-opacity="0.35"/><stop offset="0.0609" stop-color="#333537" stop-opacity="1.00"/><stop offset="0.9478" stop-color="#333537" stop-opacity="1.00"/><stop offset="1.0000" stop-color="#333537" stop-opacity="0.55"/></linearGradient>
<path d="M515.25 196.25 L515.26 196.75 L515.28 197.25 L515.30 197.75 L515.32 198.25 L515.34 198.75 L515.36 199.25 L515.39 199.75 L515.41 200.25 L515.43 200.75 L515.46 201.25 L515.48 201.75 L515.51 202.25 L515.53 202.75 L515.56 203.25 L515.59 203.75 L515.63 204.25 L515.67 204.75 L515.73 205.25 L515.81 205.75 L515.91 206.25 L516.04 206.75 L516.18 207.25 L516.34 207.75 L516.50 208.25 L516.66 208.75 L516.83 209.25 L517.02 209.75 L517.23 210.25 L517.45 210.75 L517.67 211.25 L517.91 211.75 L518.13 212.25 L518.36 212.75 L518.58 213.25 L518.80 213.75 L519.03 214.25 L519.26 214.75 L519.49 215.25 L519.73 215.75 L519.97 216.25 L520.22 216.75 L520.48 217.25 L520.75 217.75 L521.01 218.25 L521.27 218.75 L521.51 219.25 L521.74 219.75 L521.95 220.25 L522.14 220.75 L522.33 221.25 L522.50 221.75 L522.67 222.25 L522.84 222.75 L523.00 223.25 L523.16 223.75 L523.33 224.25 L523.50 224.75 L523.66 225.25 L523.83 225.75 L523.98 226.25 L524.14 226.75 L524.28 227.25 L524.41 227.75 L524.54 228.25 L524.67 228.75 L524.79 229.25 L524.91 229.75 L525.01 230.25 L525.10 230.75 L525.19 231.25 L525.26 231.75 L525.33 232.25 L525.39 232.75 L525.45 233.25 L525.51 233.75 L525.56 234.25 L525.62 234.75 L525.67 235.25 L525.73 235.75 L525.79 236.25 L525.85 236.75 L525.90 237.25 L525.96 237.75 L526.01 238.25 L526.05 238.75 L526.10 239.25 L526.13 239.75 L526.16 240.25 L526.19 240.75 L526.22 241.25 L526.25 241.75 L526.27 242.25 L526.29 242.75 L526.31 243.25 L526.33 243.75 L526.34 244.25 L526.35 244.75 L526.35 245.25 L526.35 245.75 L526.35 246.25 L526.35 246.75 L526.35 247.25 L526.35 247.75 L526.35 248.25 L526.35 248.75 L526.35 249.25 L526.35 249.75 L526.35 250.25 L526.34 250.75 L526.32 251.25 L526.30 251.75 L526.27 252.25 L526.24 252.75 L526.20 253.25 L526.16 253.75 L526.11 254.25 L526.07 254.75 L526.02 255.25 L525.96 255.75 L525.87 256.25 L525.78 256.75 L525.67 257.25 L525.56 257.75 L525.44 258.25 L525.32 258.75 L525.21 259.25 L525.10 259.75 L525.00 260.25 L524.90 260.75 L524.81 261.25 L524.72 261.75 L524.63 262.25 L524.54 262.75 L524.45 263.25 L524.34 263.75 L524.23 264.25 L524.11 264.75 L523.97 265.25 L523.80 265.75 L523.60 266.25 L523.40 266.75 L523.22 267.25 L523.08 267.75 L522.97 268.25 L522.86 268.75 L522.77 269.25 L522.68 269.75 L522.60 270.25 L522.51 270.75 L522.42 271.25 L522.32 271.75 L522.21 272.25 L522.08 272.75 L521.92 273.25 L521.75 273.75 L521.57 274.25 L521.42 274.75 L521.28 275.25 L521.16 275.75 L521.05 276.25 L520.94 276.75 L520.84 277.25 L520.74 277.75 L520.64 278.25 L520.55 278.75 L520.45 279.25 L520.36 279.75 L520.27 280.25 L520.18 280.75 L520.09 281.25 L519.99 281.75 L519.90 282.25 L519.80 282.75 L519.69 283.25 L519.58 283.75 L519.48 284.25 L519.37 284.75 L519.27 285.25 L519.17 285.75 L519.07 286.25 L518.99 286.75 L518.91 287.25 L518.83 287.75 L518.75 288.25 L518.68 288.75 L518.61 289.25 L518.57 289.75 L518.53 290.25 L518.50 290.75 L518.47 291.25 L518.44 291.75 L518.41 292.25 L518.38 292.75 L518.36 293.25 L518.34 293.75 L518.32 294.25 L518.31 294.75 L518.30 295.25 L518.30 295.75 L518.30 296.25 L518.32 296.75 L518.36 297.25 L518.42 297.75 L518.49 298.25 L518.56 298.75 L518.64 299.25 L518.71 299.75 L518.78 300.25 L518.87 300.75 L518.97 301.25 L519.08 301.75 L519.18 302.25 L519.28 302.75 L519.36 303.25 L519.43 303.75 L519.49 304.25 L519.55 304.75 L519.60 305.25 L519.65 305.75 L519.70 306.25 L519.73 306.75 L519.76 307.25 L519.79 307.75 L519.81 308.25 L519.84 308.75 L519.86 309.25 L519.88 309.75 L519.89 310.25 L519.90 310.75 L519.89 311.25 L519.87 311.75 L519.81 312.25 L519.75 312.75 L519.67 313.25 L519.58 313.75 L519.49 314.25 L519.40 314.75 L519.29 315.25 L519.17 315.75 L519.03 316.25 L518.89 316.75 L518.74 317.25 L518.60 317.75 L518.46 318.25 L518.33 318.75 L518.21 319.25 L518.08 319.75 L517.96 320.25 L517.84 320.75 L517.72 321.25 L517.60 321.75 L517.49 322.25 L517.38 322.75 L517.27 323.25 L517.16 323.75 L517.05 324.25 L516.94 324.75 L516.84 325.25 L516.74 325.75 L516.65 326.25 L516.56 326.75 L516.47 327.25 L516.39 327.75 L516.31 328.25 L516.23 328.75 L516.16 329.25 L516.09 329.75 L516.01 330.25 L515.94 330.75 L515.88 331.25 L515.82 331.75 L515.77 332.25 L515.73 332.75 L515.69 333.25 L515.67 333.75 L515.64 334.25 L515.62 334.75 L515.59 335.25 L515.56 335.75 L515.53 336.25 L515.50 336.75 L515.46 337.25 L515.43 337.75 L515.39 338.25 L515.35 338.75 L515.31 339.25 L515.27 339.75 L515.25 340.00 L515.25 340.00 L515.23 339.75 L515.18 339.25 L515.14 338.75 L515.11 338.25 L515.07 337.75 L515.03 337.25 L515.00 336.75 L514.96 336.25 L514.93 335.75 L514.90 335.25 L514.88 334.75 L514.85 334.25 L514.83 333.75 L514.80 333.25 L514.77 332.75 L514.73 332.25 L514.68 331.75 L514.62 331.25 L514.55 330.75 L514.48 330.25 L514.41 329.75 L514.33 329.25 L514.26 328.75 L514.18 328.25 L514.10 327.75 L514.02 327.25 L513.93 326.75 L513.84 326.25 L513.75 325.75 L513.65 325.25 L513.55 324.75 L513.45 324.25 L513.34 323.75 L513.23 323.25 L513.12 322.75 L513.00 322.25 L512.89 321.75 L512.77 321.25 L512.65 320.75 L512.53 320.25 L512.41 319.75 L512.29 319.25 L512.16 318.75 L512.03 318.25 L511.89 317.75 L511.75 317.25 L511.60 316.75 L511.46 316.25 L511.32 315.75 L511.20 315.25 L511.09 314.75 L511.00 314.25 L510.91 313.75 L510.83 313.25 L510.75 312.75 L510.68 312.25 L510.63 311.75 L510.60 311.25 L510.60 310.75 L510.60 310.25 L510.62 309.75 L510.63 309.25 L510.66 308.75 L510.68 308.25 L510.71 307.75 L510.73 307.25 L510.76 306.75 L510.80 306.25 L510.84 305.75 L510.89 305.25 L510.94 304.75 L511.00 304.25 L511.06 303.75 L511.13 303.25 L511.22 302.75 L511.31 302.25 L511.42 301.75 L511.52 301.25 L511.62 300.75 L511.71 300.25 L511.78 299.75 L511.86 299.25 L511.93 298.75 L512.01 298.25 L512.07 297.75 L512.13 297.25 L512.17 296.75 L512.19 296.25 L512.20 295.75 L512.19 295.25 L512.18 294.75 L512.17 294.25 L512.15 293.75 L512.13 293.25 L512.11 292.75 L512.08 292.25 L512.06 291.75 L512.03 291.25 L512.00 290.75 L511.96 290.25 L511.93 289.75 L511.88 289.25 L511.82 288.75 L511.75 288.25 L511.67 287.75 L511.59 287.25 L511.50 286.75 L511.42 286.25 L511.33 285.75 L511.23 285.25 L511.12 284.75 L511.02 284.25 L510.91 283.75 L510.80 283.25 L510.70 282.75 L510.60 282.25 L510.50 281.75 L510.41 281.25 L510.31 280.75 L510.22 280.25 L510.13 279.75 L510.04 279.25 L509.95 278.75 L509.85 278.25 L509.76 277.75 L509.66 277.25 L509.55 276.75 L509.45 276.25 L509.33 275.75 L509.21 275.25 L509.08 274.75 L508.92 274.25 L508.75 273.75 L508.57 273.25 L508.41 272.75 L508.29 272.25 L508.17 271.75 L508.08 271.25 L507.98 270.75 L507.90 270.25 L507.81 269.75 L507.72 269.25 L507.63 268.75 L507.53 268.25 L507.41 267.75 L507.27 267.25 L507.10 266.75 L506.90 266.25 L506.70 265.75 L506.52 265.25 L506.38 264.75 L506.26 264.25 L506.15 263.75 L506.05 263.25 L505.95 262.75 L505.86 262.25 L505.77 261.75 L505.68 261.25 L505.59 260.75 L505.50 260.25 L505.40 259.75 L505.29 259.25 L505.17 258.75 L505.05 258.25 L504.94 257.75 L504.82 257.25 L504.72 256.75 L504.62 256.25 L504.54 255.75 L504.47 255.25 L504.42 254.75 L504.38 254.25 L504.33 253.75 L504.29 253.25 L504.26 252.75 L504.22 252.25 L504.19 251.75 L504.17 251.25 L504.16 250.75 L504.15 250.25 L504.15 249.75 L504.15 249.25 L504.15 248.75 L504.15 248.25 L504.15 247.75 L504.15 247.25 L504.15 246.75 L504.15 246.25 L504.15 245.75 L504.15 245.25 L504.15 244.75 L504.15 244.25 L504.16 243.75 L504.18 243.25 L504.20 242.75 L504.22 242.25 L504.25 241.75 L504.28 241.25 L504.30 240.75 L504.33 240.25 L504.36 239.75 L504.40 239.25 L504.44 238.75 L504.49 238.25 L504.54 237.75 L504.59 237.25 L504.65 236.75 L504.70 236.25 L504.76 235.75 L504.82 235.25 L504.87 234.75 L504.93 234.25 L504.98 233.75 L505.04 233.25 L505.10 232.75 L505.16 232.25 L505.23 231.75 L505.31 231.25 L505.39 230.75 L505.48 230.25 L505.59 229.75 L505.70 229.25 L505.82 228.75 L505.95 228.25 L506.08 227.75 L506.21 227.25 L506.36 226.75 L506.51 226.25 L506.67 225.75 L506.83 225.25 L507.00 224.75 L507.16 224.25 L507.33 223.75 L507.49 223.25 L507.66 222.75 L507.82 222.25 L507.99 221.75 L508.17 221.25 L508.35 220.75 L508.55 220.25 L508.75 219.75 L508.98 219.25 L509.23 218.75 L509.48 218.25 L509.75 217.75 L510.01 217.25 L510.27 216.75 L510.53 216.25 L510.77 215.75 L511.00 215.25 L511.23 214.75 L511.46 214.25 L511.69 213.75 L511.91 213.25 L512.14 212.75 L512.36 212.25 L512.59 211.75 L512.82 211.25 L513.05 210.75 L513.27 210.25 L513.47 209.75 L513.66 209.25 L513.83 208.75 L513.99 208.25 L514.16 207.75 L514.31 207.25 L514.45 206.75 L514.58 206.25 L514.69 205.75 L514.77 205.25 L514.82 204.75 L514.86 204.25 L514.90 203.75 L514.93 203.25 L514.96 202.75 L514.99 202.25 L515.01 201.75 L515.03 201.25 L515.06 200.75 L515.08 200.25 L515.11 199.75 L515.13 199.25 L515.15 198.75 L515.17 198.25 L515.19 197.75 L515.21 197.25 L515.23 196.75 L515.25 196.25Z" fill="#467da5" stroke="url(#g120)" stroke-width="0.95" stroke-linejoin="round"/>
<line x1="515.25" y1="205.00" x2="515.25" y2="334.00" stroke="#333537" stroke-width="0.80"/>
<line x1="515.25" y1="236.75" x2="515.25" y2="282.50" stroke="#333537" stroke-width="2.20"/>
<circle cx="515.25" cy="256.25" r="0.50" fill="#fff"/>
<linearGradient id="g121" gradientUnits="userSpaceOnUse" x1="0" y1="203.00" x2="0" y2="330.50"><stop offset="0.0000" stop-color="#333537" stop-opacity="0.35"/><stop offset="0.0549" stop-color="#333537" stop-opacity="1.00"/><stop offset="0.7686" stop-color="#333537" stop-opacity="1.00"/><stop offset="1.0000" stop-color="#333537" stop-opacity="0.40"/></linearGradient>
<path d="M583.02 203.00 L583.04 203.50 L583.06 204.00 L583.09 204.50 L583.11 205.00 L583.14 205.50 L583.16 206.00 L583.19 206.50 L583.22 207.00 L583.25 207.50 L583.27 208.00 L583.30 208.50 L583.33 209.00 L583.37 209.50 L583.42 210.00 L583.51 210.50 L583.65 211.00 L583.83 211.50 L584.02 212.00 L584.22 212.50 L584.42 213.00 L584.65 213.50 L584.89 214.00 L585.15 214.50 L585.42 215.00 L585.71 215.50 L586.01 216.00 L586.34 216.50 L586.68 217.00 L587.02 217.50 L587.38 218.00 L587.76 218.50 L588.15 219.00 L588.54 219.50 L588.92 220.00 L589.30 220.50 L589.69 221.00 L590.08 221.50 L590.47 222.00 L590.86 222.50 L591.25 223.00 L591.62 223.50 L591.97 224.00 L592.31 224.50 L592.62 225.00 L592.91 225.50 L593.19 226.00 L593.46 226.50 L593.71 227.00 L593.96 227.50 L594.19 228.00 L594.42 228.50 L594.64 229.00 L594.85 229.50 L595.06 230.00 L595.26 230.50 L595.46 231.00 L595.65 231.50 L595.83 232.00 L596.02 232.50 L596.21 233.00 L596.39 233.50 L596.57 234.00 L596.75 234.50 L596.92 235.00 L597.08 235.50 L597.22 236.00 L597.35 236.50 L597.48 237.00 L597.60 237.50 L597.72 238.00 L597.83 238.50 L597.93 239.00 L598.03 239.50 L598.12 240.00 L598.21 240.50 L598.30 241.00 L598.39 241.50 L598.47 242.00 L598.55 242.50 L598.61 243.00 L598.67 243.50 L598.72 244.00 L598.76 244.50 L598.80 245.00 L598.84 245.50 L598.87 246.00 L598.90 246.50 L598.91 247.00 L598.92 247.50 L598.91 248.00 L598.90 248.50 L598.87 249.00 L598.84 249.50 L598.80 250.00 L598.76 250.50 L598.72 251.00 L598.67 251.50 L598.62 252.00 L598.55 252.50 L598.47 253.00 L598.39 253.50 L598.31 254.00 L598.21 254.50 L598.12 255.00 L598.02 255.50 L597.90 256.00 L597.78 256.50 L597.65 257.00 L597.51 257.50 L597.37 258.00 L597.22 258.50 L597.07 259.00 L596.91 259.50 L596.74 260.00 L596.57 260.50 L596.39 261.00 L596.20 261.50 L596.01 262.00 L595.82 262.50 L595.62 263.00 L595.41 263.50 L595.19 264.00 L594.97 264.50 L594.75 265.00 L594.53 265.50 L594.32 266.00 L594.12 266.50 L593.92 267.00 L593.73 267.50 L593.54 268.00 L593.34 268.50 L593.15 269.00 L592.94 269.50 L592.72 270.00 L592.48 270.50 L592.23 271.00 L591.96 271.50 L591.69 272.00 L591.41 272.50 L591.13 273.00 L590.86 273.50 L590.59 274.00 L590.35 274.50 L590.12 275.00 L589.91 275.50 L589.71 276.00 L589.52 276.50 L589.34 277.00 L589.16 277.50 L588.99 278.00 L588.82 278.50 L588.66 279.00 L588.50 279.50 L588.35 280.00 L588.21 280.50 L588.06 281.00 L587.92 281.50 L587.77 282.00 L587.62 282.50 L587.47 283.00 L587.31 283.50 L587.15 284.00 L586.99 284.50 L586.83 285.00 L586.67 285.50 L586.52 286.00 L586.36 286.50 L586.20 287.00 L586.04 287.50 L585.89 288.00 L585.73 288.50 L585.58 289.00 L585.45 289.50 L585.32 290.00 L585.20 290.50 L585.09 291.00 L584.99 291.50 L584.89 292.00 L584.80 292.50 L584.70 293.00 L584.61 293.50 L584.52 294.00 L584.43 294.50 L584.34 295.00 L584.24 295.50 L584.16 296.00 L584.07 296.50 L583.99 297.00 L583.92 297.50 L583.85 298.00 L583.79 298.50 L583.72 299.00 L583.66 299.50 L583.61 300.00 L583.56 300.50 L583.52 301.00 L583.49 301.50 L583.45 302.00 L583.42 302.50 L583.39 303.00 L583.37 303.50 L583.35 304.00 L583.33 304.50 L583.32 305.00 L583.31 305.50 L583.30 306.00 L583.30 306.50 L583.29 307.00 L583.28 307.50 L583.28 308.00 L583.27 308.50 L583.27 309.00 L583.26 309.50 L583.26 310.00 L583.26 310.50 L583.25 311.00 L583.25 311.50 L583.25 312.00 L583.24 312.50 L583.24 313.00 L583.23 313.50 L583.23 314.00 L583.23 314.50 L583.22 315.00 L583.21 315.50 L583.21 316.00 L583.20 316.50 L583.20 317.00 L583.19 317.50 L583.19 318.00 L583.18 318.50 L583.17 319.00 L583.17 319.50 L583.16 320.00 L583.16 320.50 L583.15 321.00 L583.14 321.50 L583.14 322.00 L583.13 322.50 L583.12 323.00 L583.12 323.50 L583.11 324.00 L583.10 324.50 L583.10 325.00 L583.09 325.50 L583.08 326.00 L583.08 326.50 L583.07 327.00 L583.06 327.50 L583.06 328.00 L583.05 328.50 L583.04 329.00 L583.03 329.50 L583.03 330.00 L583.02 330.50 L583.02 330.50 L583.01 330.00 L583.01 329.50 L583.00 329.00 L582.99 328.50 L582.98 328.00 L582.98 327.50 L582.97 327.00 L582.96 326.50 L582.96 326.00 L582.95 325.50 L582.94 325.00 L582.94 324.50 L582.93 324.00 L582.92 323.50 L582.92 323.00 L582.91 322.50 L582.90 322.00 L582.90 321.50 L582.89 321.00 L582.88 320.50 L582.88 320.00 L582.87 319.50 L582.87 319.00 L582.86 318.50 L582.85 318.00 L582.85 317.50 L582.84 317.00 L582.84 316.50 L582.83 316.00 L582.83 315.50 L582.82 315.00 L582.81 314.50 L582.81 314.00 L582.81 313.50 L582.80 313.00 L582.80 312.50 L582.79 312.00 L582.79 311.50 L582.79 311.00 L582.78 310.50 L582.78 310.00 L582.78 309.50 L582.77 309.00 L582.77 308.50 L582.76 308.00 L582.76 307.50 L582.75 307.00 L582.74 306.50 L582.74 306.00 L582.73 305.50 L582.72 305.00 L582.71 304.50 L582.69 304.00 L582.67 303.50 L582.65 303.00 L582.62 302.50 L582.59 302.00 L582.55 301.50 L582.52 301.00 L582.48 300.50 L582.43 300.00 L582.38 299.50 L582.32 299.00 L582.25 298.50 L582.19 298.00 L582.12 297.50 L582.05 297.00 L581.97 296.50 L581.88 296.00 L581.80 295.50 L581.70 295.00 L581.61 294.50 L581.52 294.00 L581.43 293.50 L581.34 293.00 L581.24 292.50 L581.15 292.00 L581.05 291.50 L580.95 291.00 L580.84 290.50 L580.72 290.00 L580.59 289.50 L580.46 289.00 L580.31 288.50 L580.15 288.00 L580.00 287.50 L579.84 287.00 L579.68 286.50 L579.52 286.00 L579.37 285.50 L579.21 285.00 L579.05 284.50 L578.89 284.00 L578.73 283.50 L578.57 283.00 L578.42 282.50 L578.27 282.00 L578.12 281.50 L577.98 281.00 L577.83 280.50 L577.69 280.00 L577.54 279.50 L577.38 279.00 L577.22 278.50 L577.05 278.00 L576.88 277.50 L576.70 277.00 L576.52 276.50 L576.33 276.00 L576.13 275.50 L575.92 275.00 L575.69 274.50 L575.45 274.00 L575.18 273.50 L574.91 273.00 L574.63 272.50 L574.35 272.00 L574.08 271.50 L573.81 271.00 L573.56 270.50 L573.32 270.00 L573.10 269.50 L572.89 269.00 L572.70 268.50 L572.50 268.00 L572.31 267.50 L572.12 267.00 L571.92 266.50 L571.72 266.00 L571.51 265.50 L571.29 265.00 L571.07 264.50 L570.85 264.00 L570.63 263.50 L570.42 263.00 L570.22 262.50 L570.03 262.00 L569.84 261.50 L569.65 261.00 L569.47 260.50 L569.30 260.00 L569.13 259.50 L568.97 259.00 L568.82 258.50 L568.67 258.00 L568.53 257.50 L568.39 257.00 L568.26 256.50 L568.14 256.00 L568.02 255.50 L567.92 255.00 L567.83 254.50 L567.73 254.00 L567.65 253.50 L567.57 253.00 L567.49 252.50 L567.42 252.00 L567.37 251.50 L567.32 251.00 L567.28 250.50 L567.24 250.00 L567.20 249.50 L567.17 249.00 L567.14 248.50 L567.13 248.00 L567.12 247.50 L567.13 247.00 L567.14 246.50 L567.17 246.00 L567.20 245.50 L567.24 245.00 L567.28 244.50 L567.32 244.00 L567.37 243.50 L567.43 243.00 L567.49 242.50 L567.57 242.00 L567.65 241.50 L567.74 241.00 L567.83 240.50 L567.92 240.00 L568.01 239.50 L568.11 239.00 L568.21 238.50 L568.32 238.00 L568.44 237.50 L568.56 237.00 L568.69 236.50 L568.82 236.00 L568.96 235.50 L569.12 235.00 L569.29 234.50 L569.47 234.00 L569.65 233.50 L569.83 233.00 L570.02 232.50 L570.21 232.00 L570.39 231.50 L570.58 231.00 L570.78 230.50 L570.98 230.00 L571.19 229.50 L571.40 229.00 L571.62 228.50 L571.85 228.00 L572.08 227.50 L572.33 227.00 L572.58 226.50 L572.85 226.00 L573.13 225.50 L573.42 225.00 L573.73 224.50 L574.07 224.00 L574.42 223.50 L574.79 223.00 L575.18 222.50 L575.57 222.00 L575.96 221.50 L576.35 221.00 L576.74 220.50 L577.12 220.00 L577.50 219.50 L577.89 219.00 L578.28 218.50 L578.66 218.00 L579.02 217.50 L579.36 217.00 L579.70 216.50 L580.03 216.00 L580.33 215.50 L580.62 215.00 L580.89 214.50 L581.15 214.00 L581.39 213.50 L581.62 213.00 L581.82 212.50 L582.02 212.00 L582.21 211.50 L582.39 211.00 L582.53 210.50 L582.62 210.00 L582.67 209.50 L582.71 209.00 L582.74 208.50 L582.77 208.00 L582.79 207.50 L582.82 207.00 L582.85 206.50 L582.88 206.00 L582.90 205.50 L582.93 205.00 L582.95 204.50 L582.98 204.00 L583.00 203.50 L583.02 203.00Z" fill="#da8234" stroke="url(#g121)" stroke-width="0.95" stroke-linejoin="round"/>
<line x1="583.02" y1="208.00" x2="583.02" y2="305.00" stroke="#333537" stroke-width="0.80"/>
<line x1="583.02" y1="236.75" x2="583.02" y2="265.50" stroke="#333537" stroke-width="2.20"/>
<circle cx="583.02" cy="250.50" r="0.50" fill="#fff"/>
<linearGradient id="g122" gradientUnits="userSpaceOnUse" x1="0" y1="203.00" x2="0" y2="292.00"><stop offset="0.0000" stop-color="#333537" stop-opacity="0.55"/><stop offset="0.0337" stop-color="#333537" stop-opacity="1.00"/><stop offset="0.7809" stop-color="#333537" stop-opacity="1.00"/><stop offset="1.0000" stop-color="#333537" stop-opacity="0.55"/></linearGradient>
<path d="M650.79 203.00 L650.83 203.50 L650.88 204.00 L650.95 204.50 L651.02 205.00 L651.11 205.50 L651.19 206.00 L651.29 206.50 L651.41 207.00 L651.54 207.50 L651.69 208.00 L651.87 208.50 L652.08 209.00 L652.33 209.50 L652.59 210.00 L652.84 210.50 L653.09 211.00 L653.39 211.50 L653.76 212.00 L654.27 212.50 L654.88 213.00 L655.49 213.50 L656.11 214.00 L656.74 214.50 L657.40 215.00 L658.06 215.50 L658.73 216.00 L659.42 216.50 L660.09 217.00 L660.74 217.50 L661.38 218.00 L662.03 218.50 L662.74 219.00 L663.53 219.50 L664.38 220.00 L665.23 220.50 L666.05 221.00 L666.88 221.50 L667.71 222.00 L668.57 222.50 L669.47 223.00 L670.39 223.50 L671.29 224.00 L672.22 224.50 L672.96 225.00 L673.53 225.50 L673.99 226.00 L674.36 226.50 L674.67 227.00 L674.95 227.50 L675.22 228.00 L675.51 228.50 L675.82 229.00 L676.12 229.50 L676.39 230.00 L676.63 230.50 L676.86 231.00 L677.06 231.50 L677.22 232.00 L677.39 232.50 L677.55 233.00 L677.70 233.50 L677.81 234.00 L677.88 234.50 L677.88 235.00 L677.77 235.50 L677.59 236.00 L677.39 236.50 L677.20 237.00 L676.98 237.50 L676.73 238.00 L676.45 238.50 L676.12 239.00 L675.69 239.50 L675.16 240.00 L674.57 240.50 L673.97 241.00 L673.39 241.50 L672.84 242.00 L672.28 242.50 L671.72 243.00 L671.16 243.50 L670.59 244.00 L670.03 244.50 L669.47 245.00 L668.91 245.50 L668.35 246.00 L667.79 246.50 L667.23 247.00 L666.66 247.50 L666.10 248.00 L665.53 248.50 L664.97 249.00 L664.42 249.50 L663.88 250.00 L663.35 250.50 L662.82 251.00 L662.31 251.50 L661.80 252.00 L661.29 252.50 L660.79 253.00 L660.29 253.50 L659.79 254.00 L659.30 254.50 L658.82 255.00 L658.37 255.50 L657.94 256.00 L657.52 256.50 L657.12 257.00 L656.75 257.50 L656.39 258.00 L656.06 258.50 L655.75 259.00 L655.46 259.50 L655.19 260.00 L654.95 260.50 L654.71 261.00 L654.48 261.50 L654.27 262.00 L654.07 262.50 L653.88 263.00 L653.69 263.50 L653.52 264.00 L653.36 264.50 L653.21 265.00 L653.06 265.50 L652.92 266.00 L652.78 266.50 L652.64 267.00 L652.49 267.50 L652.35 268.00 L652.20 268.50 L652.05 269.00 L651.92 269.50 L651.79 270.00 L651.67 270.50 L651.56 271.00 L651.45 271.50 L651.36 272.00 L651.29 272.50 L651.25 273.00 L651.21 273.50 L651.18 274.00 L651.15 274.50 L651.13 275.00 L651.11 275.50 L651.09 276.00 L651.08 276.50 L651.06 277.00 L651.05 277.50 L651.03 278.00 L651.02 278.50 L651.00 279.00 L650.99 279.50 L650.98 280.00 L650.96 280.50 L650.95 281.00 L650.94 281.50 L650.92 282.00 L650.91 282.50 L650.90 283.00 L650.89 283.50 L650.88 284.00 L650.87 284.50 L650.86 285.00 L650.85 285.50 L650.84 286.00 L650.84 286.50 L650.83 287.00 L650.82 287.50 L650.82 288.00 L650.81 288.50 L650.81 289.00 L650.80 289.50 L650.80 290.00 L650.80 290.50 L650.79 291.00 L650.79 291.50 L650.79 292.00 L650.79 292.00 L650.79 291.50 L650.79 291.00 L650.79 290.50 L650.79 290.00 L650.78 289.50 L650.78 289.00 L650.78 288.50 L650.77 288.00 L650.76 287.50 L650.76 287.00 L650.75 286.50 L650.74 286.00 L650.73 285.50 L650.73 285.00 L650.72 284.50 L650.71 284.00 L650.70 283.50 L650.69 283.00 L650.67 282.50 L650.66 282.00 L650.65 281.50 L650.64 281.00 L650.62 280.50 L650.61 280.00 L650.60 279.50 L650.58 279.00 L650.57 278.50 L650.55 278.00 L650.54 277.50 L650.52 277.00 L650.51 276.50 L650.49 276.00 L650.48 275.50 L650.46 275.00 L650.43 274.50 L650.41 274.00 L650.37 273.50 L650.34 273.00 L650.29 272.50 L650.23 272.00 L650.14 271.50 L650.03 271.00 L649.91 270.50 L649.79 270.00 L649.67 269.50 L649.53 269.00 L649.39 268.50 L649.24 268.00 L649.09 267.50 L648.95 267.00 L648.81 266.50 L648.67 266.00 L648.53 265.50 L648.38 265.00 L648.23 264.50 L648.06 264.00 L647.89 263.50 L647.71 263.00 L647.52 262.50 L647.32 262.00 L647.10 261.50 L646.88 261.00 L646.64 260.50 L646.39 260.00 L646.13 259.50 L645.84 259.00 L645.52 258.50 L645.19 258.00 L644.84 257.50 L644.46 257.00 L644.07 256.50 L643.65 256.00 L643.22 255.50 L642.77 255.00 L642.29 254.50 L641.80 254.00 L641.30 253.50 L640.80 253.00 L640.29 252.50 L639.79 252.00 L639.28 251.50 L638.76 251.00 L638.24 250.50 L637.71 250.00 L637.17 249.50 L636.62 249.00 L636.06 248.50 L635.49 248.00 L634.92 247.50 L634.36 247.00 L633.79 246.50 L633.23 246.00 L632.67 245.50 L632.11 245.00 L631.55 244.50 L630.99 244.00 L630.43 243.50 L629.87 243.00 L629.31 242.50 L628.75 242.00 L628.19 241.50 L627.62 241.00 L627.01 240.50 L626.43 240.00 L625.90 239.50 L625.46 239.00 L625.14 238.50 L624.85 238.00 L624.60 237.50 L624.39 237.00 L624.19 236.50 L624.00 236.00 L623.82 235.50 L623.70 235.00 L623.71 234.50 L623.77 234.00 L623.89 233.50 L624.04 233.00 L624.20 232.50 L624.36 232.00 L624.53 231.50 L624.73 231.00 L624.95 230.50 L625.19 230.00 L625.46 229.50 L625.76 229.00 L626.07 228.50 L626.37 228.00 L626.64 227.50 L626.92 227.00 L627.23 226.50 L627.59 226.00 L628.05 225.50 L628.63 225.00 L629.37 224.50 L630.29 224.00 L631.20 223.50 L632.12 223.00 L633.02 222.50 L633.88 222.00 L634.71 221.50 L635.53 221.00 L636.36 220.50 L637.21 220.00 L638.05 219.50 L638.84 219.00 L639.56 218.50 L640.21 218.00 L640.84 217.50 L641.49 217.00 L642.17 216.50 L642.85 216.00 L643.53 215.50 L644.19 215.00 L644.84 214.50 L645.48 214.00 L646.09 213.50 L646.71 213.00 L647.31 212.50 L647.83 212.00 L648.20 211.50 L648.49 211.00 L648.75 210.50 L648.99 210.00 L649.25 209.50 L649.50 209.00 L649.72 208.50 L649.89 208.00 L650.04 207.50 L650.18 207.00 L650.29 206.50 L650.39 206.00 L650.48 205.50 L650.56 205.00 L650.64 204.50 L650.70 204.00 L650.75 203.50 L650.79 203.00Z" fill="#4b9d3e" stroke="url(#g122)" stroke-width="0.95" stroke-linejoin="round"/>
<line x1="650.79" y1="209.00" x2="650.79" y2="272.00" stroke="#333537" stroke-width="0.80"/>
<line x1="650.79" y1="226.25" x2="650.79" y2="244.50" stroke="#333537" stroke-width="2.20"/>
<circle cx="650.79" cy="235.00" r="0.50" fill="#fff"/>
<line x1="481.36" y1="189.22" x2="684.68" y2="189.22" stroke="#111" stroke-width="0.85" stroke-opacity="0.45" stroke-linecap="square"/>
<line x1="481.36" y1="347.08" x2="684.68" y2="347.08" stroke="#111" stroke-width="0.85" stroke-opacity="0.47" stroke-linecap="square"/>
<line x1="481.36" y1="189.22" x2="481.36" y2="347.08" stroke="#111" stroke-width="0.52" stroke-opacity="0.90" stroke-linecap="square"/>
<line x1="684.68" y1="189.22" x2="684.68" y2="347.08" stroke="#111" stroke-width="0.52" stroke-opacity="1.00" stroke-linecap="square"/>
<line x1="479.51" y1="326.00" x2="481.36" y2="326.00" stroke="#111" stroke-width="0.75"/>
<text x="477.51" y="328.43" text-anchor="end">0</text>
<line x1="479.51" y1="302.55" x2="481.36" y2="302.55" stroke="#111" stroke-width="0.75"/>
<text x="477.51" y="304.98" text-anchor="end">20</text>
<line x1="479.51" y1="279.10" x2="481.36" y2="279.10" stroke="#111" stroke-width="0.75"/>
<text x="477.51" y="281.53" text-anchor="end">40</text>
<line x1="479.51" y1="255.65" x2="481.36" y2="255.65" stroke="#111" stroke-width="0.75"/>
<text x="477.51" y="258.08" text-anchor="end">60</text>
<line x1="479.51" y1="232.20" x2="481.36" y2="232.20" stroke="#111" stroke-width="0.75"/>
<text x="477.51" y="234.63" text-anchor="end">80</text>
<line x1="479.51" y1="208.75" x2="481.36" y2="208.75" stroke="#111" stroke-width="0.75"/>
<text x="477.51" y="211.18" text-anchor="end">100</text>
<line x1="515.25" y1="347.08" x2="515.25" y2="348.93" stroke="#111" stroke-width="0.75"/>
<text x="515.25" y="354.83" text-anchor="middle">HAND</text>
<line x1="583.02" y1="347.08" x2="583.02" y2="348.93" stroke="#111" stroke-width="0.75"/>
<text x="583.02" y="354.83" text-anchor="middle">SWMM-HEC-RAS-2D</text>
<line x1="650.79" y1="347.08" x2="650.79" y2="348.93" stroke="#111" stroke-width="0.75"/>
<text x="650.79" y="354.83" text-anchor="middle">Synxflow</text>
<text x="583.02" y="185.92" text-anchor="middle" font-size="6.35">Area Similarity</text>
<text transform="translate(464.26 268.65) rotate(-90)" text-anchor="middle">Area Similarity</text>
</g>
</svg>
</body></html>
